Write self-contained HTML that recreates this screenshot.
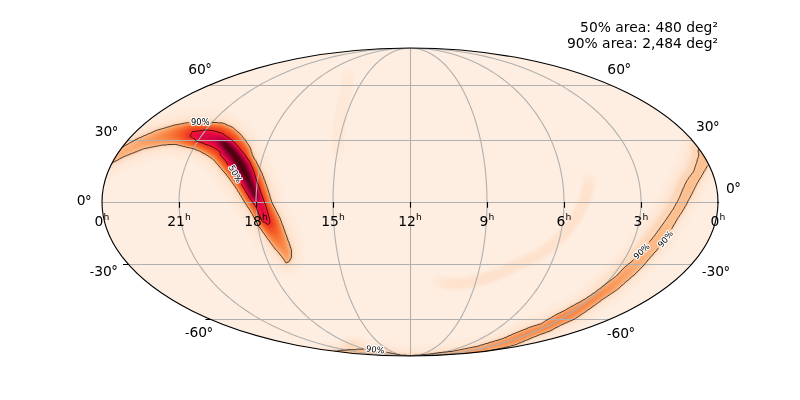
<!DOCTYPE html>
<html><head><meta charset="utf-8"><style>html,body{margin:0;padding:0;background:#fff;overflow:hidden}svg{display:block;will-change:transform}</style></head>
<body>
<svg width="800" height="400" viewBox="0 0 800 400">
<rect width="800" height="400" fill="#fff"/>
<defs><clipPath id="ec"><ellipse cx="410" cy="202" rx="308" ry="154"/></clipPath></defs>
<ellipse cx="410" cy="202" rx="308" ry="154" fill="#feeee1"/>
<g clip-path="url(#ec)"><path d="M344.8 70.5 346.8 70.3 350.8 70.8 352.2 71.3 353.2 72.5 354.0 74.8 354.3 77.8 354.2 80.8 353.7 86.8 349.6 103.2 346.7 118.8 344.7 140.2 344.2 149.8 343.1 156.8 342.2 159.6 341.8 160.5 340.8 161.5 339.2 162.0 335.8 161.9 334.8 161.7 333.8 161.1 332.8 159.6 331.8 155.8 331.4 150.8 331.3 139.8 333.3 117.2 336.4 100.8 340.4 84.8 341.0 78.8 341.5 75.8 342.1 73.8 342.8 72.4 343.2 71.6 344.3 70.8ZM198.8 108.2 213.2 108.7 224.8 109.4 227.8 110.2 238.2 114.9 240.2 116.1 242.2 117.6 248.5 122.8 250.5 124.8 256.5 132.2 261.5 139.8 263.2 143.2 265.2 149.8 269.1 156.8 275.4 169.8 279.3 180.2 284.5 196.8 293.4 214.8 301.5 236.8 304.6 246.2 305.1 249.2 305.1 257.8 304.9 259.8 304.4 261.8 301.8 267.2 300.6 269.2 298.2 271.7 295.8 273.5 292.2 275.4 290.2 276.2 287.8 276.7 285.2 276.8 282.8 276.4 280.2 275.4 277.8 273.9 276.0 272.2 269.7 263.8 266.8 260.1 264.5 257.8 262.9 255.8 247.8 234.8 246.6 232.8 243.3 226.2 238.1 217.2 233.1 209.8 223.6 194.2 217.6 185.8 204.2 170.0 199.8 167.0 193.8 163.6 189.2 161.9 173.2 158.1 164.8 158.6 147.2 162.2 130.8 168.8 117.8 175.5 102.8 183.6 88.2 188.4 85.8 188.8 83.8 188.8 81.8 188.4 79.2 187.6 77.2 186.4 75.7 185.2 74.2 183.7 72.9 181.8 72.0 179.8 71.5 177.8 71.2 175.8 71.2 173.2 76.3 147.8 77.4 144.2 78.8 142.0 80.8 139.7 83.2 137.9 85.2 137.0 87.2 136.5 89.8 136.2 91.8 136.3 95.8 137.3 106.2 140.5 117.2 134.1 130.2 126.9 151.8 117.4 172.2 111.5 185.8 109.0 198.7 108.2ZM713.8 114.2 715.8 114.2 718.2 114.6 720.8 115.4 722.8 116.6 724.3 117.8 725.7 119.2 727.3 121.8 729.0 123.8 729.9 125.2 731.0 128.2 735.9 148.2 736.0 150.2 735.8 152.3 735.1 154.2 734.4 155.8 733.3 157.2 731.8 158.8 723.8 165.8 716.2 172.9 707.2 188.2 696.4 209.2 692.1 216.8 686.8 224.8 682.0 233.2 673.8 245.8 667.4 254.8 658.8 264.6 652.8 271.8 640.8 283.8 631.2 291.8 623.8 298.5 611.2 306.8 601.2 314.1 587.8 323.5 579.8 328.7 565.2 335.2 554.2 341.1 541.8 345.7 518.8 355.3 509.2 357.7 501.2 359.5 501.0 359.8 501.0 370.8 500.6 372.8 500.1 374.2 498.7 376.8 496.8 378.7 494.8 379.9 492.2 380.8 489.8 381.0 329.8 381.0 327.2 380.6 324.8 379.7 322.7 378.2 321.0 376.2 319.7 373.7 319.0 370.8 319.0 352.2 319.2 350.2 320.1 347.2 321.7 344.8 324.1 342.8 326.8 341.5 336.8 339.7 340.2 337.8 344.2 336.4 347.8 335.8 351.8 335.5 354.8 335.6 358.2 336.1 361.2 336.9 364.8 338.3 365.8 338.4 376.2 339.6 389.2 341.4 402.2 344.0 409.2 344.5 422.8 343.7 438.8 341.6 450.2 340.5 452.2 340.1 474.8 335.6 499.1 328.2 509.8 323.5 526.2 316.9 536.4 313.8 543.8 309.1 551.2 304.8 559.8 300.6 566.2 296.8 571.2 294.2 579.8 287.3 594.8 273.7 603.8 265.8 612.9 255.2 618.9 249.8 626.4 240.8 634.8 230.3 651.0 207.8 655.6 200.8 660.8 191.8 664.3 183.2 667.4 176.2 669.2 172.8 672.5 167.8 676.1 162.8 679.5 152.2 679.2 149.8 679.2 147.8 679.8 144.2 684.8 128.8 685.9 126.2 687.2 124.3 688.7 122.8 690.0 121.8 691.8 120.7 693.2 120.0 711.2 114.7 713.7 114.2ZM586.2 172.2 587.2 171.8 588.8 171.8 592.8 172.4 594.2 172.9 595.2 173.7 595.8 174.4 596.2 175.6 596.6 177.2 596.6 181.8 596.1 186.8 591.0 204.8 590.4 206.2 582.6 221.8 570.8 237.5 557.5 250.8 542.2 262.0 540.8 262.9 520.8 271.4 502.8 280.4 484.8 286.7 466.8 291.0 464.8 291.2 446.2 291.1 441.2 289.5 437.2 288.0 433.2 285.9 432.1 284.8 431.5 283.8 431.3 282.8 431.4 281.8 431.9 279.8 432.8 277.2 433.4 276.2 434.2 275.4 435.2 275.0 437.2 274.6 439.8 274.6 443.2 275.1 448.2 276.0 463.8 276.0 479.7 272.2 497.0 266.2 514.2 257.6 533.8 249.2 547.8 239.0 559.2 227.5 569.8 213.4 576.6 199.7 583.0 177.2 584.7 173.8 585.2 173.0 586.1 172.2Z" fill="#feebdc"/><path d="M345.8 74.2 350.2 74.6 351.2 75.0 352.1 76.2 352.6 77.8 352.7 79.8 352.2 86.8 348.1 103.2 345.2 118.8 343.2 140.2 342.9 145.2 342.2 150.1 341.2 152.9 340.2 154.1 339.2 154.4 336.2 154.3 335.2 154.1 334.8 153.7 333.8 152.1 333.1 149.2 332.8 145.2 332.8 139.8 334.8 117.2 337.9 100.8 341.8 85.2 342.3 79.8 342.7 77.8 343.8 75.4 344.4 74.8 345.4 74.2ZM194.2 112.7 200.2 112.3 202.2 112.6 206.8 112.6 208.8 112.8 212.8 112.8 214.8 113.1 223.8 113.4 226.2 114.1 235.3 118.1 237.2 119.1 239.2 120.5 245.8 125.9 247.6 127.8 253.2 134.8 257.9 141.8 259.3 144.8 261.3 151.2 265.4 158.8 271.5 171.2 275.4 181.8 280.6 198.2 289.5 216.2 297.6 238.2 300.6 247.2 300.9 249.2 300.9 257.2 300.5 260.2 298.4 264.8 297.3 266.8 295.8 268.4 293.8 269.9 291.2 271.3 289.2 272.2 287.8 272.5 285.8 272.6 283.8 272.3 281.8 271.5 280.2 270.6 278.9 269.2 273.9 262.2 269.8 257.2 267.0 254.2 251.1 232.2 250.2 230.8 247.0 224.2 241.8 215.2 236.5 207.2 227.2 192.2 220.9 183.2 215.2 176.4 206.8 166.7 201.8 163.3 195.8 160.0 190.8 158.0 173.8 153.9 167.2 154.4 164.8 154.4 146.0 158.2 128.8 165.2 115.8 171.8 100.8 179.9 87.8 184.3 86.2 184.6 84.2 184.6 82.8 184.4 81.2 183.9 79.8 183.1 78.6 182.2 77.6 181.2 76.6 179.8 75.9 178.2 75.5 176.8 75.3 175.2 75.4 173.2 80.3 148.8 81.1 146.2 81.9 144.8 83.2 143.1 85.2 141.6 86.8 140.9 88.2 140.5 89.8 140.3 91.8 140.5 106.8 145.0 111.2 142.6 119.8 137.5 132.2 130.6 152.8 121.5 173.2 115.5 186.2 113.2 194.0 112.8ZM712.2 118.7 714.2 118.4 716.2 118.4 718.2 118.9 719.8 119.6 721.8 121.1 723.4 123.2 725.2 124.6 726.5 126.2 727.5 128.8 732.5 148.8 732.5 150.2 732.3 151.8 731.2 154.2 729.4 156.2 721.4 163.2 713.8 170.4 704.3 186.3 698.5 197.8 693.3 207.8 689.2 214.8 683.8 223.1 679.1 231.2 671.0 243.8 664.8 252.5 656.1 262.2 650.2 269.3 638.4 281.2 630.8 287.6 621.2 296.0 609.2 304.0 599.2 311.3 582.8 322.7 577.8 325.8 563.8 332.0 553.2 337.8 539.2 342.9 517.8 352.0 504.2 355.3 497.8 356.6 497.5 357.2 497.5 370.2 497.2 372.2 496.2 374.2 494.8 375.8 493.2 376.8 491.3 377.4 329.8 377.5 327.8 377.2 326.2 376.5 324.8 375.4 323.8 374.2 322.8 372.2 322.5 370.2 322.5 351.8 322.8 349.8 323.5 348.2 324.8 346.6 326.8 345.2 328.8 344.6 337.2 343.1 338.4 341.8 339.8 340.6 341.8 339.5 344.2 338.5 346.8 337.8 349.8 337.4 352.8 337.3 355.8 337.6 358.8 338.2 361.2 339.0 363.8 340.3 365.8 341.9 375.8 343.0 388.8 344.8 401.8 347.4 408.8 348.0 411.8 348.0 413.2 347.7 423.2 347.2 439.2 345.0 451.8 343.8 475.2 339.0 499.8 331.7 510.8 326.9 527.2 320.3 537.8 317.0 543.2 313.5 552.8 308.0 561.8 303.5 567.8 300.0 574.7 296.2 579.2 292.7 586.8 286.3 597.2 276.7 606.2 268.8 615.8 258.0 621.8 252.5 629.5 243.2 637.5 233.2 642.9 226.2 654.3 210.2 659.3 202.8 664.5 193.8 668.2 184.8 672.8 174.8 675.8 170.2 679.8 164.8 683.7 152.8 683.8 152.2 683.3 148.8 683.7 145.8 688.7 130.2 690.2 127.2 692.2 125.2 694.8 123.9 712.2 118.8ZM586.8 175.1 588.2 174.9 591.8 175.4 593.2 175.9 594.2 176.7 594.9 177.8 595.3 179.8 595.5 182.2 595.3 185.8 594.3 189.8 590.0 204.8 582.1 220.8 569.7 237.2 556.8 250.2 541.6 261.2 540.2 262.1 520.2 270.6 502.2 279.6 484.2 285.8 466.8 290.1 464.8 290.3 450.8 290.3 446.2 290.1 442.3 288.8 438.9 287.2 436.5 285.8 435.6 284.8 435.2 283.8 435.1 282.8 436.1 278.8 437.0 277.2 438.2 276.5 439.5 276.2 441.2 276.2 444.2 276.4 448.2 277.0 464.2 276.9 480.8 272.9 497.2 267.2 514.8 258.4 534.2 250.1 548.3 239.8 559.8 228.2 570.3 214.2 577.4 200.2 583.5 179.8 584.8 176.9 585.8 175.7 586.4 175.2Z" fill="#fee9d9"/><path d="M194.2 115.2 200.2 114.8 202.2 115.0 206.8 115.0 208.2 115.3 212.8 115.3 219.8 115.8 223.2 115.8 225.2 116.3 234.8 120.5 236.2 121.3 238.2 122.8 244.2 127.8 245.8 129.3 250.9 135.8 255.9 143.2 257.1 145.8 259.1 152.2 263.2 159.8 269.3 172.2 273.0 182.2 278.4 199.2 287.1 216.8 294.1 235.8 298.2 247.8 298.5 249.8 298.5 257.2 298.1 259.8 295.3 265.2 293.9 266.8 292.2 267.9 288.8 269.8 287.2 270.2 285.8 270.2 284.2 269.9 282.8 269.3 281.8 268.7 280.3 267.2 275.8 260.8 271.8 255.8 269.3 253.2 268.2 251.8 253.2 231.0 252.4 229.8 248.9 222.8 243.8 213.8 238.7 206.2 229.2 190.8 222.2 181.0 211.0 167.8 208.2 164.7 203.2 161.3 196.8 157.7 191.8 155.7 174.2 151.5 164.2 152.0 145.8 155.7 128.2 162.8 114.4 169.8 99.8 177.7 87.2 181.9 84.8 182.2 82.2 181.7 80.0 180.2 78.5 178.2 77.8 175.8 77.9 173.2 82.7 149.2 83.3 147.2 84.2 145.8 85.2 144.6 86.8 143.5 88.8 142.9 91.2 142.9 105.2 147.1 107.2 147.6 112.3 144.8 120.8 139.7 133.2 132.8 153.8 123.7 173.2 118.0 186.8 115.6 193.9 115.2ZM712.8 121.1 714.2 120.8 715.8 120.8 718.2 121.5 720.0 122.8 721.6 124.8 722.8 125.2 723.8 126.0 725.0 127.8 725.5 129.2 730.4 148.8 730.4 151.2 729.4 153.2 728.0 154.8 720.2 161.5 712.1 169.2 702.5 185.2 691.5 206.8 687.5 213.8 682.2 221.8 677.4 230.2 669.2 242.6 663.2 251.2 654.8 260.8 648.5 268.2 637.0 279.8 627.8 287.5 620.2 294.2 608.1 302.2 597.9 309.8 581.8 320.9 576.8 324.0 562.8 330.2 552.2 336.0 539.8 340.5 517.2 350.0 503.8 353.4 495.8 355.0 495.5 355.2 495.5 369.8 495.4 371.3 494.8 372.8 493.8 374.0 492.8 374.8 491.2 375.4 489.8 375.5 329.8 375.5 328.2 375.2 327.2 374.8 325.6 373.2 324.8 371.8 324.5 370.2 324.5 351.8 324.8 350.2 325.2 349.2 326.5 347.8 328.2 346.8 338.8 344.9 339.6 343.2 341.1 341.8 343.2 340.4 345.8 339.4 348.2 338.9 350.8 338.6 353.2 338.6 355.8 338.9 358.8 339.6 361.2 340.7 362.9 341.8 364.0 342.8 364.7 343.8 365.2 344.0 375.8 345.1 388.2 346.8 401.8 349.5 408.8 350.0 411.8 350.0 420.8 349.3 423.2 349.3 439.3 347.1 450.8 346.0 475.7 341.0 500.2 333.7 511.8 328.6 528.2 322.0 538.8 318.8 542.8 316.1 553.8 309.7 562.7 305.2 568.8 301.7 577.2 297.2 582.8 292.7 587.9 288.2 598.8 278.4 607.6 270.8 617.2 259.7 623.3 254.2 631.2 244.8 643.3 229.8 656.2 211.7 661.5 203.8 666.7 194.8 670.4 185.8 673.5 178.8 675.1 175.8 677.8 171.7 681.8 166.2 685.1 156.8 686.2 152.8 685.8 149.2 685.8 147.8 686.1 146.2 690.9 131.2 692.2 128.6 693.8 127.2 695.8 126.1 712.4 121.2ZM587.2 177.7 588.8 177.7 591.2 178.2 592.2 178.4 593.2 179.1 593.8 179.9 594.2 181.5 594.4 185.8 593.5 189.8 589.2 204.6 581.4 220.2 569.1 236.8 556.2 249.5 541.0 260.8 539.8 261.4 519.8 269.9 502.2 278.7 483.3 285.2 466.2 289.3 464.8 289.5 450.8 289.5 446.7 289.3 444.9 288.8 441.5 287.2 440.0 286.2 439.0 285.2 438.5 284.2 438.4 283.2 439.1 280.2 439.8 278.8 440.3 278.2 441.2 277.8 443.8 277.5 448.2 277.9 450.8 277.7 464.2 277.7 480.8 273.8 497.8 267.9 514.9 259.2 534.8 250.7 548.9 240.2 560.4 228.8 571.0 214.8 578.3 200.2 582.3 186.2 584.2 180.8 584.8 179.8 585.8 178.5 587.0 177.8Z" fill="#fee7d6"/><path d="M198.8 116.6 200.2 116.5 201.8 116.8 206.2 116.8 208.2 117.0 212.8 117.0 214.2 117.3 223.2 117.5 224.8 118.0 233.8 122.0 235.2 122.7 236.8 123.8 243.3 129.2 244.7 130.8 249.8 137.1 254.5 144.2 255.5 146.2 257.4 152.8 261.5 160.2 267.6 172.8 271.7 183.8 276.9 200.2 285.6 217.8 292.5 236.2 296.5 248.2 296.7 249.8 296.7 257.2 296.5 259.2 293.9 264.2 292.8 265.5 291.2 266.5 288.2 268.1 286.2 268.5 284.8 268.3 283.8 267.9 282.8 267.2 281.8 266.2 277.2 259.8 273.2 254.8 270.7 252.3 269.6 250.8 254.8 230.2 253.9 228.8 250.6 222.2 245.5 213.2 240.1 205.2 230.8 189.9 224.2 180.8 218.5 173.8 210.8 164.8 209.3 163.3 204.2 159.9 197.2 156.0 192.2 154.0 174.2 149.7 168.8 150.0 167.2 150.2 164.2 150.2 145.2 154.0 127.3 161.2 113.8 168.1 99.2 176.0 86.8 180.2 84.8 180.5 82.8 180.0 81.0 178.8 80.0 177.2 79.5 175.8 79.5 173.8 84.5 149.2 85.0 147.8 85.6 146.8 86.5 145.8 87.8 145.0 89.2 144.5 91.2 144.6 107.2 149.5 113.2 146.2 121.8 141.1 133.8 134.5 154.2 125.4 173.8 119.6 186.8 117.3 189.8 117.3 195.2 116.8 198.3 116.8ZM713.8 122.6 715.8 122.5 717.8 123.2 719.0 124.2 720.0 125.8 722.2 126.6 723.0 127.2 723.7 128.2 724.2 129.8 728.9 148.8 729.1 150.2 728.9 151.2 728.4 152.2 727.2 153.5 719.2 160.5 710.8 168.6 701.2 184.6 695.4 196.2 690.4 205.8 686.2 213.0 680.8 221.2 676.3 229.2 668.1 241.8 661.8 250.7 653.3 260.2 647.5 267.2 636.0 278.8 626.8 286.5 619.2 293.2 607.1 301.2 597.2 308.4 580.8 319.9 576.2 322.7 562.2 328.9 551.8 334.7 537.8 339.8 516.2 348.9 503.2 352.0 494.2 353.8 494.1 354.2 494.0 370.8 493.7 371.8 492.8 373.0 491.8 373.7 490.8 374.0 330.2 374.1 329.2 374.0 328.2 373.7 327.2 373.0 326.6 372.2 326.1 371.2 325.9 369.8 325.9 351.8 326.1 350.8 326.6 349.8 327.6 348.8 328.8 348.1 340.2 346.2 340.5 345.8 341.0 344.2 342.1 342.8 344.2 341.3 346.8 340.3 348.8 339.9 351.2 339.6 353.8 339.7 355.8 340.0 358.5 340.8 360.8 341.9 362.3 343.2 363.2 344.8 363.8 345.2 375.8 346.5 388.2 348.3 401.2 350.9 407.2 351.2 408.2 351.4 412.2 351.4 417.2 350.9 423.2 350.7 439.8 348.4 451.2 347.4 476.2 342.4 500.2 335.2 512.2 330.0 528.8 323.4 539.2 320.1 546.2 315.7 554.8 310.8 563.2 306.6 569.8 302.8 579.2 297.7 580.6 296.8 581.0 296.2 589.2 289.3 599.7 279.8 608.8 271.9 618.5 260.8 624.6 255.2 632.6 245.8 644.8 230.7 657.8 212.6 663.0 204.8 668.1 195.8 669.1 193.8 671.9 186.8 676.5 176.8 679.2 172.6 683.5 166.8 688.0 152.8 687.5 149.2 687.7 146.8 692.5 131.8 693.6 129.8 694.8 128.6 696.2 127.8 713.4 122.8ZM586.8 180.6 587.8 180.5 590.2 180.9 591.2 181.1 592.2 181.7 592.8 182.3 593.1 183.2 593.4 185.8 592.7 189.2 588.4 204.2 580.7 219.8 568.3 236.3 555.8 248.8 540.8 259.8 539.1 260.8 519.8 269.0 502.2 277.8 483.8 284.2 465.2 288.6 450.8 288.6 446.8 288.3 444.3 287.2 442.4 285.8 442.0 285.2 441.8 284.2 442.1 282.8 442.9 280.2 443.2 279.8 443.9 279.2 445.8 278.9 447.8 278.9 450.2 278.6 464.2 278.6 481.3 274.5 498.2 268.6 515.2 260.0 535.2 251.5 549.7 240.8 561.2 229.2 571.8 215.2 579.0 200.8 583.8 184.8 585.2 181.8 586.5 180.8Z" fill="#fee5d2"/><path d="M194.8 118.2 200.2 117.8 201.8 118.1 206.2 118.1 207.8 118.3 212.8 118.3 214.2 118.6 223.2 118.9 233.2 123.2 234.8 124.0 236.2 125.1 243.4 131.2 248.6 137.8 253.2 144.8 254.2 146.8 256.1 153.2 260.5 161.2 266.4 173.2 270.5 184.2 275.6 200.8 284.4 218.2 292.5 240.2 295.3 248.8 295.4 257.2 295.2 258.8 293.0 263.2 292.1 264.2 290.8 265.2 287.8 266.9 286.2 267.2 285.2 267.0 284.2 266.6 282.8 265.3 278.2 258.9 274.2 253.9 271.6 251.2 270.8 250.1 255.8 229.2 251.6 221.2 246.4 212.2 241.2 204.5 231.9 189.2 224.8 179.2 212.1 164.2 210.2 162.4 204.8 158.6 197.8 154.8 192.2 152.6 185.2 151.1 174.8 148.5 172.2 148.4 171.2 148.6 168.2 148.7 167.2 148.9 164.2 148.9 162.8 149.2 144.8 152.8 127.2 159.8 112.8 167.1 98.2 175.0 86.2 179.0 85.2 179.2 83.8 179.0 82.8 178.5 81.9 177.8 81.2 176.8 80.8 175.2 80.9 173.8 85.7 149.8 86.5 147.8 87.2 146.9 88.2 146.2 89.2 145.9 90.8 145.9 107.2 151.0 107.8 150.9 114.1 147.2 122.2 142.4 134.8 135.5 154.8 126.6 174.2 120.9 186.8 118.7 194.6 118.2ZM713.2 124.2 714.2 123.9 715.2 123.8 716.7 124.2 718.1 125.2 719.3 127.1 720.2 127.1 721.2 127.3 721.9 127.8 722.7 128.8 727.9 149.2 727.9 150.2 727.7 151.2 726.2 152.9 718.8 159.4 709.9 167.8 700.2 184.1 694.4 195.8 689.4 205.2 685.2 212.5 679.8 220.8 675.3 228.8 667.1 241.2 661.1 249.8 652.7 259.2 646.8 266.4 635.2 277.9 626.2 285.4 618.6 292.2 603.8 302.2 596.3 307.8 580.2 318.9 575.8 321.7 562.1 327.8 551.2 333.7 538.8 338.2 516.2 347.7 503.2 350.8 493.2 352.9 492.9 353.2 492.9 370.2 492.7 371.2 492.2 371.9 491.8 372.4 490.8 372.8 330.2 372.9 328.8 372.7 327.6 371.8 327.2 370.8 327.1 369.8 327.1 351.8 327.6 350.2 328.2 349.6 329.2 349.2 340.8 347.3 342.2 346.9 342.3 345.2 343.1 343.8 345.0 342.2 347.3 341.2 349.8 340.7 352.2 340.6 354.8 340.8 356.8 341.3 358.8 342.1 360.2 343.1 361.2 344.2 361.8 345.8 362.8 346.3 375.2 347.6 387.8 349.3 401.2 352.1 403.2 352.1 408.2 352.6 412.2 352.6 413.8 352.3 416.2 352.3 417.2 352.1 423.8 351.8 439.8 349.6 448.8 348.8 449.8 348.6 451.2 348.6 476.2 343.6 501.2 336.1 512.8 331.0 528.8 324.6 539.8 321.2 544.2 318.2 555.2 311.8 564.2 307.3 570.2 303.8 578.8 299.3 584.8 295.7 587.7 293.7 589.2 292.5 589.8 292.2 590.2 290.2 591.1 289.2 591.8 288.8 601.2 280.0 609.2 273.2 619.2 261.8 625.9 255.8 645.8 231.6 658.6 213.8 663.6 206.2 669.1 196.8 670.2 194.5 673.1 187.2 677.5 177.8 680.4 173.2 684.8 167.3 688.0 157.8 689.4 152.8 688.8 149.2 689.0 147.2 693.8 132.2 694.8 130.4 695.8 129.5 696.8 129.0 713.1 124.2ZM586.8 184.2 587.8 184.1 589.8 184.5 590.8 184.8 591.2 185.2 591.6 186.8 591.5 188.8 587.2 203.8 579.2 219.7 567.5 235.2 555.0 247.8 540.7 258.2 539.2 259.3 518.8 268.0 501.3 276.8 483.7 282.9 465.2 287.3 450.8 287.3 448.8 287.0 446.6 286.2 446.2 285.8 446.1 284.8 446.5 282.8 446.9 281.8 448.2 280.4 451.2 279.9 464.8 279.9 481.2 275.9 498.2 270.0 515.7 261.2 535.2 253.0 536.8 252.0 550.2 242.0 562.0 230.2 573.0 215.8 580.2 201.2 584.8 186.0 585.6 184.8 586.6 184.2Z" fill="#fee2ce"/><path d="M195.2 119.1 198.8 119.1 200.2 118.8 201.2 119.1 206.2 119.1 207.8 119.3 212.8 119.3 213.8 119.6 217.8 119.6 218.8 119.8 223.2 119.9 232.8 124.1 235.2 125.6 241.8 131.0 243.0 132.2 248.1 138.8 252.4 145.2 253.1 146.8 255.2 153.8 259.9 162.2 265.5 173.8 269.6 184.8 274.7 201.2 283.5 218.8 288.0 230.8 294.1 248.2 294.4 249.8 294.3 258.2 292.1 262.8 290.2 264.4 288.2 265.6 286.8 266.1 285.2 266.0 284.2 265.5 283.5 264.8 279.8 259.2 278.2 257.2 275.0 253.2 272.1 250.2 259.3 232.2 256.6 228.8 255.9 227.8 252.8 221.2 247.3 211.8 241.9 203.8 238.8 198.2 232.8 188.8 225.3 178.2 214.3 165.2 210.8 161.5 205.2 157.7 197.9 153.8 192.8 151.7 185.2 150.1 174.8 147.4 168.2 147.7 166.8 147.9 163.8 147.9 162.2 148.2 144.6 151.8 127.1 158.8 112.2 166.2 98.2 173.9 85.8 178.1 84.8 178.2 83.8 177.9 82.8 177.2 82.1 176.2 81.8 175.2 81.9 173.8 86.6 150.2 87.4 148.2 88.8 147.1 89.8 146.8 90.8 146.9 106.4 151.8 107.8 151.9 112.8 149.3 121.2 144.1 135.8 136.1 155.2 127.5 174.2 121.9 187.2 119.6 194.9 119.2ZM713.8 125.2 714.8 124.9 716.2 125.2 717.5 126.2 718.2 128.2 718.8 128.3 719.8 128.0 720.8 128.1 721.2 128.4 721.9 129.2 727.0 149.2 727.0 150.2 726.9 150.8 725.8 152.1 718.1 158.8 709.2 167.1 699.4 183.8 693.7 195.2 690.9 200.2 688.7 204.8 684.7 211.8 679.0 220.2 674.5 228.2 666.3 240.8 660.3 249.2 651.9 258.8 646.1 265.8 634.8 277.1 625.6 284.8 617.8 291.8 605.6 299.8 595.8 307.0 579.8 318.1 574.8 321.2 561.8 326.9 551.2 332.7 537.2 337.8 515.8 346.9 502.8 350.0 492.2 352.1 492.1 352.2 492.1 352.8 492.0 370.2 491.6 371.2 491.2 371.6 490.2 372.0 330.2 372.1 329.2 371.9 328.4 371.2 328.1 370.8 327.9 369.8 327.9 352.2 328.1 351.2 328.4 350.8 328.8 350.4 329.8 350.0 341.8 348.0 344.2 347.9 344.5 347.8 344.0 346.8 343.9 345.8 344.5 344.2 346.2 342.8 348.2 342.0 350.2 341.6 352.8 341.5 354.8 341.8 356.8 342.4 358.4 343.2 359.5 344.2 360.0 345.2 360.0 346.8 360.2 347.2 361.8 347.0 362.8 347.2 370.8 348.0 371.7 348.2 375.2 348.5 381.2 349.4 382.2 349.4 383.2 349.7 385.8 349.9 386.8 350.2 387.8 350.2 399.8 352.7 401.2 352.9 403.2 352.9 404.2 353.2 406.7 353.2 407.8 353.4 412.8 353.4 413.8 353.2 416.2 353.2 417.2 353.0 423.8 352.7 439.8 350.5 443.8 350.2 444.8 350.0 448.8 349.7 449.8 349.5 452.8 349.2 477.2 344.2 500.8 337.2 514.2 331.3 529.2 325.3 540.2 322.0 544.8 319.0 553.8 313.7 564.5 308.2 571.2 304.3 579.0 300.2 585.2 296.5 593.6 290.8 599.4 286.2 599.9 285.8 600.0 285.2 600.0 282.8 600.2 282.7 601.8 281.0 602.2 280.8 603.8 279.2 604.2 279.0 610.2 273.8 619.8 262.8 626.8 256.4 646.7 232.2 659.9 213.8 664.9 206.2 670.1 197.2 671.3 194.8 675.2 185.2 678.4 178.2 681.2 174.0 685.6 168.2 688.9 158.2 690.4 153.2 690.4 151.8 689.9 149.2 690.1 147.2 694.6 133.2 695.5 131.2 696.2 130.5 697.8 129.9 713.6 125.2Z" fill="#fde0c9"/><path d="M195.2 119.6 198.8 119.6 200.2 119.3 201.2 119.6 206.2 119.6 207.8 119.8 212.8 119.8 213.8 120.1 217.8 120.1 218.8 120.3 222.8 120.3 227.8 122.4 233.9 125.2 241.3 131.2 242.7 132.8 246.7 137.8 251.5 144.8 252.8 147.2 254.7 153.8 259.1 161.8 265.0 173.8 269.1 184.8 274.2 201.2 283.0 218.8 289.8 237.2 293.6 248.2 293.9 249.8 293.9 257.8 293.6 258.8 291.9 262.2 290.8 263.5 288.2 265.0 286.8 265.6 285.2 265.5 283.8 264.2 280.4 259.2 278.5 256.8 275.2 252.8 272.8 250.3 272.0 249.2 256.5 227.8 253.0 220.8 247.9 211.8 242.5 203.8 232.8 187.8 225.8 178.0 213.2 163.2 211.2 161.3 205.3 157.2 198.2 153.4 192.8 151.2 185.2 149.6 174.8 146.9 168.2 147.2 166.8 147.4 163.8 147.4 144.2 151.4 126.2 158.6 112.2 165.8 97.8 173.6 85.2 177.7 83.8 177.4 82.6 176.2 82.3 175.2 82.3 174.2 87.1 150.2 87.6 148.8 88.8 147.6 89.8 147.3 90.8 147.4 106.8 152.4 107.8 152.5 114.8 148.6 121.2 144.6 135.2 136.9 155.2 128.0 174.2 122.4 187.2 120.1 190.2 120.1 191.8 119.8 194.9 119.8ZM713.8 126.2 715.2 125.9 716.2 126.3 717.0 127.2 717.4 128.8 718.2 128.9 720.2 128.4 720.8 128.6 721.4 129.2 726.5 149.2 726.4 150.8 725.2 152.0 724.7 152.3 717.8 158.5 715.2 161.0 714.8 161.3 708.8 167.1 704.9 173.8 699.2 183.2 693.4 194.8 690.7 199.8 688.4 204.2 684.2 211.8 678.8 219.8 674.0 228.2 671.4 232.2 660.9 247.8 658.5 250.8 651.3 258.8 645.5 265.8 634.2 277.0 627.2 282.8 619.2 290.0 616.8 291.9 606.3 298.8 601.3 302.2 595.8 306.5 579.2 317.9 575.2 320.4 561.1 326.8 550.8 332.4 536.8 337.5 515.8 346.4 502.8 349.6 491.8 351.8 491.6 352.2 491.6 370.2 491.2 371.0 490.8 371.4 490.2 371.6 330.2 371.6 329.2 371.4 328.6 370.8 328.4 369.8 328.4 352.2 328.6 351.2 329.2 350.6 331.2 350.1 341.8 348.4 346.5 348.2 346.5 347.8 346.0 347.2 345.6 346.2 345.8 345.2 346.2 344.5 347.1 343.8 349.2 342.8 350.8 342.5 352.8 342.5 354.5 342.8 356.2 343.4 357.2 344.0 358.0 344.8 358.4 345.8 358.2 346.7 358.0 347.2 358.8 347.5 360.2 347.6 361.8 347.4 364.8 347.9 366.2 347.9 369.2 348.4 375.2 348.9 381.2 349.9 387.8 350.6 400.8 353.3 406.7 353.6 407.8 353.9 412.8 353.9 413.8 353.6 416.2 353.6 417.2 353.4 420.2 353.4 421.2 353.1 423.8 353.1 433.8 351.8 434.2 351.6 437.2 351.4 439.8 350.9 451.8 349.8 476.8 344.8 501.8 337.3 513.2 332.2 529.8 325.6 540.7 322.2 546.2 318.6 555.8 313.1 564.4 308.8 570.8 305.1 577.2 301.8 585.7 296.8 593.7 291.2 604.2 283.2 606.2 281.4 607.4 280.8 608.2 279.9 608.8 279.8 609.3 279.2 610.0 278.2 610.0 275.2 610.2 275.2 615.0 269.8 615.6 268.8 620.6 263.2 626.2 258.2 627.6 256.8 628.2 255.8 635.1 247.8 640.7 240.8 643.5 237.8 648.2 231.7 660.7 214.2 665.8 206.7 670.9 197.8 672.2 195.0 675.1 187.7 679.5 178.2 686.6 168.2 690.1 157.8 691.5 152.8 690.9 149.2 690.9 147.8 695.7 132.8 696.2 131.8 696.8 131.2 698.2 130.7 713.5 126.2Z" fill="#fdddc5"/><path d="M191.8 120.2 194.8 120.2 195.8 120.0 198.8 120.0 200.2 119.8 201.2 120.0 206.2 120.0 207.2 120.2 212.8 120.3 213.8 120.5 217.8 120.5 218.8 120.7 223.2 120.9 232.8 125.1 234.8 126.4 242.2 132.8 247.6 139.8 252.1 146.8 254.3 153.8 258.9 162.2 264.5 173.8 268.6 184.8 273.8 201.2 282.5 218.8 290.6 240.8 293.5 249.2 293.5 257.8 291.4 262.2 289.8 263.6 286.8 265.2 285.8 265.2 284.8 264.7 279.8 257.8 275.8 252.8 273.2 250.2 272.1 248.8 260.0 231.8 257.4 228.2 253.2 220.3 248.2 211.5 242.8 203.3 233.6 188.2 226.0 177.8 215.0 164.8 211.3 160.8 205.8 157.0 198.8 153.1 192.8 150.8 185.2 149.1 174.8 146.5 167.8 146.8 166.8 147.0 163.8 147.0 162.2 147.3 144.8 150.8 126.0 158.2 111.8 165.5 97.8 173.1 85.2 177.2 84.2 177.1 83.1 176.2 82.8 175.2 82.8 174.2 87.5 150.2 88.1 148.8 88.8 148.1 89.8 147.8 90.8 147.9 107.8 153.0 114.8 149.1 123.2 144.0 135.8 137.1 155.2 128.5 174.2 122.9 187.2 120.5 190.8 120.5 191.6 120.2ZM714.8 126.7 715.4 126.8 716.1 127.2 716.8 129.3 717.2 129.4 719.8 128.7 720.5 128.8 721.1 129.2 721.5 130.2 726.3 149.2 726.3 150.2 726.1 150.8 717.7 158.2 708.7 166.8 698.9 183.2 693.1 194.8 687.9 204.8 683.9 211.8 678.5 219.8 674.0 227.8 671.1 232.2 665.9 240.2 660.6 247.8 658.6 250.2 651.2 258.4 645.2 265.7 634.2 276.7 625.2 284.2 619.2 289.7 616.8 291.6 602.8 300.9 595.7 306.2 579.2 317.6 574.2 320.6 561.5 326.2 550.8 332.1 535.8 337.7 516.8 345.8 515.2 346.3 502.8 349.3 491.8 351.5 491.4 351.8 491.4 352.2 491.3 370.2 491.1 370.8 490.2 371.3 330.2 371.4 329.2 371.1 328.9 370.8 328.6 369.8 328.6 352.2 328.9 351.2 329.8 350.7 339.8 349.1 341.7 348.7 346.2 348.6 346.8 348.4 350.4 348.2 349.0 347.8 348.3 347.2 347.7 346.2 347.8 345.5 348.3 344.8 349.0 344.2 350.2 343.8 351.8 343.6 353.2 343.7 354.8 344.1 355.7 344.8 356.2 345.5 356.3 346.2 355.8 347.2 355.0 347.8 355.8 347.9 360.2 347.9 361.8 347.7 362.2 347.8 372.8 348.9 373.8 349.1 375.2 349.2 381.2 350.1 387.8 350.9 400.8 353.6 406.8 353.9 407.8 354.1 412.8 354.1 413.8 353.9 416.2 353.9 417.2 353.7 420.2 353.6 421.2 353.4 424.2 353.3 424.8 353.2 426.2 353.1 426.8 352.9 429.8 352.6 432.2 352.2 433.8 352.1 434.2 351.9 437.2 351.6 439.8 351.2 446.8 350.6 447.2 350.4 449.2 350.3 449.8 350.2 451.8 350.1 476.8 345.1 501.8 337.6 513.2 332.5 528.2 326.5 540.8 322.5 546.2 318.9 555.8 313.4 565.0 308.8 570.8 305.4 579.5 300.8 585.8 297.0 594.1 291.2 615.0 275.2 619.8 270.2 620.0 269.8 620.0 265.2 620.2 264.8 621.1 263.8 621.8 263.5 623.4 261.8 624.1 261.2 626.2 259.1 626.8 258.9 628.2 257.2 628.8 256.4 633.2 251.2 639.7 243.2 644.1 238.2 648.1 233.2 659.6 217.2 666.3 207.2 671.5 198.2 673.0 195.2 675.8 188.2 680.1 178.8 682.8 174.9 687.3 168.8 690.6 158.8 692.4 152.8 691.7 149.2 691.8 147.8 695.8 135.2 696.9 132.2 697.2 131.9 698.2 131.5 714.6 126.8Z" fill="#fddbc1"/><path d="M199.2 120.2 200.2 120.1 201.2 120.3 206.2 120.3 207.2 120.6 212.2 120.6 213.8 120.8 217.8 120.9 218.8 121.1 222.8 121.1 232.8 125.5 234.8 126.8 241.8 132.8 246.9 139.2 251.2 145.8 252.0 147.2 254.1 154.2 258.5 162.2 264.3 174.2 268.1 184.2 273.4 201.2 282.3 219.2 289.0 237.2 293.1 249.2 293.1 257.8 290.9 262.2 289.7 263.2 286.8 264.8 285.8 264.8 285.2 264.6 284.4 263.8 280.2 257.8 276.2 252.8 273.3 249.8 272.6 248.8 257.1 227.2 253.6 220.2 248.5 211.2 243.1 203.2 234.0 188.2 226.2 177.5 213.8 162.8 211.8 160.7 206.0 156.8 198.8 152.8 192.8 150.4 185.8 148.9 174.8 146.2 171.8 146.2 170.8 146.4 167.8 146.4 166.8 146.7 163.8 146.7 162.2 146.9 144.8 150.4 143.8 150.8 126.2 157.8 111.8 165.1 97.8 172.8 85.2 176.9 84.2 176.8 83.6 176.2 83.2 175.8 83.1 174.2 87.9 150.2 88.6 148.8 89.2 148.2 90.2 148.1 92.2 148.7 107.8 153.4 115.2 149.2 123.2 144.4 135.8 137.5 155.8 128.7 174.8 123.1 187.2 120.9 190.8 120.8 191.8 120.6 194.8 120.6 195.8 120.3 199.2 120.2ZM714.2 127.6 715.2 127.4 715.6 127.8 715.9 129.2 716.2 129.8 716.8 129.8 719.8 128.9 720.2 128.9 720.8 129.1 721.1 129.8 726.0 149.2 726.1 150.2 725.2 151.4 717.8 157.9 708.4 166.8 698.8 183.0 692.9 194.8 687.8 204.5 683.8 211.5 678.3 219.8 673.8 227.8 671.5 231.2 665.6 240.2 660.4 247.8 658.4 250.2 651.1 258.2 645.2 265.4 634.2 276.4 626.8 282.6 619.2 289.4 617.2 291.0 602.8 300.6 595.3 306.2 579.2 317.4 574.8 320.1 561.0 326.2 550.2 332.1 535.8 337.4 515.2 346.1 506.2 348.2 502.8 349.1 493.2 350.9 491.2 351.5 491.2 369.8 490.9 370.8 490.2 371.1 330.2 371.2 329.8 371.1 329.1 370.8 328.8 369.8 328.8 352.2 329.1 351.2 329.8 350.9 330.8 350.8 331.2 350.6 333.8 350.3 334.2 350.1 336.8 349.8 337.2 349.6 339.8 349.3 341.8 348.9 346.2 348.8 346.8 348.6 350.8 348.5 351.8 348.3 355.8 348.3 356.8 348.1 360.8 348.1 361.8 347.9 362.2 348.1 363.8 348.1 364.8 348.3 366.2 348.4 366.8 348.6 368.2 348.6 369.2 348.8 370.8 348.9 371.2 349.1 375.2 349.4 379.2 350.1 387.8 351.1 400.8 353.8 406.8 354.1 407.8 354.3 412.8 354.3 413.8 354.1 420.2 353.8 421.2 353.6 424.2 353.6 424.8 353.4 426.2 353.3 426.8 353.1 428.8 352.8 439.2 351.6 439.8 351.4 441.8 351.3 442.2 351.1 446.8 350.8 447.2 350.6 449.2 350.6 449.8 350.4 451.8 350.3 474.8 345.6 476.8 345.3 501.8 337.8 513.2 332.7 529.8 326.1 540.8 322.7 545.2 319.7 554.2 314.5 565.2 308.9 571.2 305.4 579.8 300.9 584.8 297.9 594.2 291.4 605.2 282.9 614.9 275.8 625.2 265.0 628.8 262.3 629.8 261.2 630.0 260.8 630.0 256.2 630.2 255.7 634.2 251.2 634.3 250.8 636.2 248.7 641.9 241.8 644.6 238.8 648.6 233.8 661.6 215.8 666.6 208.2 672.1 198.8 673.8 195.4 675.9 189.8 680.7 179.2 683.4 175.2 687.6 169.8 688.1 168.8 691.6 158.2 692.9 153.8 693.1 152.8 692.4 148.2 697.4 132.8 697.8 132.4 698.8 132.1 713.9 127.8Z" fill="#fdd8bd"/><path d="M195.2 120.7 198.8 120.7 200.2 120.4 201.2 120.7 206.2 120.7 207.2 120.9 212.2 120.9 213.8 121.2 222.8 121.4 232.2 125.6 234.2 126.8 241.7 133.2 246.5 139.2 251.2 146.2 251.8 147.8 253.8 154.2 258.2 162.2 264.0 174.2 267.8 184.2 273.2 201.7 282.0 219.2 286.5 231.2 292.8 249.2 292.8 257.8 290.9 261.8 290.2 262.5 289.2 263.2 286.8 264.5 285.8 264.5 285.2 264.2 280.3 257.2 276.3 252.2 273.8 249.7 272.8 248.5 257.5 227.2 253.8 219.8 248.2 210.2 243.5 203.2 233.7 187.2 226.5 177.2 214.2 162.8 211.8 160.2 206.2 156.5 198.8 152.4 192.8 150.1 185.8 148.6 174.8 145.8 171.8 145.8 170.8 146.1 167.8 146.1 166.8 146.3 163.2 146.4 144.8 150.1 126.2 157.4 111.8 164.8 97.8 172.4 85.2 176.6 84.2 176.4 83.6 175.8 83.4 174.2 87.9 151.8 88.6 149.2 89.2 148.6 90.2 148.4 107.8 153.7 116.7 148.8 121.8 145.6 135.8 137.8 155.8 129.0 174.8 123.4 187.2 121.2 190.8 121.2 191.8 120.9 194.8 120.9 195.2 120.8ZM714.2 128.2 714.8 128.2 715.2 128.8 715.2 130.2 716.8 130.0 719.8 129.1 720.2 129.1 720.9 129.8 726.0 149.8 725.9 150.2 725.1 151.2 724.2 151.8 720.2 155.6 719.8 155.8 715.1 160.2 714.2 160.8 708.2 166.6 698.7 182.8 692.9 194.2 687.7 204.2 683.7 211.2 678.2 219.4 673.6 227.8 671.3 231.2 666.1 239.2 660.2 247.6 658.1 250.2 650.8 258.2 645.1 265.2 634.1 276.2 626.8 282.3 618.8 289.6 617.2 290.8 605.1 298.8 600.8 301.8 595.2 306.1 579.1 317.2 574.8 319.9 560.6 326.2 550.2 331.9 538.1 336.2 515.2 345.9 505.2 348.2 502.8 348.9 500.8 349.2 491.2 351.2 491.0 351.8 491.0 369.8 490.8 370.6 490.2 370.9 330.2 371.0 329.8 370.9 329.2 370.6 329.0 369.8 329.0 352.2 329.2 351.4 329.8 351.1 332.2 350.8 332.8 350.6 335.2 350.3 335.8 350.1 338.2 349.8 341.8 349.1 346.2 349.0 347.2 348.8 350.8 348.8 351.8 348.5 355.8 348.5 356.8 348.3 360.8 348.3 361.8 348.1 362.2 348.3 363.8 348.3 364.8 348.5 366.2 348.6 366.8 348.8 370.8 349.1 371.2 349.3 375.2 349.6 375.8 349.8 378.8 350.1 379.2 350.3 382.2 350.5 384.8 351.0 387.8 351.3 400.8 354.0 403.2 354.0 404.2 354.3 406.8 354.3 407.8 354.5 412.8 354.5 413.8 354.3 416.8 354.3 417.2 354.1 420.2 354.0 421.2 353.8 424.2 353.8 424.8 353.6 426.2 353.5 428.8 353.0 439.2 351.8 439.8 351.6 441.8 351.5 442.2 351.3 444.2 351.3 444.8 351.1 451.8 350.5 476.8 345.5 501.8 338.0 513.2 332.9 529.8 326.3 540.8 322.9 545.2 319.9 554.2 314.7 564.9 309.2 571.2 305.6 579.8 301.1 586.1 297.2 594.2 291.7 615.2 275.8 625.4 265.2 631.6 260.2 640.2 250.8 640.2 244.7 642.2 242.8 642.2 242.2 645.7 238.8 645.8 238.2 647.7 236.2 647.8 235.8 649.7 233.8 649.8 233.2 651.2 231.8 651.2 231.2 652.2 230.2 652.2 229.8 653.8 228.2 653.8 227.7 654.8 226.8 654.8 226.2 656.2 224.8 656.2 224.2 657.2 223.2 657.2 222.8 658.8 221.2 658.8 220.7 659.8 219.7 659.8 219.2 661.2 217.8 661.2 217.2 662.2 216.2 662.2 215.7 663.2 214.8 663.2 214.2 664.2 213.2 664.2 212.8 665.2 211.7 665.2 211.2 666.2 210.2 666.2 209.8 667.2 208.8 667.2 208.2 668.2 207.2 668.2 206.8 668.8 206.2 668.8 205.8 669.2 205.2 669.2 204.7 670.2 203.7 670.2 203.2 670.8 202.7 670.8 202.2 671.2 201.8 671.2 201.2 672.2 200.2 672.2 199.8 672.8 199.2 672.7 198.8 673.2 198.2 673.2 197.8 673.8 197.2 673.7 196.8 674.2 196.2 674.2 195.8 674.8 195.2 674.8 194.7 675.2 194.2 675.2 193.2 675.8 192.8 675.7 192.2 676.2 191.8 676.2 190.8 676.8 190.2 676.7 189.8 677.2 189.2 677.2 188.2 677.7 187.7 677.7 187.2 678.2 186.7 678.2 186.2 678.7 185.8 678.7 185.2 679.2 184.8 679.2 183.8 679.7 183.2 679.7 182.8 680.2 182.2 680.2 181.8 680.7 181.2 680.7 180.8 681.2 180.2 681.2 179.7 681.7 179.2 681.7 178.8 682.7 177.7 682.7 177.2 683.7 176.2 683.7 175.8 685.2 174.2 685.2 173.8 686.8 172.2 686.7 171.7 688.2 170.2 688.2 169.7 688.8 169.2 688.8 168.7 689.2 168.2 689.2 167.2 689.8 166.8 689.8 165.8 690.2 165.2 690.2 164.2 690.8 163.8 690.8 162.7 691.2 162.2 691.2 161.2 691.8 160.8 691.8 159.8 692.2 159.2 692.2 157.8 692.8 157.2 692.8 156.2 693.2 155.8 693.2 154.7 693.8 154.2 693.8 150.8 693.2 150.2 693.2 147.8 693.8 147.2 693.8 146.2 694.2 145.7 694.2 144.2 694.8 143.8 694.8 142.8 695.2 142.2 695.2 141.2 695.8 140.8 695.8 139.8 696.2 139.2 696.2 138.2 696.8 137.7 696.8 136.7 697.2 136.2 697.2 135.2 697.8 134.8 697.8 133.8 698.8 132.8 700.2 132.8 700.8 132.2 701.8 132.2 702.2 131.8 703.8 131.8 704.2 131.2 705.2 131.2 705.8 130.8 706.8 130.8 707.2 130.2 708.8 130.2 709.2 129.8 710.2 129.7 710.7 129.2 712.2 129.2 712.7 128.7 713.7 128.7 714.2 128.2Z" fill="#fdd6b8"/><path d="M199.8 120.7 201.2 120.9 206.2 120.9 207.3 121.2 212.2 121.2 213.8 121.4 217.8 121.5 218.3 121.7 222.8 121.7 232.2 125.9 234.2 127.2 241.3 133.2 246.2 139.4 250.8 146.2 251.5 147.8 253.5 154.2 258.1 162.8 263.7 174.2 267.5 184.2 273.0 201.8 281.7 219.2 288.5 237.8 292.5 249.2 292.5 257.8 290.6 261.8 289.2 262.8 286.8 264.2 285.8 264.2 285.2 263.8 280.7 257.2 276.7 252.2 273.8 249.3 272.9 248.2 260.2 230.2 258.2 227.8 254.0 219.8 248.9 210.8 243.5 202.8 234.4 187.8 227.7 178.2 225.7 175.8 214.2 162.3 211.8 159.8 206.2 156.2 198.8 152.1 192.8 149.8 185.8 148.3 174.8 145.6 171.8 145.6 170.8 145.8 167.8 145.8 166.8 146.1 163.2 146.1 145.8 149.6 143.8 150.1 125.9 157.2 111.2 164.7 97.8 172.1 85.2 176.3 84.7 176.2 83.9 175.8 83.7 175.2 83.7 174.2 88.5 150.2 88.9 149.2 89.2 148.9 90.2 148.7 107.8 154.0 115.6 149.8 123.8 144.8 136.2 137.9 155.8 129.3 174.8 123.7 175.8 123.7 176.2 123.5 181.2 122.7 185.8 121.7 186.8 121.7 187.2 121.5 190.8 121.4 191.8 121.2 194.8 121.2 195.8 120.9 198.8 120.9 199.7 120.8ZM718.2 129.7 720.2 129.3 720.7 129.8 725.6 148.8 725.7 150.2 724.9 151.2 724.1 151.8 720.4 155.2 717.4 157.8 714.9 160.2 714.1 160.8 708.2 166.4 698.5 182.8 692.5 194.8 687.5 204.2 683.5 211.2 678.1 219.2 673.4 227.8 671.1 231.2 665.9 239.2 659.2 248.6 650.8 258.1 644.9 265.2 633.9 276.2 626.6 282.2 618.8 289.4 617.2 290.6 605.8 298.1 600.8 301.6 595.2 305.9 582.8 314.6 574.8 319.7 561.2 325.7 550.2 331.7 536.8 336.6 515.2 345.7 502.8 348.7 491.8 350.9 490.8 351.2 490.8 369.7 490.7 370.2 490.2 370.7 330.2 370.8 329.8 370.7 329.3 370.2 329.2 352.2 329.3 351.8 329.8 351.3 341.8 349.3 346.2 349.2 347.2 348.9 355.8 348.7 356.8 348.4 360.8 348.4 361.8 348.3 362.2 348.4 363.8 348.4 366.8 348.9 368.2 348.9 371.2 349.4 375.2 349.8 379.2 350.4 380.2 350.4 380.8 350.6 384.2 351.0 384.8 351.2 387.8 351.5 400.8 354.2 406.8 354.4 407.8 354.7 412.8 354.7 413.8 354.4 416.8 354.4 417.8 354.2 420.2 354.2 421.2 353.9 424.2 353.9 424.8 353.8 426.2 353.7 426.8 353.5 431.8 352.9 432.2 352.8 433.7 352.7 434.2 352.5 439.2 351.9 439.8 351.8 441.8 351.7 442.2 351.5 446.8 351.2 447.2 351.0 449.2 350.9 450.2 350.7 451.7 350.7 476.8 345.7 501.8 338.2 514.8 332.5 529.8 326.5 540.8 323.1 545.2 320.1 556.2 313.8 565.3 309.2 571.2 305.8 579.8 301.2 586.2 297.4 594.2 291.9 602.2 285.6 615.2 275.9 625.6 265.2 628.8 262.9 632.9 259.2 633.6 258.2 638.4 253.2 639.1 252.2 642.8 248.4 643.1 247.8 646.2 244.4 646.6 243.8 649.4 240.8 653.4 235.8 666.4 217.8 671.4 210.2 676.5 201.2 676.9 200.8 678.2 198.0 681.6 189.8 685.5 181.2 688.1 177.2 689.4 175.8 689.6 175.2 690.9 173.8 692.8 171.0 696.4 160.2 697.9 154.8 697.5 152.8 697.2 150.2 700.9 138.8 701.0 138.2 702.3 134.8 702.8 134.3 703.8 133.9 718.1 129.8Z" fill="#fdd3b4"/><path d="M195.8 121.2 199.2 121.2 200.2 121.0 200.8 121.2 206.2 121.2 207.2 121.4 212.2 121.4 213.2 121.7 222.8 122.0 233.2 126.8 241.2 133.5 246.2 139.8 251.0 147.2 253.2 154.2 258.0 163.2 263.4 174.2 267.5 185.2 272.7 201.8 281.4 219.2 289.5 241.2 292.3 249.8 292.3 257.8 290.5 261.2 289.8 262.2 286.8 263.9 286.2 264.1 285.5 263.8 280.8 257.0 276.8 252.0 274.0 249.2 273.2 248.2 261.2 231.2 257.8 226.8 254.2 219.6 249.2 210.8 243.8 202.8 239.7 195.8 234.7 187.8 227.2 177.2 214.5 162.2 212.0 159.8 206.2 155.9 198.8 151.8 193.8 149.8 188.8 148.6 185.8 148.0 175.2 145.3 171.8 145.3 170.8 145.6 167.8 145.6 166.8 145.8 163.2 145.8 145.8 149.3 143.8 149.8 125.3 157.2 111.2 164.4 97.2 172.0 85.2 176.0 84.8 176.0 84.3 175.8 84.0 175.2 84.0 174.2 88.5 151.8 89.0 149.8 89.3 149.2 89.8 149.0 90.2 149.0 95.2 150.5 106.2 153.9 107.8 154.3 108.2 154.2 115.8 150.0 123.8 145.1 136.8 138.0 155.8 129.6 174.8 124.0 175.8 123.9 187.2 121.7 190.8 121.7 191.8 121.4 194.8 121.4 195.6 121.2ZM719.2 129.6 720.2 129.4 720.6 129.8 720.9 130.8 725.6 149.8 725.6 150.2 720.2 155.1 717.2 157.6 714.8 160.1 713.9 160.8 708.1 166.2 698.3 182.8 692.3 194.8 691.8 195.6 687.3 204.2 683.3 211.2 677.9 219.2 674.3 225.8 670.6 231.8 665.3 239.8 659.2 248.4 650.8 257.9 644.8 265.1 633.8 276.1 626.4 282.2 618.8 289.1 616.2 291.1 602.2 300.4 595.2 305.6 581.8 315.1 574.8 319.6 561.2 325.6 550.2 331.6 536.8 336.4 515.2 345.6 512.2 346.2 502.8 348.6 491.8 350.7 490.8 351.0 490.6 369.8 490.6 370.2 490.2 370.6 330.2 370.6 329.8 370.6 329.4 370.2 329.4 352.2 329.4 351.8 329.8 351.4 342.2 349.4 346.2 349.4 347.2 349.1 350.8 349.1 351.8 348.9 355.8 348.9 356.8 348.6 360.8 348.6 361.8 348.4 366.8 349.1 368.2 349.1 368.8 349.3 370.2 349.4 371.2 349.6 372.8 349.6 373.2 349.8 374.8 349.9 379.2 350.6 380.2 350.6 380.8 350.8 382.2 350.9 382.8 351.1 385.8 351.4 400.8 354.4 406.8 354.6 407.8 354.9 412.8 354.9 413.8 354.6 416.8 354.6 417.8 354.4 420.8 354.3 421.2 354.1 424.2 354.1 440.2 351.9 441.8 351.9 442.8 351.6 444.2 351.6 447.8 351.1 451.8 350.9 475.8 346.1 478.8 345.3 501.2 338.6 514.8 332.7 529.8 326.7 540.9 323.2 546.8 319.4 556.2 313.9 565.6 309.2 571.2 305.9 577.8 302.6 586.2 297.6 594.2 292.1 605.6 283.2 615.2 276.1 625.8 265.4 631.8 260.6 633.1 259.2 633.8 258.4 638.6 253.2 639.2 252.4 641.2 250.4 643.4 247.8 648.2 242.4 653.6 235.8 666.6 217.8 671.6 210.2 677.1 200.8 678.8 197.4 680.9 191.8 685.7 181.2 688.4 177.2 692.8 171.4 696.6 160.2 698.1 154.8 697.4 150.2 702.4 134.8 702.8 134.4 703.8 134.1 704.2 134.1 705.2 133.7 718.9 129.8Z" fill="#fdd1af"/><path d="M199.8 121.2 200.8 121.4 206.2 121.4 207.2 121.7 212.2 121.7 213.2 121.9 217.2 121.9 218.2 122.2 222.7 122.2 232.2 126.5 234.1 127.8 241.1 133.8 245.9 139.8 250.5 146.8 251.0 147.8 252.9 154.2 257.5 162.8 263.1 174.2 267.3 185.2 272.4 201.8 281.1 219.2 288.0 237.8 291.8 248.8 292.1 249.8 292.0 257.8 290.3 261.3 289.8 261.9 288.8 262.5 286.8 263.6 286.2 263.8 285.8 263.6 280.1 255.8 276.9 251.8 274.2 249.1 272.1 246.2 262.6 232.8 258.1 226.7 254.4 219.2 248.9 209.8 244.1 202.8 240.6 196.8 234.4 186.8 227.2 176.9 220.8 169.1 215.1 162.8 214.8 162.1 212.2 159.6 206.7 155.9 199.2 151.8 193.2 149.4 185.8 147.8 175.2 145.1 171.8 145.1 170.8 145.3 167.8 145.3 166.8 145.6 163.2 145.6 145.8 149.1 144.2 149.4 142.2 150.1 125.8 156.8 111.0 164.2 97.2 171.8 85.2 175.8 84.8 175.8 84.2 175.2 84.2 174.2 88.9 150.8 89.2 149.8 89.8 149.2 90.2 149.2 92.8 150.0 107.8 154.6 114.2 151.1 122.2 146.2 136.2 138.5 156.8 129.5 174.7 124.2 175.8 124.2 187.2 122.0 190.8 121.9 191.8 121.7 194.8 121.7 195.8 121.4 199.2 121.4 199.7 121.2ZM719.8 129.6 720.4 129.8 720.7 130.8 723.2 141.2 723.5 141.8 723.7 143.2 724.0 143.8 724.2 145.2 724.5 145.8 724.7 147.2 725.0 147.8 725.2 149.2 725.5 149.8 725.4 150.2 717.2 157.4 714.8 159.9 713.8 160.6 707.9 166.2 698.1 182.8 692.2 194.6 691.8 195.2 687.2 204.1 683.2 211.1 677.8 219.2 674.2 225.6 670.4 231.8 659.9 247.3 658.1 249.2 657.8 249.9 654.1 253.8 653.8 254.4 647.6 261.2 647.4 261.8 645.1 264.2 644.8 264.9 633.8 275.9 626.2 282.1 618.8 288.9 616.2 290.9 611.7 293.8 602.2 300.1 595.2 305.4 581.8 314.9 574.8 319.4 560.8 325.6 550.2 331.4 536.7 336.2 515.2 345.4 501.2 348.7 490.7 350.8 490.5 351.2 490.5 369.8 490.2 370.4 330.2 370.5 329.6 370.2 329.5 352.2 329.8 351.6 342.2 349.5 346.2 349.5 347.2 349.3 351.2 349.3 351.8 349.0 356.2 349.0 356.8 348.8 360.8 348.8 361.8 348.6 362.2 348.8 363.8 348.8 364.2 349.0 365.8 349.0 366.8 349.3 368.2 349.3 368.8 349.5 370.2 349.5 371.2 349.8 374.8 350.0 379.2 350.8 380.2 350.8 380.8 351.0 382.2 351.0 382.8 351.3 385.8 351.5 386.2 351.8 388.8 352.0 389.2 352.3 391.2 352.5 391.8 352.8 393.8 353.0 394.2 353.3 396.2 353.5 396.8 353.8 398.8 354.0 399.2 354.3 400.8 354.5 403.2 354.5 403.8 354.8 406.8 354.8 407.2 355.0 412.8 355.0 413.8 354.8 416.8 354.8 417.8 354.5 420.8 354.5 421.2 354.3 424.2 354.3 425.2 354.0 428.2 353.8 428.8 353.5 430.2 353.5 432.8 353.0 435.8 352.8 436.2 352.5 437.8 352.5 440.2 352.0 441.8 352.0 445.2 351.5 451.8 351.0 453.2 350.8 453.8 350.5 455.8 350.3 456.2 350.0 458.2 349.8 458.8 349.5 460.8 349.3 461.2 349.0 463.2 348.8 463.8 348.5 465.8 348.3 466.2 348.0 468.2 347.8 468.8 347.5 470.8 347.3 471.2 347.0 473.2 346.8 473.8 346.5 475.8 346.3 480.8 344.8 481.2 344.8 483.2 344.0 486.2 343.3 488.2 342.5 491.2 341.8 493.2 341.0 496.2 340.3 500.8 338.8 501.3 338.8 513.8 333.3 529.8 326.9 541.3 323.2 546.8 319.6 556.2 314.1 565.8 309.4 571.2 306.1 580.2 301.4 586.3 297.8 594.3 292.2 606.8 282.6 615.2 276.4 625.8 265.6 628.8 263.2 631.2 261.1 631.8 260.9 633.4 259.2 633.8 258.6 638.9 253.2 639.2 252.6 641.2 250.6 643.6 247.8 646.4 244.8 647.1 243.8 649.9 240.8 650.1 240.2 653.9 235.8 666.8 217.8 671.8 210.3 677.2 200.8 678.8 197.8 681.5 190.8 685.8 181.4 688.6 177.2 692.8 171.8 693.2 170.8 696.8 160.2 696.8 159.8 698.3 154.8 697.5 150.2 702.6 134.8 703.8 134.3 704.2 134.3 707.8 133.1 719.3 129.8Z" fill="#fdceaa"/><path d="M195.8 121.7 199.2 121.7 200.2 121.5 200.8 121.7 206.2 121.7 207.2 121.9 212.2 121.9 213.3 122.2 217.2 122.2 218.2 122.4 222.2 122.4 222.8 122.5 231.8 126.5 233.8 127.8 240.8 133.8 245.6 139.8 250.3 146.8 250.8 147.8 252.8 154.5 256.9 162.2 257.3 162.8 263.1 174.8 267.0 185.2 272.1 201.8 281.1 219.8 287.8 237.8 291.5 248.8 291.8 249.8 291.8 257.8 290.0 261.2 288.8 262.3 286.2 263.6 285.7 263.2 281.2 256.8 277.2 251.8 274.2 248.8 262.9 232.8 258.7 227.2 254.6 219.2 249.1 209.8 244.7 203.2 234.6 186.8 228.2 177.8 226.2 175.2 214.8 161.8 212.2 159.3 206.8 155.6 200.7 152.2 197.8 150.9 193.2 149.1 185.8 147.5 175.2 144.8 171.2 144.9 170.8 145.1 167.2 145.1 166.8 145.3 163.2 145.3 144.2 149.1 125.8 156.5 111.5 163.8 97.2 171.5 85.2 175.5 84.8 175.5 84.5 175.2 84.7 173.3 89.2 150.8 89.5 149.8 89.8 149.5 91.8 149.9 107.8 154.9 114.2 151.4 122.2 146.5 135.8 139.1 136.3 138.7 156.2 129.9 174.8 124.5 187.2 122.2 191.2 122.1 191.8 121.9 194.8 121.9 195.5 121.8ZM718.2 130.1 720.2 129.8 720.6 130.8 720.6 131.2 725.4 149.8 725.2 150.2 723.8 151.4 720.2 154.8 719.2 155.4 714.7 159.8 713.8 160.4 707.7 166.2 704.9 171.2 704.4 171.8 703.7 173.2 697.9 182.8 692.2 194.2 689.4 199.2 687.2 203.8 683.2 210.8 677.8 219.0 673.1 227.2 670.4 231.2 670.2 231.8 667.4 235.8 665.6 238.8 663.4 241.8 663.2 242.2 660.9 245.2 659.7 247.2 657.9 249.2 657.7 249.8 653.9 253.8 653.7 254.2 650.4 257.8 648.8 259.9 647.4 261.2 647.2 261.8 644.9 264.2 644.7 264.8 633.7 275.8 626.2 281.9 618.7 288.8 616.2 290.7 615.8 290.9 613.2 292.7 611.5 293.8 605.5 297.8 602.8 299.7 602.2 299.9 594.8 305.7 593.0 306.8 591.8 307.7 591.2 307.9 589.8 309.2 588.0 310.2 586.8 311.2 586.2 311.4 581.8 314.7 579.8 315.9 578.8 316.7 575.8 318.4 574.8 319.2 566.2 323.2 565.2 323.4 561.8 325.2 560.8 325.4 550.2 331.2 546.8 332.4 545.2 333.2 539.8 334.9 532.8 337.9 532.2 337.9 529.8 339.2 528.8 339.4 526.2 340.7 525.2 340.9 519.8 343.4 519.2 343.4 515.2 345.2 510.3 346.4 509.8 346.7 508.2 346.9 507.8 347.2 505.8 347.4 503.2 348.2 501.8 348.4 501.2 348.7 499.2 348.9 498.8 349.2 496.8 349.4 496.2 349.7 494.2 349.9 493.8 350.2 491.8 350.4 491.2 350.7 490.5 350.8 490.4 369.8 490.2 370.2 489.8 370.4 330.2 370.4 329.8 370.2 329.6 352.2 329.8 351.8 342.2 349.6 346.2 349.6 347.2 349.4 351.2 349.4 351.8 349.1 356.2 349.1 356.8 348.9 361.8 348.8 363.8 348.9 364.2 349.1 365.8 349.1 366.8 349.4 368.2 349.4 368.8 349.6 372.8 349.9 373.2 350.1 374.7 350.1 375.8 350.4 376.8 350.4 377.2 350.6 380.2 350.9 380.8 351.1 382.2 351.1 382.8 351.4 385.7 351.6 386.2 351.9 388.7 352.1 389.2 352.4 391.2 352.6 391.8 352.9 393.8 353.1 394.2 353.4 396.2 353.6 396.8 353.9 398.8 354.1 400.2 354.6 403.2 354.6 403.8 354.9 406.8 354.9 407.2 355.1 413.3 355.1 413.8 354.9 416.8 354.9 417.7 354.6 420.8 354.6 421.2 354.4 424.2 354.4 427.2 353.9 428.2 353.9 428.8 353.6 430.2 353.6 430.8 353.4 435.8 352.9 436.2 352.6 437.8 352.6 438.2 352.4 441.7 352.1 442.8 351.9 444.2 351.9 445.2 351.6 446.8 351.6 447.8 351.4 452.2 351.1 456.2 350.1 457.2 350.1 463.7 348.6 464.8 348.6 473.7 346.6 477.2 346.1 480.8 344.9 483.8 344.1 485.8 343.3 488.8 342.6 490.8 341.8 493.8 341.1 495.8 340.3 498.8 339.6 500.8 338.8 502.2 338.6 509.2 335.3 510.2 335.1 513.8 333.3 527.2 328.1 528.8 327.3 534.8 325.3 536.2 325.1 538.8 324.1 540.8 323.6 545.8 320.3 549.2 318.3 550.8 317.6 552.8 316.3 554.2 315.6 556.2 314.3 565.8 309.6 566.2 309.1 569.2 307.6 571.2 306.3 580.2 301.6 583.2 299.6 585.2 298.6 594.5 292.2 605.0 284.2 606.8 282.8 607.2 282.6 608.8 281.3 609.2 281.1 610.8 279.8 611.2 279.6 612.8 278.3 613.2 278.1 614.8 276.8 615.2 276.6 625.8 265.8 629.0 263.2 631.2 261.3 631.8 261.1 633.6 259.2 633.8 258.8 639.1 253.2 639.3 252.8 643.1 248.8 643.8 247.8 650.1 240.8 650.3 240.2 654.1 235.8 654.3 235.2 655.6 233.8 655.8 233.2 665.6 219.8 665.8 219.2 666.8 218.0 672.6 209.2 677.2 201.0 679.1 197.2 681.6 191.2 681.6 190.7 685.8 181.8 688.4 177.8 692.8 172.0 693.2 171.0 696.6 161.2 696.9 159.8 698.1 156.2 698.4 154.8 697.6 150.2 698.6 147.8 698.9 146.2 701.1 139.8 701.6 137.8 702.8 134.8 718.0 130.2Z" fill="#fdcca5"/><path d="M199.8 121.7 206.2 121.8 206.8 122.1 212.2 122.1 213.2 122.3 217.2 122.3 218.2 122.6 222.2 122.6 224.2 123.3 228.8 125.5 231.8 126.8 232.8 127.2 234.8 129.0 235.2 129.2 240.8 134.0 245.7 140.2 249.7 146.2 250.7 148.2 252.4 154.2 255.0 159.2 255.7 160.2 257.2 163.2 262.7 174.2 264.5 179.2 265.2 180.8 266.0 183.2 266.7 184.8 267.5 187.8 270.2 195.8 270.5 197.2 271.4 199.8 271.9 201.7 280.7 219.2 282.5 224.2 283.2 225.8 284.0 228.2 284.7 229.8 286.0 233.8 286.7 235.2 288.5 240.8 289.2 242.2 291.7 249.8 291.7 257.2 289.8 261.2 289.2 261.7 286.8 263.2 286.2 263.4 286.0 263.2 285.2 262.2 284.0 260.2 281.7 257.2 281.5 256.8 277.7 252.2 277.5 251.7 273.7 247.8 273.5 247.2 266.2 237.3 266.0 236.8 263.7 233.8 263.5 233.2 261.2 230.2 261.0 229.8 258.3 226.2 254.8 219.0 251.3 213.2 250.0 210.8 244.3 202.2 239.0 193.2 238.2 192.2 234.8 186.5 228.7 178.2 228.5 177.8 226.7 175.8 226.5 175.2 224.2 172.8 224.0 172.2 221.7 169.8 221.0 168.8 215.7 162.8 215.0 161.8 212.2 159.0 208.8 156.8 207.8 156.0 199.8 151.5 193.2 148.9 191.8 148.7 189.2 148.0 187.2 147.7 186.8 147.4 185.2 147.2 175.2 144.7 171.2 144.7 170.8 144.9 167.2 144.9 166.8 145.2 163.2 145.2 161.8 145.4 161.2 145.7 159.2 145.9 158.8 146.2 156.8 146.4 156.2 146.7 154.2 146.9 153.8 147.2 151.8 147.4 151.2 147.7 149.2 147.9 148.8 148.2 146.8 148.4 146.2 148.7 144.2 148.9 125.2 156.5 107.8 165.5 107.2 165.9 97.2 171.3 85.8 175.1 84.7 175.2 84.6 174.7 84.9 173.2 85.1 172.8 85.3 170.8 85.6 170.2 85.8 168.2 86.1 167.8 86.3 165.8 86.6 165.2 86.8 163.2 87.1 162.8 87.3 160.8 87.6 160.2 87.8 158.2 88.1 157.8 88.3 155.8 88.6 155.2 88.8 153.2 89.1 152.8 89.3 150.8 89.8 149.7 91.7 150.1 94.2 151.0 95.8 151.3 100.2 152.8 100.8 152.8 106.8 154.8 107.2 154.8 107.8 155.1 108.2 155.0 111.2 153.2 112.8 152.5 114.8 151.2 116.2 150.5 122.2 146.7 123.8 146.0 124.2 145.6 128.2 143.5 131.2 141.7 133.8 140.5 136.7 138.8 156.2 130.1 161.2 128.6 161.8 128.6 162.2 128.3 163.8 128.0 164.8 127.6 165.2 127.6 167.2 126.8 167.8 126.8 170.8 125.8 172.2 125.5 174.2 124.8 177.8 124.1 178.8 124.1 179.2 123.8 181.8 123.5 183.2 123.1 184.2 123.1 184.8 122.8 187.2 122.5 187.8 122.3 191.2 122.3 191.8 122.1 195.2 122.1 195.8 121.8 199.7 121.8ZM719.2 130.0 719.8 129.9 720.5 130.8 720.7 132.2 721.0 132.8 721.2 134.2 721.5 134.8 721.7 136.2 722.0 136.8 722.2 138.2 722.5 138.8 722.7 140.2 723.0 140.8 723.2 142.2 723.5 142.8 723.7 144.2 724.0 144.8 724.2 146.2 724.5 146.8 724.7 148.2 725.0 148.8 725.2 149.8 725.1 150.2 724.2 151.0 723.8 151.2 720.1 154.8 719.2 155.2 714.6 159.8 713.8 160.2 707.2 166.8 707.1 167.2 706.2 168.7 705.7 169.2 704.8 171.2 704.2 171.8 703.0 174.2 700.7 177.8 700.6 178.2 699.2 180.2 698.5 181.8 697.7 182.8 692.1 194.2 690.0 198.2 689.2 199.2 687.1 203.8 686.0 205.8 685.2 206.8 684.0 209.2 683.2 210.2 682.5 211.8 677.7 218.8 677.0 220.2 676.2 221.2 675.0 223.8 674.2 224.8 673.0 227.2 671.2 229.8 670.8 230.7 670.2 231.2 670.1 231.8 669.2 232.8 669.1 233.2 668.2 234.2 668.1 234.8 667.2 235.8 667.1 236.2 665.5 238.8 664.2 240.2 664.1 240.8 663.2 241.8 663.1 242.2 662.2 243.2 662.0 243.8 660.7 245.2 660.6 245.8 659.7 246.8 659.6 247.2 657.7 249.2 657.6 249.8 653.7 253.8 653.6 254.2 650.2 257.8 649.8 258.6 647.2 261.2 647.1 261.8 644.7 264.2 644.6 264.8 633.6 275.8 632.8 276.2 630.2 278.6 629.8 278.7 627.1 281.2 626.2 281.7 623.1 284.8 622.2 285.2 618.6 288.8 617.8 289.2 616.2 290.6 615.8 290.7 613.2 292.6 612.8 292.7 612.2 293.2 611.2 293.7 605.8 297.6 605.2 297.7 602.8 299.6 602.2 299.7 598.8 302.6 598.2 302.7 596.8 304.1 596.2 304.2 594.8 305.6 592.8 306.7 591.8 307.6 591.2 307.7 589.8 309.1 587.8 310.2 586.8 311.1 586.2 311.2 584.8 312.6 582.8 313.7 581.8 314.6 581.2 314.7 580.2 315.6 579.8 315.7 578.8 316.6 578.2 316.7 577.2 317.6 576.2 318.1 575.8 318.2 574.8 319.1 574.2 319.2 573.8 319.6 573.2 319.7 570.8 321.1 569.8 321.2 569.2 321.6 568.8 321.7 566.2 323.1 565.2 323.2 564.8 323.6 564.2 323.7 561.8 325.1 560.8 325.2 560.2 325.6 559.8 325.7 558.8 326.6 556.2 327.7 555.8 328.1 555.2 328.2 554.8 328.6 554.2 328.7 553.2 329.6 551.8 330.2 551.2 330.6 550.8 330.7 550.2 331.1 549.2 331.6 548.2 331.7 547.2 332.2 546.8 332.2 545.2 333.1 544.2 333.2 543.8 333.6 542.8 333.7 542.2 334.1 541.2 334.2 540.2 334.7 539.8 334.7 538.2 335.6 537.2 335.7 535.8 336.6 534.8 336.7 533.2 337.6 532.2 337.7 531.8 338.1 531.2 338.2 529.8 339.1 528.8 339.2 528.2 339.6 527.8 339.7 526.2 340.6 525.2 340.7 524.8 341.1 524.2 341.2 522.8 342.1 521.8 342.2 520.2 343.1 519.2 343.2 518.8 343.6 518.2 343.7 516.8 344.6 515.8 344.7 515.2 345.1 514.2 345.2 513.8 345.6 512.2 345.7 511.8 346.1 510.2 346.2 509.8 346.6 508.2 346.7 507.8 347.1 505.8 347.2 505.2 347.6 503.8 347.7 503.2 348.1 501.8 348.2 501.2 348.6 499.2 348.7 498.8 349.1 496.8 349.2 496.2 349.6 494.2 349.7 493.8 350.1 491.8 350.2 491.2 350.6 490.2 350.7 490.2 369.8 489.8 370.2 330.2 370.2 329.8 369.8 329.8 352.2 330.2 351.8 331.2 351.8 331.8 351.5 334.2 351.3 334.8 351.0 337.2 350.8 337.8 350.5 340.2 350.3 340.8 350.0 342.2 349.8 346.8 349.8 347.2 349.5 351.2 349.5 351.8 349.3 356.2 349.3 356.8 349.0 361.8 348.9 363.8 349.0 364.2 349.3 368.2 349.5 368.8 349.8 372.8 350.0 373.2 350.3 376.8 350.5 377.2 350.8 380.2 351.0 380.8 351.3 383.8 351.5 384.2 351.8 387.2 352.0 387.8 352.3 389.8 352.5 390.2 352.8 392.2 353.0 392.8 353.3 394.8 353.5 395.2 353.8 397.2 354.0 397.8 354.3 399.8 354.5 400.2 354.8 406.8 355.0 407.2 355.3 413.2 355.3 413.8 355.0 420.8 354.8 421.2 354.5 426.8 354.3 427.2 354.0 430.2 353.8 430.8 353.5 434.2 353.3 434.8 353.0 437.8 352.8 438.2 352.5 442.2 352.3 442.8 352.0 447.2 351.8 447.8 351.5 452.2 351.3 452.8 351.0 454.8 350.8 455.2 350.5 457.2 350.3 457.8 349.9 459.8 349.8 460.2 349.4 462.2 349.3 462.8 348.9 464.8 348.8 465.2 348.4 467.2 348.3 467.8 347.9 469.8 347.8 470.2 347.4 472.2 347.3 472.8 346.9 474.8 346.8 475.2 346.4 477.2 346.3 478.2 345.8 480.2 345.3 480.8 344.9 482.2 344.8 484.2 343.9 485.2 343.8 485.8 343.4 487.2 343.3 489.2 342.4 490.2 342.3 490.8 341.9 492.2 341.8 494.2 340.9 495.2 340.8 495.8 340.4 497.2 340.3 499.2 339.4 500.2 339.3 500.8 338.9 502.2 338.8 502.8 338.4 503.2 338.3 504.8 337.4 505.8 337.3 506.2 336.9 506.8 336.8 507.2 336.4 507.8 336.3 509.2 335.4 510.2 335.3 510.8 334.9 511.2 334.8 513.8 333.4 514.8 333.3 516.2 332.4 517.2 332.3 518.8 331.4 519.8 331.3 521.2 330.4 522.2 330.3 523.8 329.4 524.8 329.3 526.2 328.4 527.2 328.3 528.8 327.4 529.8 327.3 530.8 326.8 531.2 326.8 531.8 326.4 532.8 326.3 533.2 325.9 534.2 325.8 534.8 325.4 536.2 325.3 538.2 324.4 539.2 324.3 539.8 323.9 540.8 323.8 541.8 323.3 542.8 322.4 543.2 322.3 544.2 321.4 544.8 321.3 545.8 320.4 546.8 319.9 547.2 319.8 549.2 318.4 550.8 317.8 551.3 317.2 552.8 316.4 554.2 315.8 554.8 315.2 556.2 314.4 556.8 314.3 559.2 312.9 559.8 312.8 560.2 312.4 560.8 312.3 561.2 311.9 561.8 311.8 562.2 311.4 562.8 311.3 563.2 310.9 565.8 309.8 566.8 308.9 567.8 308.4 568.2 308.3 568.8 307.9 569.2 307.8 569.8 307.2 571.2 306.4 573.8 305.3 574.8 304.4 578.2 302.8 578.8 302.4 579.2 302.3 579.8 301.9 580.2 301.8 581.2 300.9 582.2 300.4 582.8 300.3 583.3 299.8 584.8 298.9 585.2 298.8 589.2 295.9 589.8 295.8 590.8 294.9 591.2 294.8 592.8 293.4 594.8 292.3 596.2 290.9 596.8 290.8 598.2 289.4 598.8 289.3 600.2 287.9 600.8 287.8 602.8 285.9 603.2 285.8 604.8 284.4 605.2 284.3 606.8 282.9 607.2 282.8 608.8 281.4 609.2 281.3 610.8 279.9 611.2 279.8 612.8 278.4 613.2 278.3 614.8 276.9 615.3 276.8 620.3 271.8 620.8 270.9 625.9 265.8 626.8 265.3 628.8 263.5 629.2 263.3 631.2 261.4 631.8 261.3 633.8 259.3 633.9 258.8 639.2 253.3 639.4 252.8 643.3 248.8 643.8 247.9 650.3 240.8 650.4 240.2 652.3 238.2 652.4 237.8 654.3 235.8 654.4 235.2 655.8 233.8 655.9 233.2 658.3 230.2 658.4 229.8 660.8 226.8 660.9 226.2 663.3 223.2 663.4 222.8 664.3 221.8 664.5 221.2 665.8 219.8 665.9 219.2 666.8 218.2 672.8 209.2 674.0 206.8 674.8 205.8 676.0 203.2 676.8 202.2 679.8 196.2 679.8 195.8 680.8 193.8 680.8 193.2 681.8 191.2 682.0 190.2 683.8 186.8 684.0 185.8 685.9 181.8 688.5 177.8 692.8 172.2 693.8 170.2 693.8 169.8 694.3 168.8 694.3 168.2 694.8 167.2 694.8 166.8 695.3 165.8 695.3 165.2 695.8 164.2 695.8 163.8 696.3 162.8 696.3 162.2 696.8 161.2 697.0 159.8 697.8 157.8 697.8 157.2 698.3 156.2 698.5 154.8 697.8 150.2 698.8 147.8 699.0 146.2 701.8 138.2 701.8 137.8 702.3 136.8 702.3 136.2 702.8 135.3 703.8 134.5 705.2 134.3 707.2 133.5 708.8 133.3 709.8 132.8 710.2 132.8 712.2 132.0 713.8 131.8 715.8 131.0 717.2 130.8 718.2 130.3 718.8 130.2Z" fill="#fdc9a0"/><path d="M195.8 121.9 206.2 121.9 206.8 122.3 217.2 122.4 217.8 122.8 222.8 122.9 223.2 123.3 224.2 123.4 226.8 124.8 227.2 124.9 228.8 125.8 229.8 125.9 231.2 126.8 231.8 126.9 232.2 127.3 232.8 127.4 234.7 129.2 235.2 129.4 237.7 131.8 238.2 131.9 240.7 134.2 241.6 135.2 241.8 135.8 243.6 137.8 243.8 138.3 245.6 140.2 245.7 140.8 246.6 141.8 246.7 142.2 247.6 143.2 247.7 143.8 248.6 144.8 248.7 145.2 249.6 146.2 249.7 146.8 250.1 147.2 250.2 147.8 250.6 148.2 250.7 149.2 251.1 149.8 251.2 151.2 251.6 151.8 251.7 152.8 252.1 153.2 252.2 154.2 253.7 157.2 254.1 157.8 254.2 158.2 254.6 158.8 254.7 159.2 255.6 160.2 256.7 162.8 257.1 163.2 257.2 163.8 257.6 164.2 257.7 164.8 258.1 165.2 258.2 165.8 258.6 166.2 258.7 166.8 259.1 167.2 259.2 167.8 259.6 168.2 259.7 168.8 260.1 169.2 260.2 169.8 262.6 174.2 262.7 175.2 263.6 176.8 264.2 179.2 265.1 180.8 265.7 183.2 266.6 184.8 266.7 185.8 267.1 186.2 267.2 187.8 267.6 188.2 267.7 189.2 268.1 189.8 268.7 192.2 269.1 192.8 269.7 195.2 270.1 195.8 270.2 197.2 270.6 197.8 270.7 198.8 271.1 199.2 271.2 200.2 271.6 200.8 271.7 201.8 280.6 219.2 280.7 220.2 281.6 221.8 282.2 224.2 283.1 225.8 283.7 228.2 284.6 229.8 284.7 230.8 285.1 231.2 285.7 233.8 286.6 235.2 286.7 236.2 287.1 236.8 287.2 237.8 287.5 238.2 287.7 239.2 288.2 240.2 288.2 240.8 289.0 242.2 289.2 243.2 289.5 243.8 289.7 244.8 290.0 245.2 290.2 246.2 290.5 246.8 290.7 247.8 291.5 249.8 291.5 257.2 290.2 259.8 290.1 260.2 289.7 260.8 289.6 261.2 289.2 261.5 287.8 262.2 286.8 263.0 286.2 263.2 284.4 260.8 284.3 260.2 281.9 257.2 281.8 256.8 279.9 254.8 279.8 254.2 277.9 252.2 277.8 251.8 273.9 247.8 273.8 247.2 271.4 244.2 271.3 243.8 268.9 240.8 268.8 240.2 266.4 237.2 266.3 236.8 263.9 233.8 263.8 233.2 261.4 230.2 261.3 229.8 259.9 228.2 259.8 227.8 258.4 226.2 254.8 218.8 254.4 218.2 254.3 217.8 253.4 216.8 252.8 215.2 252.4 214.8 252.3 214.2 251.4 213.2 250.8 211.8 250.4 211.2 250.3 210.8 248.4 208.2 248.3 207.8 247.4 206.8 247.3 206.2 246.4 205.2 246.3 204.8 245.4 203.8 245.3 203.2 244.4 202.2 244.3 201.8 243.9 201.2 243.8 200.8 242.9 199.8 242.8 199.2 242.4 198.8 242.3 198.2 241.4 197.2 240.8 195.7 239.9 194.8 239.8 194.2 239.4 193.8 239.3 193.2 238.4 192.2 238.3 191.8 237.4 190.8 237.3 190.2 236.9 189.8 236.8 189.2 235.9 188.2 235.8 187.8 234.9 186.8 234.8 186.2 233.9 185.2 233.8 184.8 231.4 181.8 231.3 181.2 228.9 178.2 228.8 177.8 226.9 175.8 226.8 175.2 224.4 172.8 224.2 172.2 221.8 169.6 221.3 168.8 218.8 166.1 218.3 165.2 215.8 162.6 215.3 161.8 212.3 158.8 211.8 158.6 210.8 157.7 210.2 157.6 209.2 156.7 208.8 156.6 207.8 155.7 207.2 155.6 206.8 155.2 206.2 155.1 205.2 154.2 204.8 154.1 204.2 153.7 203.8 153.6 203.2 153.2 201.8 152.6 200.8 151.7 200.2 151.6 199.8 151.2 198.8 151.1 197.2 150.2 196.2 150.1 194.8 149.2 193.8 149.1 193.2 148.7 191.8 148.6 191.2 148.2 189.8 148.1 189.2 147.7 187.2 147.6 186.8 147.2 185.2 147.1 184.8 146.7 183.2 146.6 182.8 146.2 181.2 146.1 180.8 145.7 179.2 145.6 178.8 145.2 177.2 145.1 176.8 144.7 175.2 144.6 167.2 144.7 166.8 145.0 161.8 145.2 161.2 145.5 159.2 145.7 158.8 146.0 156.8 146.2 156.2 146.5 154.2 146.7 153.8 147.0 151.8 147.2 151.2 147.5 149.2 147.7 148.8 148.0 146.8 148.2 146.2 148.5 144.2 148.7 143.8 149.0 142.8 149.2 141.2 150.0 140.2 150.2 138.8 151.0 137.8 151.2 136.2 152.0 135.2 152.2 133.8 153.0 132.8 153.2 131.2 154.0 130.2 154.2 128.8 155.0 127.8 155.2 126.2 156.0 125.2 156.2 124.8 156.6 119.2 159.2 118.2 160.0 110.8 163.7 109.2 164.6 108.8 164.7 108.2 165.1 107.8 165.2 106.8 166.0 102.2 168.2 101.2 169.0 97.2 171.1 95.2 171.7 94.8 172.0 93.8 172.2 93.2 172.5 92.2 172.7 91.8 173.0 90.8 173.2 90.2 173.5 89.2 173.7 88.8 174.0 87.8 174.2 87.2 174.5 86.2 174.7 85.8 175.0 85.2 175.1 84.8 174.8 85.0 173.2 85.3 172.8 85.5 170.8 85.8 170.2 86.0 168.2 86.3 167.8 86.5 165.8 86.8 165.2 87.0 163.2 87.3 162.8 87.5 160.8 87.8 160.2 88.0 158.2 88.3 157.8 88.5 155.8 88.8 155.2 89.0 153.2 89.3 152.8 89.5 150.8 90.2 149.9 93.8 151.0 94.2 151.3 95.8 151.5 97.8 152.3 98.8 152.5 99.2 152.8 100.8 153.0 102.8 153.8 103.8 154.0 104.2 154.3 105.2 154.5 105.8 154.8 108.2 155.3 109.2 154.5 112.8 152.8 113.8 152.0 116.2 150.8 116.8 150.2 118.2 149.4 118.8 149.3 119.8 148.4 120.2 148.3 121.2 147.5 123.8 146.3 124.3 145.8 126.8 144.4 128.2 143.8 129.2 143.0 130.8 142.3 131.2 141.9 133.8 140.8 134.3 140.2 136.8 138.9 137.2 138.8 139.8 137.5 140.8 137.3 141.2 136.9 141.8 136.8 144.2 135.5 145.2 135.3 145.8 134.9 146.2 134.8 148.8 133.5 149.8 133.3 152.2 132.0 153.2 131.8 155.8 130.5 158.2 129.8 158.8 129.5 160.2 129.3 162.2 128.5 163.8 128.3 164.2 128.0 165.2 127.8 165.8 127.5 166.8 127.3 167.2 127.0 168.8 126.8 169.2 126.5 170.2 126.3 170.8 125.9 172.2 125.8 172.8 125.4 173.8 125.3 174.2 124.9 176.2 124.8 176.8 124.4 178.8 124.3 179.2 123.9 181.8 123.8 182.2 123.4 184.2 123.3 184.8 122.9 187.2 122.8 187.8 122.4 195.3 122.2ZM719.2 130.1 719.8 130.1 720.4 130.8 720.5 132.2 720.9 132.8 721.0 134.2 721.4 134.8 721.5 136.2 721.9 136.8 722.0 138.2 722.4 138.8 722.5 140.2 722.9 140.8 723.0 142.2 723.4 142.8 723.5 144.2 723.9 144.8 724.0 146.2 724.4 146.8 724.5 148.2 724.9 148.8 724.9 150.2 724.2 150.9 723.8 151.0 719.9 154.8 719.2 155.0 714.4 159.8 713.8 160.0 707.0 166.8 706.9 167.2 706.5 167.8 706.2 168.5 705.5 169.2 705.4 169.8 705.0 170.2 704.8 171.0 704.0 171.8 703.9 172.2 703.5 172.8 703.4 173.2 703.0 173.8 702.9 174.2 702.0 175.2 701.9 175.8 701.5 176.2 701.4 176.8 700.5 177.8 700.4 178.2 700.0 178.8 699.9 179.2 699.0 180.2 698.9 180.8 698.5 181.2 698.4 181.8 697.5 182.8 697.4 183.2 697.0 183.8 696.9 184.2 696.5 184.8 696.4 185.2 696.0 185.8 695.9 186.2 695.5 186.8 695.4 187.2 695.0 187.8 694.9 188.2 694.5 188.8 694.4 189.2 694.0 189.8 693.9 190.2 693.5 190.8 693.4 191.2 693.0 191.8 692.9 192.2 692.5 192.8 692.4 193.2 692.0 193.8 691.9 194.2 691.5 194.8 689.9 198.2 689.0 199.2 688.9 199.8 688.5 200.2 688.4 200.8 688.0 201.2 687.9 201.8 687.5 202.2 686.9 203.8 686.5 204.2 685.9 205.8 685.0 206.8 684.9 207.2 684.5 207.8 683.9 209.2 683.0 210.2 682.4 211.8 681.5 212.8 681.4 213.2 680.5 214.2 680.4 214.7 679.5 215.8 679.4 216.2 678.5 217.2 678.4 217.8 677.5 218.8 676.9 220.2 676.0 221.2 675.9 221.8 675.5 222.2 674.9 223.8 674.0 224.8 673.9 225.2 673.5 225.8 672.9 227.2 671.0 229.8 670.8 230.5 670.0 231.2 669.9 231.8 669.0 232.8 668.9 233.2 668.0 234.2 667.9 234.8 667.0 235.8 666.9 236.2 666.5 236.8 666.4 237.2 665.5 238.2 665.4 238.8 664.0 240.2 663.9 240.8 663.0 241.8 662.9 242.2 662.0 243.2 661.9 243.7 660.5 245.2 660.5 245.7 659.5 246.8 659.5 247.2 657.6 249.2 657.5 249.8 653.6 253.8 653.5 254.2 650.0 257.8 649.8 258.5 647.1 261.2 647.0 261.8 644.6 264.2 644.5 264.8 633.5 275.8 632.8 276.1 630.2 278.5 629.6 278.8 627.0 281.2 626.2 281.6 623.0 284.8 622.2 285.1 618.5 288.8 617.8 289.1 616.2 290.5 615.8 290.6 613.2 292.5 612.8 292.6 610.2 294.5 609.8 294.6 608.8 295.5 608.2 295.6 607.2 296.5 606.8 296.6 605.8 297.5 605.2 297.6 602.8 299.5 602.2 299.6 598.8 302.5 598.2 302.6 596.8 304.0 596.2 304.1 594.8 305.5 594.2 305.6 593.2 306.5 592.8 306.6 591.8 307.5 591.2 307.6 589.8 309.0 589.2 309.1 588.2 310.0 587.8 310.1 586.8 311.0 586.2 311.1 584.8 312.5 584.2 312.6 583.2 313.5 582.8 313.6 581.8 314.5 581.2 314.6 580.2 315.5 579.8 315.6 578.8 316.5 578.2 316.6 577.2 317.5 575.8 318.1 574.8 319.0 574.2 319.1 570.8 321.0 569.8 321.1 566.2 323.0 565.2 323.1 561.8 325.0 560.8 325.1 560.2 325.5 559.8 325.6 558.8 326.5 556.2 327.6 554.8 328.5 554.2 328.6 553.2 329.5 549.2 331.5 548.2 331.6 547.8 332.0 546.8 332.1 545.2 333.0 544.2 333.1 543.8 333.5 542.8 333.6 542.2 334.0 539.8 334.6 538.2 335.5 537.2 335.6 535.8 336.5 534.8 336.6 533.2 337.5 532.2 337.6 529.8 339.0 528.8 339.1 526.2 340.5 525.2 340.6 522.8 342.0 521.8 342.1 520.2 343.0 519.2 343.1 516.8 344.5 515.8 344.6 515.2 345.0 514.2 345.1 513.8 345.5 512.2 345.6 511.8 346.0 510.2 346.1 509.8 346.5 508.2 346.6 507.8 347.0 505.8 347.1 505.2 347.5 503.8 347.6 503.3 348.0 501.8 348.1 501.2 348.5 499.2 348.6 498.8 349.0 496.8 349.1 496.2 349.5 494.2 349.6 493.8 350.0 491.8 350.1 491.2 350.5 490.2 350.6 490.1 369.8 489.8 370.1 330.2 370.0 330.0 369.8 330.0 352.2 330.2 352.0 331.2 352.0 331.8 351.6 334.2 351.5 334.8 351.1 337.2 351.0 337.8 350.6 340.2 350.5 340.8 350.1 346.8 350.0 347.3 349.6 356.2 349.5 356.8 349.1 363.8 349.1 364.2 349.5 368.2 349.6 368.8 350.0 372.8 350.1 373.2 350.5 376.8 350.6 377.2 351.0 380.2 351.1 380.8 351.5 383.8 351.6 384.2 352.0 387.2 352.1 387.8 352.5 389.8 352.6 390.2 353.0 392.2 353.1 392.8 353.5 394.8 353.6 395.2 354.0 397.2 354.1 397.8 354.5 399.8 354.6 400.2 355.0 406.7 355.1 407.2 355.5 413.2 355.5 413.8 355.1 420.8 355.0 421.2 354.6 426.8 354.5 427.2 354.1 430.2 353.9 430.8 353.6 434.2 353.4 434.8 353.1 437.8 352.9 438.2 352.6 442.2 352.4 442.8 352.1 447.2 351.9 447.8 351.5 452.2 351.4 452.8 351.0 454.8 350.9 455.2 350.5 457.2 350.4 457.8 350.0 459.8 349.9 460.2 349.5 462.2 349.4 462.7 349.0 464.8 348.9 465.2 348.5 467.2 348.4 467.8 348.0 469.8 347.9 470.2 347.5 472.2 347.4 472.8 347.0 474.8 346.9 475.2 346.5 477.2 346.4 477.8 346.0 478.8 345.9 479.2 345.5 480.2 345.4 480.8 345.0 482.2 344.9 482.8 344.5 483.8 344.4 484.2 344.0 485.2 343.9 485.8 343.5 487.2 343.4 487.8 343.0 488.8 342.9 489.2 342.5 490.2 342.4 490.8 342.0 492.2 341.9 492.8 341.5 493.8 341.4 494.2 341.0 495.2 340.9 495.8 340.5 497.2 340.4 497.8 340.0 498.8 339.9 499.2 339.5 500.2 339.4 500.8 339.0 502.2 338.9 504.8 337.5 505.8 337.4 509.2 335.5 510.2 335.4 513.8 333.5 514.8 333.4 516.2 332.5 517.2 332.4 518.8 331.5 519.8 331.4 521.2 330.5 522.2 330.4 523.8 329.5 524.8 329.4 526.2 328.5 527.2 328.4 528.8 327.5 531.2 326.9 531.8 326.5 532.8 326.4 533.2 326.0 534.2 325.9 534.8 325.5 536.2 325.4 536.8 325.0 537.8 324.9 538.2 324.5 539.2 324.4 539.8 324.0 540.8 323.9 541.8 323.4 542.8 322.5 543.2 322.4 544.2 321.5 544.8 321.4 545.8 320.5 547.2 319.9 549.2 318.5 550.8 317.9 551.4 317.2 552.8 316.5 554.2 315.9 555.2 315.0 557.8 313.9 558.2 313.5 558.8 313.4 559.2 313.0 559.8 312.9 560.2 312.5 560.8 312.4 561.2 312.0 561.8 311.9 562.2 311.5 562.8 311.4 563.2 311.0 563.8 310.9 564.2 310.5 564.8 310.4 565.2 310.0 565.8 309.9 566.8 309.0 569.2 307.9 570.2 307.0 572.8 305.9 573.2 305.5 573.8 305.4 574.8 304.5 578.2 302.9 579.8 302.0 580.2 301.9 581.2 301.0 582.8 300.4 583.4 299.8 584.8 299.0 585.2 298.9 587.8 297.0 588.2 296.9 589.2 296.0 589.8 295.9 590.8 295.0 591.2 294.9 592.8 293.5 593.2 293.4 594.2 292.5 594.8 292.4 596.2 291.0 596.8 290.9 598.2 289.5 598.8 289.4 600.2 288.0 600.8 287.9 602.8 286.0 603.2 285.9 604.8 284.5 605.2 284.4 606.8 283.0 607.2 282.9 608.8 281.5 609.2 281.4 610.8 280.0 611.2 279.9 612.8 278.5 613.2 278.4 614.8 277.0 615.4 276.8 620.4 271.8 620.8 271.0 626.0 265.8 626.8 265.4 628.8 263.6 629.2 263.4 631.2 261.5 631.8 261.4 633.8 259.4 634.0 258.8 639.2 253.4 639.5 252.8 643.4 248.8 643.8 248.0 646.9 244.8 647.2 244.0 650.4 240.8 650.5 240.2 652.4 238.2 652.5 237.8 654.4 235.8 654.5 235.2 655.9 233.8 656.0 233.2 657.0 232.2 657.2 231.5 658.5 230.2 658.5 229.8 659.5 228.8 659.6 228.2 661.0 226.8 661.0 226.2 662.0 225.2 662.1 224.8 663.5 223.2 663.6 222.8 664.5 221.8 664.6 221.3 666.0 219.8 666.1 219.2 667.0 218.2 667.1 217.8 668.0 216.8 668.1 216.2 669.0 215.2 669.1 214.7 670.0 213.8 670.1 213.2 671.0 212.2 671.1 211.8 673.0 209.2 673.1 208.8 673.5 208.2 674.1 206.8 675.0 205.8 675.1 205.2 675.5 204.8 676.1 203.2 677.0 202.2 677.1 201.8 677.5 201.2 679.5 197.2 679.6 196.8 680.0 196.2 680.1 195.2 681.0 193.8 681.1 192.8 682.0 191.2 682.1 190.2 683.0 188.8 683.1 188.2 683.5 187.8 683.6 187.2 684.0 186.8 684.1 185.8 685.0 184.2 685.1 183.8 685.5 183.2 685.6 182.8 686.0 182.2 686.1 181.8 686.5 181.2 686.6 180.8 687.5 179.8 687.6 179.2 688.5 178.2 688.6 177.8 690.0 176.2 690.2 175.6 691.5 174.2 691.8 173.6 693.0 172.2 694.0 170.2 694.1 169.2 694.5 168.8 694.6 167.8 695.0 167.2 695.1 166.2 695.5 165.8 695.6 164.8 696.0 164.2 696.1 163.2 696.5 162.8 696.6 161.8 697.0 161.2 697.1 159.8 697.5 159.2 697.6 158.2 698.0 157.8 698.1 156.8 698.5 156.2 698.6 154.8 698.5 152.8 698.1 152.2 698.0 150.8 698.1 149.8 698.5 149.2 698.6 148.2 699.0 147.8 699.1 146.2 699.5 145.8 699.6 144.8 700.0 144.2 700.1 143.2 700.5 142.8 700.6 141.8 701.0 141.2 701.1 140.2 701.5 139.8 701.6 138.8 702.0 138.2 702.1 137.2 702.5 136.8 702.8 135.5 703.8 134.6 705.2 134.5 705.8 134.1 706.8 134.0 707.2 133.6 708.8 133.5 709.2 133.1 710.2 133.0 710.8 132.6 711.8 132.5 712.2 132.1 713.8 132.0 714.2 131.6 715.2 131.5 715.8 131.1 717.2 131.0 717.8 130.6 718.8 130.5 719.0 130.2Z" fill="#fdc69b"/><path d="M195.8 122.0 206.2 122.0 206.8 122.4 217.2 122.5 217.8 122.9 222.2 122.9 222.8 123.0 223.2 123.4 224.2 123.5 228.8 125.9 229.8 126.0 230.2 126.4 232.8 127.5 234.6 129.2 235.2 129.5 237.6 131.8 238.2 132.0 240.6 134.2 241.5 135.2 241.8 135.9 243.5 137.8 243.8 138.4 245.5 140.2 245.6 140.8 246.5 141.8 246.6 142.2 247.5 143.2 247.6 143.8 248.5 144.8 248.6 145.2 249.5 146.2 249.6 146.8 250.0 147.2 250.5 148.2 250.6 149.2 251.0 149.8 251.1 151.2 251.5 151.8 251.6 152.8 252.0 153.2 252.1 154.2 254.5 158.8 254.6 159.2 255.5 160.2 262.5 174.2 262.6 175.2 263.5 176.8 264.1 179.2 265.0 180.8 265.6 183.2 266.5 184.8 266.6 185.8 267.0 186.2 267.1 187.8 267.5 188.2 267.6 189.2 268.0 189.8 268.6 192.2 269.0 192.8 269.6 195.2 270.0 195.8 270.1 197.2 270.5 197.8 270.6 198.8 271.0 199.2 271.1 200.2 271.5 200.8 271.6 201.8 280.5 219.2 280.6 220.2 281.5 221.8 281.6 222.8 282.0 223.2 282.1 224.2 283.0 225.8 283.6 228.2 284.4 229.8 284.6 230.8 284.9 231.2 285.6 233.8 286.4 235.2 286.6 236.2 286.9 236.8 287.6 239.2 287.9 239.8 288.1 240.8 288.9 242.2 289.6 244.8 289.9 245.3 290.1 246.2 290.4 246.8 290.6 247.8 290.9 248.2 291.1 249.2 291.4 249.8 291.4 257.2 289.2 261.4 287.8 262.0 286.8 262.9 286.2 263.0 284.6 260.8 284.5 260.2 283.1 258.8 283.0 258.2 282.1 257.2 282.0 256.8 280.1 254.8 279.9 254.2 278.1 252.2 277.8 251.5 274.0 247.8 273.9 247.2 272.6 245.7 272.5 245.2 271.5 244.2 271.4 243.8 270.1 242.2 269.9 241.8 269.0 240.8 268.9 240.2 267.5 238.8 267.4 238.2 266.5 237.2 266.4 236.8 264.0 233.8 263.9 233.2 262.5 231.8 262.4 231.2 261.5 230.2 261.4 229.8 260.0 228.2 259.9 227.8 258.5 226.2 254.9 218.8 254.5 218.2 254.2 217.6 253.5 216.8 252.4 214.2 251.5 213.2 250.4 210.8 248.5 208.2 248.4 207.8 247.5 206.8 247.4 206.2 246.5 205.2 246.4 204.8 245.5 203.8 245.4 203.2 244.5 202.2 243.9 200.8 243.0 199.8 242.4 198.2 241.5 197.2 240.8 195.6 240.0 194.8 239.4 193.2 238.5 192.2 238.2 191.6 237.5 190.8 236.9 189.2 236.0 188.2 235.9 187.8 235.0 186.8 234.9 186.2 234.0 185.2 233.8 184.6 232.5 183.2 232.4 182.8 231.5 181.8 231.4 181.2 230.0 179.8 229.9 179.2 229.0 178.2 228.9 177.8 227.0 175.8 226.8 175.1 224.5 172.8 224.2 172.1 221.5 169.2 221.4 168.8 218.8 166.0 218.4 165.2 215.8 162.5 215.4 161.8 212.4 158.8 211.8 158.5 210.8 157.6 210.2 157.5 209.2 156.6 208.8 156.5 207.8 155.6 206.2 155.0 205.2 154.1 201.8 152.5 200.8 151.6 200.2 151.5 199.8 151.1 198.8 151.0 197.2 150.1 196.2 150.0 194.8 149.1 193.8 149.0 193.2 148.6 191.8 148.5 191.2 148.1 189.8 148.0 189.2 147.6 187.2 147.5 186.8 147.1 185.2 147.0 184.8 146.6 183.2 146.5 182.8 146.1 181.2 146.0 180.8 145.6 179.2 145.5 178.8 145.1 177.2 144.9 176.8 144.6 175.2 144.4 167.2 144.6 166.8 144.9 161.8 145.1 161.2 145.4 159.2 145.6 158.8 145.9 156.8 146.0 156.2 146.4 154.2 146.5 153.8 146.9 151.8 147.0 151.2 147.4 149.2 147.5 148.8 147.9 146.8 148.0 146.2 148.4 144.2 148.5 143.8 148.9 142.8 149.0 141.2 149.9 140.2 150.0 138.8 150.9 137.8 151.0 136.2 151.9 135.2 152.0 133.8 152.9 132.8 153.0 131.2 153.8 130.2 154.0 128.8 154.8 127.8 155.0 126.2 155.8 125.2 156.0 119.8 158.9 119.2 159.0 118.2 159.8 117.8 159.9 114.2 161.8 113.8 161.9 113.2 162.3 112.8 162.4 112.2 162.8 111.8 162.9 111.2 163.3 110.8 163.4 110.2 163.9 107.8 165.0 106.8 165.8 106.2 165.9 104.8 166.8 104.2 166.9 103.8 167.4 102.2 168.0 101.2 168.8 99.8 169.4 99.2 169.8 98.8 169.9 98.2 170.3 97.8 170.4 96.2 171.3 95.2 171.4 94.8 171.8 93.8 171.9 93.2 172.3 92.2 172.4 91.8 172.8 90.8 172.9 90.2 173.3 89.2 173.4 88.8 173.8 87.8 173.9 87.2 174.3 86.2 174.4 85.8 174.8 85.1 174.8 85.2 173.2 85.6 172.8 85.7 170.8 86.1 170.2 86.2 168.2 86.6 167.8 86.7 165.8 87.1 165.2 87.2 163.2 87.6 162.8 87.7 160.8 88.1 160.2 88.2 158.2 88.6 157.8 88.7 155.8 89.1 155.2 89.2 153.2 89.6 152.8 89.7 150.8 90.2 150.2 90.8 150.2 91.2 150.6 92.2 150.7 92.8 151.1 93.8 151.2 94.2 151.6 95.8 151.7 96.2 152.1 97.2 152.2 97.8 152.5 98.8 152.7 99.2 153.0 100.7 153.2 101.2 153.5 102.2 153.7 102.8 154.0 103.8 154.2 104.2 154.5 105.2 154.7 105.8 155.0 107.2 155.2 107.8 155.5 108.2 155.5 109.2 154.7 109.8 154.6 111.2 153.6 112.8 153.0 113.8 152.2 114.2 152.1 114.8 151.6 116.2 151.0 117.2 150.2 118.8 149.5 121.2 147.7 123.8 146.5 124.8 145.7 125.2 145.6 126.8 144.6 128.2 144.0 129.2 143.2 129.8 143.0 131.2 142.1 133.8 141.0 134.8 140.1 135.2 140.0 139.8 137.6 140.8 137.5 144.2 135.6 145.2 135.5 148.8 133.6 149.8 133.5 152.2 132.1 153.2 132.0 155.8 130.6 156.8 130.4 157.2 130.1 158.2 129.9 158.8 129.6 160.2 129.4 160.8 129.1 161.8 128.9 162.2 128.6 163.8 128.4 164.2 128.1 165.2 127.9 165.8 127.6 166.8 127.4 167.2 127.1 168.8 126.9 169.2 126.6 170.2 126.4 170.8 126.1 172.2 125.9 172.8 125.6 173.8 125.4 174.2 125.1 176.2 124.9 176.8 124.6 178.8 124.4 179.2 124.1 181.8 123.9 182.2 123.5 184.2 123.4 184.8 123.0 187.2 122.9 187.8 122.5 191.2 122.5 195.5 122.2ZM719.2 130.2 719.8 130.2 720.3 130.8 720.3 132.2 720.8 132.8 720.8 134.2 721.3 134.8 721.3 136.2 721.8 136.8 721.8 138.2 722.3 138.8 722.3 140.2 722.8 140.8 722.8 142.2 723.3 142.8 723.3 144.2 723.8 144.8 723.8 146.2 724.3 146.8 724.3 148.2 724.8 148.8 724.8 150.2 724.2 150.8 723.8 150.8 719.8 154.8 719.2 154.8 714.3 159.8 713.8 159.8 706.8 166.8 706.8 167.2 706.3 167.8 706.2 168.3 705.3 169.3 705.3 169.8 704.8 170.2 704.8 170.8 703.8 171.8 703.8 172.2 703.3 172.8 703.3 173.2 702.8 173.8 702.8 174.2 701.8 175.3 701.8 175.8 701.3 176.2 701.3 176.8 700.3 177.8 700.3 178.2 699.8 178.8 699.8 179.2 698.8 180.2 698.8 180.8 698.3 181.2 698.3 181.8 697.3 182.8 697.3 183.2 696.8 183.8 696.8 184.2 696.3 184.8 696.3 185.2 695.8 185.8 695.8 186.2 695.3 186.8 695.3 187.2 694.8 187.8 694.8 188.2 694.3 188.8 694.3 189.3 693.8 189.8 693.8 190.2 693.3 190.7 693.3 191.2 692.8 191.8 692.8 192.2 692.3 192.8 692.3 193.2 691.8 193.8 691.8 194.3 691.3 194.8 691.3 195.2 690.8 195.8 690.8 196.2 690.3 196.8 690.2 197.3 689.8 197.8 689.8 198.2 688.8 199.2 688.8 199.8 688.3 200.3 688.3 200.8 687.8 201.2 687.8 201.8 687.3 202.2 687.3 202.8 686.8 203.2 686.8 203.8 686.3 204.2 686.3 204.8 685.8 205.2 685.8 205.8 684.8 206.8 684.8 207.2 684.3 207.8 684.3 208.2 683.8 208.8 683.8 209.3 682.8 210.2 682.8 210.8 682.3 211.2 682.3 211.8 681.3 212.8 681.3 213.2 680.3 214.2 680.3 214.8 679.3 215.8 679.3 216.2 678.3 217.3 678.3 217.8 677.3 218.8 677.3 219.2 676.8 219.8 676.8 220.3 675.8 221.2 675.8 221.8 675.3 222.2 675.3 222.8 674.8 223.2 674.8 223.8 673.8 224.8 673.8 225.2 673.3 225.8 673.3 226.2 672.8 226.8 672.8 227.2 671.8 228.2 671.8 228.8 670.8 229.8 670.8 230.3 669.8 231.2 669.8 231.8 668.8 232.8 668.8 233.3 667.8 234.2 667.8 234.7 666.8 235.8 666.8 236.2 666.3 236.8 666.3 237.2 665.3 238.2 665.2 238.8 663.9 240.2 663.8 240.8 662.9 241.8 662.8 242.2 661.8 243.2 661.8 243.8 660.4 245.2 660.3 245.8 659.4 246.8 659.3 247.2 657.4 249.2 657.3 249.8 653.4 253.7 653.3 254.2 649.9 257.8 649.8 258.3 646.9 261.2 646.8 261.8 644.4 264.2 644.3 264.8 633.4 275.8 632.8 275.9 630.2 278.4 629.4 278.8 626.9 281.2 626.2 281.4 622.9 284.8 622.2 285.0 618.4 288.8 617.8 289.0 616.2 290.4 615.8 290.5 613.2 292.4 612.8 292.5 611.8 293.4 611.2 293.5 610.2 294.4 609.8 294.5 608.8 295.4 608.2 295.5 605.8 297.4 605.2 297.5 604.2 298.4 603.8 298.5 602.8 299.4 602.2 299.5 600.8 300.9 600.2 301.0 598.8 302.4 598.2 302.5 596.8 303.9 596.2 304.0 594.8 305.4 594.2 305.5 593.2 306.4 592.8 306.5 591.8 307.4 591.2 307.5 589.8 308.9 589.2 309.0 588.2 309.9 587.8 310.0 586.8 310.9 586.2 311.0 584.8 312.4 584.2 312.5 583.2 313.4 582.8 313.5 581.8 314.4 581.2 314.5 580.2 315.4 579.8 315.6 577.2 317.4 575.8 318.1 574.8 318.9 572.2 320.0 570.8 320.9 569.8 321.1 566.2 322.9 565.2 323.1 561.8 324.9 560.8 325.1 559.8 325.6 558.8 326.4 554.2 328.6 553.2 329.4 551.8 330.0 551.2 330.4 549.2 331.4 546.8 332.1 545.2 332.9 542.8 333.6 542.2 333.9 541.2 334.1 540.8 334.4 539.8 334.6 538.2 335.4 537.2 335.6 536.2 336.0 535.8 336.4 534.8 336.6 533.2 337.4 532.2 337.6 529.8 338.9 528.8 339.1 526.2 340.4 525.2 340.5 522.8 341.9 521.8 342.0 520.2 342.9 519.2 343.0 516.8 344.4 515.8 344.5 515.2 344.9 514.2 345.0 513.8 345.4 512.2 345.5 511.8 345.9 510.2 346.0 509.8 346.4 508.2 346.5 507.8 346.9 505.8 347.0 505.3 347.4 503.8 347.5 503.2 347.9 501.8 348.0 501.2 348.4 499.2 348.5 498.8 348.9 496.8 349.0 496.2 349.4 494.2 349.5 493.8 349.9 491.8 350.0 491.2 350.4 490.2 350.5 490.0 350.8 490.0 369.8 489.8 370.0 330.2 369.8 330.2 352.2 331.2 352.2 331.8 351.7 334.2 351.7 334.8 351.2 337.2 351.2 337.8 350.7 340.2 350.7 340.8 350.2 346.8 350.2 347.2 349.7 356.2 349.7 356.8 349.2 363.8 349.2 364.2 349.7 368.2 349.7 368.7 350.2 372.8 350.2 373.2 350.7 376.8 350.7 377.2 351.2 380.2 351.2 380.8 351.7 383.8 351.7 384.2 352.2 387.2 352.2 387.8 352.7 389.8 352.7 390.2 353.2 392.2 353.2 392.7 353.7 394.8 353.7 395.2 354.2 397.3 354.2 397.8 354.7 399.8 354.7 400.2 355.2 406.8 355.2 407.2 355.7 413.2 355.7 413.7 355.2 420.8 355.2 421.2 354.7 426.8 354.6 427.2 354.2 430.2 354.1 430.8 353.7 434.2 353.6 434.8 353.2 437.8 353.0 438.2 352.7 442.2 352.5 442.8 352.2 447.2 352.0 447.8 351.6 452.2 351.5 452.8 351.1 454.8 351.0 455.2 350.6 457.2 350.5 457.8 350.1 459.8 350.0 460.2 349.6 462.2 349.5 462.8 349.1 464.8 349.0 465.2 348.6 467.2 348.5 467.7 348.1 469.8 348.0 470.2 347.6 472.2 347.5 472.8 347.1 474.8 347.0 475.2 346.6 477.2 346.5 477.8 346.1 478.8 346.0 479.2 345.6 480.2 345.5 480.8 345.1 482.2 345.0 482.8 344.6 483.8 344.5 484.2 344.1 485.2 344.0 485.8 343.6 487.2 343.5 487.8 343.1 488.8 343.0 489.2 342.6 490.2 342.5 490.8 342.1 492.2 342.0 492.7 341.6 493.8 341.5 494.2 341.1 495.2 341.0 495.8 340.6 497.2 340.5 497.8 340.1 498.8 340.0 499.2 339.6 500.2 339.5 500.8 339.1 502.2 339.0 504.8 337.6 505.8 337.5 509.2 335.6 510.2 335.5 513.8 333.6 514.8 333.5 516.2 332.6 517.2 332.5 518.8 331.6 519.8 331.5 521.2 330.6 522.2 330.5 523.8 329.6 524.8 329.5 526.2 328.6 527.2 328.5 528.2 328.0 528.8 327.6 529.8 327.4 530.2 327.1 531.2 326.9 531.8 326.6 532.8 326.4 533.2 326.1 534.2 325.9 534.8 325.6 536.2 325.4 536.8 325.1 537.8 324.9 538.2 324.6 540.8 323.9 541.8 323.5 542.8 322.6 543.2 322.5 544.2 321.6 544.8 321.5 545.8 320.6 547.2 319.9 548.2 319.1 548.8 319.0 549.2 318.6 550.8 317.9 551.8 317.1 554.2 315.9 555.2 315.1 565.8 309.9 566.8 309.1 569.2 307.9 570.2 307.1 573.8 305.4 574.8 304.6 580.2 301.9 581.2 301.1 582.8 300.5 583.8 299.6 585.2 299.0 587.8 297.1 588.2 297.0 589.2 296.1 589.8 296.0 590.8 295.1 591.2 295.0 592.8 293.6 593.2 293.5 594.2 292.6 594.8 292.5 598.2 289.6 598.8 289.5 600.2 288.1 600.8 288.0 602.8 286.1 603.2 286.0 604.8 284.6 605.2 284.5 606.8 283.1 607.2 283.0 608.8 281.6 609.2 281.5 610.8 280.1 611.2 280.0 612.8 278.6 613.2 278.5 614.8 277.1 615.5 276.8 620.5 271.8 620.8 271.1 626.1 265.8 626.8 265.6 628.8 263.7 629.2 263.6 631.2 261.6 632.1 261.2 633.8 259.6 634.0 259.2 634.1 258.8 639.2 253.6 639.6 253.3 639.7 252.8 643.6 248.8 643.8 248.2 647.1 244.8 647.2 244.2 650.6 240.8 650.7 240.2 652.6 238.2 652.7 237.8 654.6 235.8 654.7 235.2 656.1 233.8 656.2 233.3 657.1 232.2 657.2 231.8 658.6 230.2 658.7 229.8 659.7 228.8 659.7 228.2 661.1 226.8 661.2 226.2 662.2 225.2 662.2 224.8 663.6 223.2 663.7 222.7 664.7 221.8 664.7 221.3 666.1 219.8 666.2 219.2 667.2 218.2 667.2 217.7 668.2 216.8 668.2 216.2 669.2 215.2 669.2 214.7 670.2 213.8 670.2 213.2 671.2 212.3 671.2 211.8 672.2 210.8 672.2 210.2 673.2 209.3 673.2 208.8 673.7 208.2 673.7 207.8 674.2 207.2 674.2 206.8 675.2 205.8 675.2 205.2 675.7 204.8 675.7 204.2 676.2 203.8 676.2 203.2 677.2 202.2 677.2 201.8 677.7 201.2 677.7 200.7 678.2 200.3 678.2 199.7 678.7 199.2 678.7 198.7 679.2 198.2 679.2 197.7 679.7 197.2 679.7 196.8 680.2 196.2 680.2 195.2 681.2 193.8 681.2 192.8 682.2 191.2 682.2 190.3 682.7 189.8 682.7 189.2 683.2 188.8 683.2 188.2 684.2 186.8 684.2 185.8 684.7 185.2 684.7 184.8 685.2 184.2 685.2 183.8 685.7 183.2 685.7 182.8 686.2 182.2 686.2 181.8 686.7 181.2 686.7 180.8 687.7 179.8 687.7 179.2 688.7 178.2 688.7 177.7 690.2 176.2 690.2 175.7 691.7 174.2 691.8 173.7 693.2 172.2 693.2 171.8 693.7 171.2 693.7 170.8 694.2 170.2 694.2 169.2 694.7 168.8 694.7 167.8 695.2 167.2 695.2 166.2 695.7 165.8 695.7 164.8 696.2 164.2 696.2 163.2 696.7 162.8 696.7 161.8 697.2 161.2 697.2 159.7 697.7 159.2 697.7 158.2 698.2 157.8 698.2 156.8 698.7 156.2 698.7 152.8 698.2 152.2 698.2 149.8 698.7 149.2 698.7 148.2 699.2 147.8 699.2 146.2 699.7 145.8 699.7 144.8 700.2 144.2 700.2 143.2 700.7 142.8 700.7 141.8 701.2 141.2 701.2 140.2 701.7 139.8 701.7 138.8 702.2 138.2 702.2 137.2 702.7 136.8 702.8 135.7 703.8 134.7 705.2 134.7 705.8 134.2 706.8 134.2 707.2 133.7 708.8 133.7 709.2 133.2 710.2 133.2 710.8 132.7 711.8 132.7 712.2 132.2 713.8 132.2 714.2 131.7 715.2 131.7 715.8 131.2 717.2 131.2 717.8 130.7 718.8 130.7 719.2 130.2Z" fill="#fdc395"/><path d="M195.8 122.1 206.2 122.1 206.8 122.5 217.2 122.6 217.8 123.0 222.2 123.0 223.2 123.5 224.2 123.6 228.8 126.0 229.8 126.1 230.2 126.5 232.8 127.6 234.5 129.2 235.2 129.6 237.5 131.8 238.2 132.1 240.5 134.2 241.4 135.2 241.8 136.0 243.4 137.8 243.8 138.5 245.4 140.2 245.5 140.8 246.4 141.8 246.5 142.2 247.4 143.2 247.5 143.8 248.4 144.8 248.5 145.2 249.4 146.2 249.5 146.8 249.9 147.2 250.4 148.2 250.5 149.2 250.9 149.8 251.0 151.2 251.4 151.8 251.5 152.8 251.9 153.2 252.0 154.2 252.5 155.2 254.5 159.2 255.4 160.2 256.5 162.8 256.9 163.2 259.9 169.2 260.5 170.8 260.9 171.2 261.0 171.8 261.4 172.2 261.5 172.8 261.9 173.2 262.0 173.8 262.4 174.2 262.5 175.2 263.4 176.8 264.0 179.2 264.9 180.8 265.5 183.2 266.4 184.8 266.5 185.8 266.9 186.2 267.0 187.8 267.4 188.2 267.5 189.2 267.9 189.8 268.5 192.2 268.9 192.8 269.5 195.2 269.9 195.8 270.0 197.2 270.9 199.2 271.0 200.2 271.4 200.8 271.5 201.8 274.9 208.3 275.0 208.8 275.4 209.2 275.5 209.8 275.9 210.2 276.0 210.8 276.4 211.2 276.5 211.8 276.9 212.2 277.0 212.8 277.4 213.2 277.5 213.8 277.9 214.2 278.0 214.8 278.4 215.2 278.5 215.8 278.9 216.2 279.0 216.8 279.4 217.2 279.5 217.8 279.9 218.2 280.0 218.8 280.4 219.2 280.5 220.2 281.3 221.7 282.0 224.2 282.8 225.8 283.5 228.2 284.3 229.8 284.3 230.2 284.8 231.2 285.0 232.2 285.3 232.8 285.5 233.8 286.3 235.2 286.3 235.8 286.8 236.8 287.0 237.8 287.3 238.2 287.5 239.2 287.8 239.8 287.9 240.8 288.8 242.2 289.4 244.8 289.8 245.2 289.9 246.2 290.3 246.8 290.4 247.8 290.8 248.2 290.9 249.2 291.3 249.8 291.2 257.2 289.2 261.2 287.8 261.9 286.8 262.7 286.2 262.8 284.8 260.7 284.6 260.2 283.3 258.8 283.2 258.2 282.2 257.2 282.1 256.8 280.2 254.8 280.1 254.2 278.2 252.2 277.8 251.4 274.2 247.7 274.0 247.2 272.7 245.8 272.6 245.2 270.2 242.2 270.1 241.8 269.2 240.8 269.0 240.2 267.7 238.8 267.6 238.2 266.6 237.3 266.5 236.8 265.1 235.2 265.0 234.8 262.6 231.8 262.5 231.2 261.6 230.2 261.5 229.8 258.6 226.2 255.0 218.8 254.2 217.4 253.6 216.8 252.5 214.2 251.6 213.2 250.5 210.8 249.6 209.8 249.5 209.2 248.6 208.2 248.5 207.8 247.6 206.8 247.5 206.2 246.6 205.2 246.5 204.8 245.6 203.8 245.5 203.2 244.6 202.2 244.0 200.8 243.1 199.8 243.0 199.2 242.3 197.9 241.6 197.2 241.0 195.8 240.1 194.8 239.5 193.2 237.6 190.7 237.0 189.2 235.1 186.8 235.0 186.2 232.6 183.2 232.5 182.8 231.6 181.8 231.5 181.2 230.1 179.8 230.0 179.2 229.1 178.2 229.0 177.8 227.1 175.8 226.8 175.0 224.6 172.8 224.2 172.0 221.6 169.2 221.5 168.8 218.6 165.8 218.5 165.2 215.8 162.4 215.5 161.8 212.5 158.8 211.8 158.4 210.8 157.5 210.2 157.4 209.2 156.5 208.8 156.4 207.8 155.5 206.2 154.9 205.2 154.0 203.7 153.4 203.2 153.0 201.8 152.4 200.8 151.5 199.8 151.0 198.8 150.9 197.2 150.0 196.2 149.9 195.8 149.5 194.8 149.0 193.8 148.9 193.2 148.5 191.8 148.4 191.2 148.0 189.8 147.9 189.2 147.5 187.2 147.4 186.8 147.0 185.2 146.8 184.8 146.5 183.2 146.3 182.8 146.0 181.2 145.8 180.8 145.5 179.2 145.3 178.8 145.0 177.2 144.8 176.8 144.5 175.8 144.3 171.2 144.3 170.2 144.5 167.2 144.5 166.7 144.8 162.8 144.8 161.8 144.9 161.2 145.3 159.2 145.4 158.8 145.8 156.8 145.9 156.2 146.3 154.2 146.4 153.8 146.7 151.8 146.9 151.2 147.2 149.2 147.4 148.8 147.7 147.8 147.7 146.8 147.9 146.2 148.2 144.2 148.3 125.2 155.8 110.4 163.2 109.8 163.7 96.8 170.7 86.2 174.1 85.8 174.1 85.6 173.8 85.9 172.2 86.1 171.8 86.4 169.8 86.6 169.2 86.9 167.2 87.1 166.8 87.4 164.8 87.6 164.2 87.9 162.2 88.1 161.8 88.4 159.8 88.6 159.2 88.9 157.2 89.1 156.8 89.4 154.8 90.2 150.8 91.2 150.8 106.2 155.5 108.2 155.8 117.8 150.4 122.6 147.2 131.5 142.2 133.8 141.2 134.8 140.4 136.9 139.2 139.8 137.9 140.8 137.7 144.2 135.8 145.2 135.6 147.8 134.3 148.2 134.2 148.8 133.8 149.8 133.6 151.2 132.8 151.8 132.7 152.2 132.3 153.2 132.1 155.8 130.7 156.8 130.6 157.2 130.2 158.2 130.1 158.8 129.7 160.2 129.6 160.8 129.2 161.8 129.1 162.2 128.7 163.8 128.6 164.2 128.2 165.2 128.1 165.8 127.7 166.8 127.6 167.2 127.2 168.8 127.0 169.3 126.7 170.2 126.5 170.8 126.2 172.2 126.0 174.2 125.2 176.2 125.0 176.8 124.7 178.8 124.5 179.2 124.2 181.8 124.0 182.2 123.7 184.2 123.5 184.7 123.2 187.2 123.0 187.8 122.6 195.2 122.5 195.6 122.3ZM716.8 134.6 717.2 134.5 717.6 134.8 721.1 148.8 711.7 157.2 704.5 164.2 700.1 171.8 695.6 180.8 689.9 193.2 684.2 204.7 681.2 210.2 676.1 218.2 671.7 226.3 664.0 239.2 658.3 247.8 649.8 257.6 649.4 258.2 647.1 260.8 644.0 264.8 633.2 275.7 632.8 275.8 630.2 278.2 629.8 278.3 626.8 281.2 626.2 281.3 622.8 284.8 622.2 284.8 618.2 288.8 617.8 288.8 616.2 290.3 615.8 290.4 614.8 291.3 614.2 291.4 611.8 293.3 611.2 293.4 610.2 294.3 609.8 294.4 608.8 295.3 608.2 295.4 607.2 296.3 606.8 296.4 605.7 297.3 605.2 297.4 604.2 298.3 603.8 298.4 602.8 299.3 602.2 299.4 600.8 300.8 600.2 300.9 598.8 302.3 598.2 302.4 596.8 303.8 596.2 303.9 594.8 305.3 594.2 305.4 593.2 306.3 592.8 306.4 589.8 308.8 589.2 308.9 588.2 309.8 587.8 309.9 584.8 312.3 584.2 312.4 583.2 313.3 582.8 313.4 581.8 314.3 581.2 314.5 580.2 315.3 579.8 315.5 577.2 317.3 576.8 317.4 576.2 317.8 575.8 318.0 574.8 318.8 572.2 319.9 570.8 320.8 569.8 321.0 568.2 321.8 567.8 321.9 567.2 322.3 566.8 322.4 566.2 322.8 565.2 323.0 563.8 323.8 563.2 323.9 562.8 324.3 562.2 324.4 561.8 324.8 560.8 325.0 559.8 325.5 558.8 326.3 556.2 327.4 555.8 327.8 554.2 328.5 553.2 329.3 551.8 329.9 551.2 330.3 549.2 331.3 546.8 332.0 545.2 332.8 542.8 333.5 542.2 333.8 541.2 334.0 540.8 334.3 539.8 334.5 538.2 335.3 537.2 335.5 536.8 335.8 536.2 335.9 535.8 336.3 534.8 336.5 533.2 337.3 532.2 337.5 530.8 338.3 530.2 338.4 529.8 338.8 528.8 339.0 527.2 339.8 526.8 339.9 526.2 340.3 525.2 340.5 523.8 341.3 523.2 341.4 522.8 341.8 521.8 342.0 520.2 342.8 519.2 343.0 517.8 343.8 517.2 343.9 516.8 344.3 515.8 344.5 514.8 345.0 514.2 345.0 513.8 345.3 512.2 345.5 511.8 345.8 510.2 346.0 509.8 346.3 508.2 346.5 507.8 346.8 505.8 347.0 505.2 347.3 503.8 347.4 503.2 347.8 501.8 347.9 501.2 348.3 499.2 348.4 498.8 348.8 496.8 348.9 496.2 349.3 494.2 349.4 493.8 349.8 491.8 349.9 491.2 350.3 490.3 350.3 489.9 350.8 489.9 369.8 489.8 369.9 431.0 369.8 424.2 369.1 422.8 368.7 421.3 367.8 420.7 366.8 420.4 365.8 419.9 362.8 420.0 361.2 420.5 358.8 420.9 357.8 421.8 356.7 422.8 356.0 429.2 354.3 432.2 354.0 432.8 353.7 434.2 353.7 434.8 353.4 437.8 353.2 438.2 352.9 442.2 352.7 442.8 352.3 447.2 352.1 447.8 351.7 452.2 351.6 452.8 351.2 454.8 351.1 455.2 350.7 457.2 350.6 457.8 350.2 459.8 350.1 460.2 349.7 462.2 349.6 462.8 349.2 464.8 349.1 465.2 348.7 467.2 348.6 467.8 348.2 469.8 348.1 470.2 347.7 472.2 347.6 472.8 347.2 474.8 347.1 475.2 346.7 477.2 346.6 477.8 346.2 478.8 346.1 479.2 345.7 480.2 345.6 480.8 345.2 482.2 345.1 482.8 344.7 483.8 344.6 484.2 344.2 485.2 344.1 485.7 343.7 487.2 343.6 487.8 343.2 488.8 343.1 489.3 342.7 490.2 342.6 490.8 342.2 492.2 342.1 492.8 341.7 493.8 341.6 494.2 341.2 495.3 341.1 495.8 340.7 497.2 340.6 497.7 340.2 498.8 340.1 499.2 339.7 500.2 339.6 500.8 339.2 502.2 339.1 503.8 338.2 504.2 338.1 504.8 337.7 505.8 337.5 508.2 336.2 508.8 336.1 509.2 335.7 510.2 335.5 511.8 334.7 512.2 334.6 512.8 334.2 513.2 334.1 513.8 333.7 514.8 333.5 516.2 332.7 517.2 332.5 518.8 331.7 519.8 331.5 521.2 330.7 522.2 330.5 523.8 329.7 524.8 329.5 526.2 328.7 527.2 328.5 527.8 328.2 528.2 328.1 528.8 327.7 529.8 327.5 530.2 327.2 531.2 327.0 531.8 326.7 532.8 326.5 533.2 326.2 534.2 326.0 534.8 325.7 536.2 325.5 536.8 325.2 537.8 325.0 538.2 324.7 539.2 324.5 539.8 324.2 540.8 324.0 541.2 323.7 541.8 323.6 542.8 322.7 543.2 322.6 545.8 320.7 547.2 320.0 548.2 319.2 548.8 319.1 549.2 318.7 550.8 318.0 551.8 317.2 552.2 317.1 552.8 316.7 554.2 316.0 555.2 315.2 555.8 315.1 556.2 314.7 565.8 310.0 566.8 309.2 567.2 309.1 567.8 308.7 569.2 308.0 570.2 307.2 570.8 307.1 571.2 306.7 573.8 305.5 574.8 304.7 575.2 304.6 575.8 304.2 576.2 304.1 576.8 303.7 577.2 303.6 577.8 303.2 578.2 303.1 578.8 302.7 580.2 302.0 581.2 301.2 582.8 300.5 583.8 299.7 585.2 299.0 586.2 298.2 586.8 298.1 587.8 297.2 588.2 297.1 589.2 296.2 589.8 296.1 590.8 295.2 591.2 295.0 592.8 293.7 593.2 293.6 594.2 292.7 594.8 292.6 596.2 291.2 596.8 291.1 598.2 289.7 598.8 289.6 600.2 288.2 600.8 288.1 602.8 286.2 603.2 286.1 604.8 284.7 605.2 284.6 606.8 283.2 607.2 283.1 608.8 281.7 609.2 281.6 610.8 280.2 611.2 280.1 612.8 278.7 613.2 278.6 614.8 277.2 615.2 277.1 620.7 271.8 620.8 271.2 626.2 265.8 626.8 265.7 628.8 263.8 629.2 263.7 631.2 261.8 631.8 261.7 632.2 261.2 634.2 259.2 634.3 258.8 639.3 253.8 639.9 252.8 643.8 248.8 644.0 248.2 650.5 241.2 654.6 236.2 660.8 227.8 670.2 215.8 673.8 210.5 679.0 201.8 680.8 198.2 683.7 191.2 687.9 182.8 690.8 178.8 695.2 173.7 696.1 172.2 700.2 162.2 701.7 157.2 702.1 155.8 702.1 154.2 701.6 150.8 705.5 138.2 706.1 137.8 716.3 134.8Z" fill="#fcbf90"/><path d="M195.8 122.2 206.2 122.2 206.8 122.6 217.2 122.7 217.8 123.1 222.2 123.1 223.8 123.8 224.2 123.8 224.8 124.2 225.2 124.3 225.8 124.7 226.2 124.8 228.8 126.1 229.8 126.3 230.2 126.7 232.7 127.8 234.3 129.2 235.2 129.8 237.3 131.8 238.2 132.3 241.2 135.2 241.4 135.8 243.2 137.8 243.8 138.7 245.2 140.2 245.3 140.8 246.2 141.8 246.3 142.2 247.3 143.2 247.3 143.8 249.3 146.2 249.4 146.8 250.3 148.2 250.3 148.8 250.8 149.8 250.9 151.2 251.3 151.8 251.4 152.8 251.8 153.2 251.8 153.7 252.4 155.2 252.8 155.8 252.9 156.2 253.3 156.8 253.4 157.2 254.5 159.2 255.3 160.2 255.4 160.8 255.8 161.2 256.4 162.8 256.8 163.2 260.3 170.2 260.4 170.8 260.8 171.2 260.9 171.8 261.3 172.2 261.4 172.8 261.8 173.2 261.9 173.8 262.3 174.2 262.4 175.2 263.3 176.8 263.3 177.2 263.8 178.2 263.9 179.2 264.8 180.8 264.8 181.2 265.3 182.2 265.4 183.2 266.3 184.8 266.3 185.3 266.8 186.2 266.9 187.8 267.3 188.2 267.4 189.2 268.3 191.2 268.3 191.8 269.3 194.2 269.3 194.8 269.8 195.8 269.9 197.2 270.8 199.2 270.9 200.2 271.3 200.8 271.4 201.8 272.4 203.8 272.8 204.2 272.9 204.8 273.3 205.2 273.4 205.8 273.8 206.2 273.9 206.8 274.3 207.2 274.4 207.8 274.8 208.2 274.9 208.8 275.3 209.2 275.4 209.8 275.8 210.2 275.9 210.8 276.3 211.2 276.4 211.8 276.8 212.2 276.9 212.8 277.3 213.2 277.3 213.8 277.8 214.2 277.8 214.8 278.2 215.2 278.3 215.8 278.7 216.2 278.8 216.8 279.2 217.2 279.3 217.8 279.7 218.2 279.8 218.8 280.2 219.2 280.4 220.2 281.2 221.8 281.2 222.2 281.7 223.2 281.9 224.2 282.7 225.8 283.4 228.2 284.2 229.8 285.4 233.8 286.1 235.2 287.8 240.8 288.5 242.2 291.0 250.2 290.9 256.8 290.8 257.6 289.2 260.5 288.2 261.4 286.8 262.2 286.2 262.2 285.9 261.8 282.0 256.2 277.9 251.2 274.2 247.5 271.6 243.8 270.4 242.2 270.2 241.8 269.2 240.6 269.1 240.2 267.8 238.8 267.7 238.2 266.8 237.2 266.6 236.8 265.3 235.2 265.2 234.8 264.2 233.7 264.1 233.2 262.7 231.8 262.6 231.2 261.7 230.2 261.6 229.8 258.7 226.2 258.6 225.8 258.2 225.2 256.1 220.8 255.7 220.2 255.6 219.7 255.2 219.2 255.1 218.8 254.2 217.3 253.7 216.7 253.1 215.2 252.2 213.8 251.7 213.2 251.1 211.8 250.2 210.3 249.7 209.8 249.6 209.3 247.7 206.8 247.6 206.2 246.7 205.2 246.6 204.8 245.7 203.8 245.6 203.2 244.7 202.2 244.6 201.8 243.8 200.3 243.2 199.8 243.1 199.2 242.3 197.8 241.7 197.2 241.1 195.8 240.2 194.8 239.6 193.2 237.7 190.8 237.6 190.3 235.8 187.3 235.2 186.8 235.1 186.2 232.7 183.2 232.6 182.8 230.2 179.8 230.1 179.2 229.2 178.2 229.1 177.8 227.2 175.8 226.8 174.9 224.7 172.8 224.2 171.9 221.7 169.2 221.6 168.8 218.7 165.7 218.6 165.2 215.7 162.3 215.6 161.8 212.6 158.8 207.8 155.4 206.2 154.7 205.2 153.9 203.2 152.8 201.8 152.3 200.8 151.4 199.8 150.9 198.8 150.8 198.2 150.4 196.8 149.8 196.2 149.8 195.8 149.4 194.2 148.8 193.7 148.8 193.2 148.4 191.7 148.3 191.2 147.9 189.8 147.8 189.2 147.4 187.2 147.2 186.8 146.9 185.2 146.7 184.8 146.4 183.2 146.2 182.8 145.9 181.2 145.7 180.8 145.4 179.2 145.2 178.8 144.9 177.2 144.7 176.8 144.4 175.8 144.2 171.2 144.2 170.2 144.3 167.2 144.3 166.2 144.6 162.8 144.6 159.8 145.3 157.8 145.5 157.2 145.8 155.2 146.0 154.8 146.2 152.8 146.4 152.2 146.7 143.8 148.1 125.2 155.2 110.2 162.6 96.8 169.8 88.2 172.6 86.8 173.0 86.6 172.8 90.3 153.8 90.8 151.8 91.2 151.6 106.2 156.1 107.2 156.4 108.8 156.3 116.8 151.6 122.8 147.8 136.8 139.8 150.8 133.3 151.2 133.2 155.2 131.3 157.2 130.5 163.2 128.7 163.8 128.7 167.2 127.5 168.8 127.2 171.8 126.2 172.2 126.1 175.2 125.1 176.2 125.1 176.8 124.8 178.8 124.6 179.2 124.3 181.8 124.1 182.2 123.8 184.2 123.6 184.8 123.3 187.2 123.1 187.8 122.8 195.2 122.6 195.7 122.2ZM666.8 224.2 667.8 224.0 668.2 224.0 668.6 224.2 668.6 224.8 667.4 228.8 666.3 231.2 662.9 238.2 658.2 246.2 656.2 248.9 649.2 257.2 643.7 264.2 633.2 275.1 629.2 278.4 626.8 280.8 626.0 281.2 618.2 288.5 617.8 288.7 615.9 290.2 602.2 299.3 600.8 300.6 600.2 300.8 598.8 302.2 598.2 302.3 596.8 303.7 596.2 303.8 594.8 305.2 594.2 305.3 593.2 306.2 592.8 306.3 589.8 308.7 589.2 308.8 588.2 309.7 587.8 309.8 584.8 312.2 584.2 312.3 583.2 313.2 582.7 313.3 581.7 314.2 581.2 314.4 577.2 317.2 575.8 317.9 574.7 318.8 572.2 319.8 570.8 320.7 569.8 320.9 568.2 321.7 567.8 321.8 567.2 322.2 566.8 322.3 566.2 322.7 565.2 322.9 563.8 323.7 563.2 323.8 562.8 324.2 562.2 324.3 561.8 324.7 560.8 324.9 559.8 325.4 558.8 326.2 556.2 327.3 555.7 327.8 554.2 328.4 553.2 329.2 552.8 329.3 549.2 331.2 546.8 331.9 545.2 332.7 544.8 332.7 542.1 333.8 541.2 333.9 540.8 334.2 539.8 334.4 538.2 335.2 537.2 335.4 535.8 336.2 534.8 336.4 533.1 337.2 532.2 337.4 529.8 338.7 528.8 338.9 526.2 340.2 525.2 340.4 522.8 341.7 521.8 341.9 520.0 342.8 519.2 342.9 516.8 344.2 515.8 344.4 515.2 344.8 514.2 344.9 513.8 345.2 512.2 345.4 511.8 345.7 510.2 345.9 509.8 346.2 508.2 346.4 507.8 346.7 505.8 346.9 505.2 347.2 503.8 347.4 503.2 347.7 501.8 347.9 501.2 348.2 499.2 348.4 498.8 348.6 496.8 348.8 496.2 349.1 495.2 349.2 494.2 349.3 493.8 349.6 490.2 350.2 489.8 350.8 489.8 369.8 445.2 369.7 435.2 369.4 430.2 369.0 427.2 368.4 425.2 367.5 424.1 366.2 423.6 364.8 423.3 362.8 423.4 360.8 423.8 359.2 424.3 358.2 425.7 356.8 427.7 355.7 429.2 355.2 430.8 354.9 431.2 354.7 436.8 353.5 439.8 353.1 440.2 352.9 442.2 352.8 442.7 352.6 444.8 352.5 445.2 352.3 449.8 352.0 450.2 351.7 452.2 351.7 455.2 351.0 457.2 350.7 457.8 350.5 459.8 350.2 460.2 350.0 462.2 349.7 462.8 349.4 464.8 349.2 465.2 348.9 467.2 348.7 467.8 348.4 469.8 348.2 470.2 347.9 472.2 347.7 472.8 347.4 474.8 347.2 475.2 346.9 477.2 346.7 477.8 346.4 480.8 345.4 482.2 345.2 485.8 343.9 487.3 343.7 487.8 343.4 488.8 343.2 490.8 342.4 492.3 342.2 492.8 341.8 493.8 341.7 495.8 340.9 497.2 340.7 497.8 340.3 498.8 340.1 500.8 339.3 502.2 339.1 504.8 337.8 505.8 337.6 509.2 335.8 510.2 335.6 513.8 333.8 514.8 333.6 516.2 332.8 517.2 332.6 518.8 331.8 519.8 331.6 521.2 330.8 522.2 330.6 523.8 329.8 524.8 329.6 526.2 328.8 527.2 328.6 528.8 327.8 529.2 327.8 530.2 327.3 531.2 327.1 531.8 326.8 532.2 326.8 533.2 326.3 534.2 326.1 534.8 325.8 536.2 325.6 536.8 325.3 537.8 325.1 538.2 324.8 539.2 324.6 539.8 324.3 540.2 324.3 541.8 323.7 544.2 321.8 544.8 321.7 545.8 320.8 546.2 320.7 548.2 319.3 548.8 319.2 549.3 318.8 550.8 318.1 551.8 317.3 552.2 317.2 552.8 316.8 554.2 316.1 555.2 315.3 555.8 315.2 556.3 314.8 565.8 310.1 566.8 309.3 567.2 309.2 567.8 308.8 569.2 308.1 570.2 307.3 570.8 307.2 571.3 306.8 573.8 305.6 574.8 304.8 575.2 304.7 575.8 304.3 576.2 304.2 580.2 302.1 581.2 301.3 581.8 301.2 583.8 299.8 584.2 299.7 586.2 298.3 586.8 298.2 587.8 297.3 588.2 297.2 589.2 296.3 589.8 296.2 590.9 295.2 591.2 295.1 592.8 293.8 593.2 293.7 594.2 292.8 594.8 292.7 596.2 291.3 596.8 291.2 598.2 289.8 598.8 289.7 600.4 288.2 600.8 288.1 602.8 286.4 603.3 286.2 604.8 284.9 605.2 284.7 606.9 283.2 615.8 276.8 626.2 266.2 626.8 266.0 632.2 261.6 634.2 259.8 634.8 258.9 639.8 253.9 640.2 253.1 642.2 251.2 650.9 241.8 661.8 228.8 664.8 225.7 666.7 224.2Z" fill="#fcbc8a"/><path d="M192.2 122.7 195.2 122.7 196.2 122.4 205.8 122.4 206.8 122.7 212.2 122.7 212.8 122.9 217.2 122.9 217.8 123.2 222.2 123.2 232.5 127.8 239.7 133.8 245.0 140.2 249.8 147.5 251.6 153.2 251.6 153.8 252.3 155.2 256.8 163.4 262.1 174.2 265.4 183.2 266.1 184.8 266.9 187.3 266.9 187.8 269.6 195.8 269.9 197.2 270.6 199.2 271.1 201.2 280.0 219.2 284.2 230.7 288.1 241.8 290.7 250.2 290.5 257.2 289.0 260.2 288.2 260.9 286.8 261.7 286.2 261.7 282.4 256.2 278.2 251.2 275.2 248.4 274.4 247.2 263.0 231.8 262.8 231.2 258.9 226.2 255.2 218.7 253.9 216.8 253.2 215.3 251.9 213.2 251.2 211.8 249.7 209.2 244.9 202.2 240.9 195.2 235.2 186.2 232.9 183.2 232.7 182.8 228.2 176.6 223.2 170.6 221.9 169.2 221.8 168.7 218.9 165.8 218.8 165.2 215.9 162.2 215.8 161.7 212.8 158.7 206.8 154.8 199.8 150.8 194.2 148.6 189.8 147.6 189.2 147.3 185.2 146.6 175.8 144.0 171.2 144.0 170.2 144.2 167.2 144.2 166.2 144.4 162.8 144.3 143.8 147.7 125.2 154.5 109.8 162.0 96.2 169.0 88.2 171.5 88.0 171.2 91.0 155.2 91.5 153.2 91.8 152.7 105.8 156.8 107.2 157.2 108.8 157.1 117.2 152.1 123.2 148.2 137.2 140.1 155.2 131.6 157.2 130.8 165.8 128.3 175.2 125.2 176.2 125.2 176.8 125.0 180.2 124.5 180.8 124.2 181.7 124.2 182.2 124.0 185.8 123.4 186.2 123.2 187.2 123.2 187.8 122.9 191.8 122.8ZM659.8 235.7 660.8 235.7 660.6 236.8 658.6 241.8 656.2 246.4 653.3 250.8 643.2 263.8 633.0 274.8 624.2 282.4 616.8 289.3 605.2 297.0 600.2 300.6 594.8 304.9 587.8 309.6 584.8 311.9 574.4 318.8 560.8 324.8 549.9 330.8 536.2 335.6 514.8 344.8 505.8 346.8 502.2 347.8 495.2 349.0 494.8 349.2 492.8 349.5 492.2 349.7 490.2 350.0 489.8 350.3 489.7 350.8 489.7 369.2 489.2 369.7 445.2 369.4 440.2 369.2 434.6 368.8 431.7 368.2 428.9 367.2 428.2 366.8 427.4 365.8 426.7 364.2 426.4 362.2 426.6 360.8 427.1 359.2 427.6 358.2 428.5 357.2 429.8 356.4 431.8 355.5 436.8 354.1 438.2 353.9 438.8 353.6 439.8 353.6 440.8 353.2 442.2 353.2 445.8 352.6 447.2 352.6 448.2 352.3 452.2 352.0 460.2 350.2 477.2 346.8 502.2 339.2 513.8 334.1 530.2 327.5 536.2 325.7 541.8 323.8 545.8 321.0 556.6 314.8 565.8 310.2 571.6 306.8 581.8 301.4 586.8 298.4 592.8 294.1 594.8 292.9 602.8 286.7 615.8 277.2 626.2 266.7 632.2 262.1 634.3 260.2 635.1 259.2 640.2 254.2 640.8 253.5 642.8 251.6 647.2 246.8 654.8 239.4 657.2 237.2 659.7 235.8Z" fill="#fcb885"/><path d="M195.8 122.7 196.2 122.5 205.8 122.5 206.8 122.7 212.2 122.7 212.8 123.0 222.2 123.3 226.7 125.2 232.2 127.8 239.5 133.8 244.8 140.2 248.8 146.2 250.0 148.2 251.5 153.8 252.1 155.2 256.8 163.7 262.1 174.8 266.3 185.8 271.4 202.2 280.0 219.8 284.8 232.8 290.4 250.2 290.3 256.8 288.8 259.9 287.8 260.8 286.8 261.3 286.2 261.0 283.5 257.2 278.5 251.2 275.4 248.2 259.1 226.2 255.4 218.8 249.9 209.2 245.1 202.2 241.8 196.5 235.4 186.2 228.2 176.4 222.1 169.2 221.8 168.6 219.2 165.8 218.8 165.0 216.2 162.2 215.8 161.5 212.8 158.5 207.2 154.8 199.2 150.5 193.8 148.4 187.2 146.8 186.2 146.7 175.8 143.8 171.2 143.8 170.2 144.0 166.8 144.0 166.2 144.2 162.8 144.1 153.2 145.8 143.8 147.3 124.8 153.9 109.2 161.0 95.8 167.8 90.2 169.4 89.9 169.2 92.1 156.8 92.5 154.8 92.8 154.5 105.8 158.0 107.2 158.3 109.2 158.1 117.8 152.9 125.5 147.8 138.0 140.2 156.8 131.3 175.2 125.5 176.2 125.4 187.8 123.1 195.3 122.8ZM651.2 246.2 652.8 246.0 652.9 246.2 652.8 246.8 651.7 249.2 648.4 254.8 642.2 263.6 632.8 274.3 616.4 289.2 604.2 297.5 594.8 304.6 578.2 316.1 574.0 318.8 560.2 324.9 549.8 330.6 536.2 335.4 514.8 344.6 511.8 345.1 502.2 347.5 491.2 349.6 489.8 350.0 489.5 350.8 489.5 369.2 489.2 369.5 457.2 369.2 442.2 368.9 437.3 368.3 434.4 367.8 432.0 366.8 430.5 365.2 429.9 363.8 429.6 362.2 429.8 360.8 430.2 359.2 431.8 357.2 433.2 356.2 435.2 355.3 440.8 353.7 442.2 353.6 443.2 353.3 444.8 353.2 445.8 352.9 452.2 352.3 477.2 347.1 479.2 346.5 501.8 339.6 515.2 333.7 530.2 327.7 539.8 324.8 541.8 324.0 547.2 320.4 556.8 314.9 565.8 310.4 571.8 306.9 581.8 301.6 586.8 298.6 594.8 293.1 606.2 284.3 615.8 277.5 626.7 266.7 633.0 262.2 646.2 249.7 648.7 247.8 651.2 246.2Z" fill="#fbb480"/><path d="M196.2 122.7 205.8 122.6 206.8 122.9 211.8 122.9 212.8 123.1 216.8 123.2 217.8 123.4 222.2 123.5 231.2 127.5 233.3 128.8 239.8 134.2 244.6 140.2 249.3 147.2 249.8 148.2 251.7 154.8 256.8 164.0 261.9 174.8 266.1 185.8 271.2 202.2 279.9 219.8 284.4 232.2 287.8 242.8 290.1 250.2 289.9 256.8 288.3 259.8 287.8 260.3 286.8 260.8 286.6 260.8 283.6 256.8 279.8 252.2 278.5 250.8 275.8 248.2 259.6 226.8 255.5 218.8 250.0 209.2 245.2 202.2 241.8 196.2 235.5 186.2 229.1 177.2 215.8 161.4 212.8 158.3 207.2 154.6 199.8 150.6 193.8 148.2 185.2 146.3 175.8 143.7 171.2 143.6 170.3 143.8 166.8 143.7 166.2 143.9 162.8 143.8 143.2 146.8 124.2 153.0 114.8 157.0 114.2 157.0 114.1 156.8 124.2 149.7 137.8 141.1 143.2 138.2 156.8 131.7 175.2 125.7 187.8 123.2 191.2 123.2 192.2 122.9 195.2 122.9 196.0 122.8ZM113.8 157.0 114.1 157.2 113.8 157.4 113.3 157.2ZM94.8 157.6 106.9 160.2 95.2 165.2 93.2 165.7 93.2 164.8 94.5 157.8ZM112.8 157.7 112.9 157.8 112.7 157.8ZM644.2 255.2 644.8 255.1 644.9 255.2 644.8 255.8 642.3 260.8 641.1 262.8 635.8 269.8 632.4 273.8 617.8 287.7 613.2 291.1 604.2 297.2 591.2 306.8 581.2 313.8 574.2 318.4 560.8 324.4 549.8 330.4 536.2 335.2 514.8 344.3 500.8 347.6 489.8 349.7 489.3 350.2 489.3 350.8 489.2 369.3 444.8 368.6 440.2 368.0 437.0 367.2 434.9 366.2 433.6 364.8 433.0 363.2 432.8 361.8 433.2 359.8 433.8 358.5 434.3 357.8 435.8 356.5 437.2 355.7 439.2 354.9 443.2 353.8 445.8 353.4 447.2 353.3 448.2 353.1 449.8 353.0 450.8 352.7 452.2 352.7 453.8 352.4 466.8 349.5 476.2 347.6 479.2 346.8 488.8 343.7 501.8 339.9 515.2 333.9 530.2 327.9 541.2 324.5 547.2 320.6 556.8 315.1 566.2 310.3 571.8 307.1 578.2 303.8 585.8 299.4 589.2 297.2 594.9 293.2 607.2 283.9 616.0 277.8 626.8 267.4 631.2 264.2 633.2 263.0 635.8 260.9 636.3 260.2 639.8 257.7 643.9 255.2Z" fill="#fbb07a"/><path d="M192.2 123.1 195.2 123.1 196.2 122.8 205.8 122.8 206.8 123.0 211.8 123.0 212.8 123.3 216.8 123.3 217.8 123.5 222.2 123.7 231.4 127.8 233.2 128.9 239.6 134.2 245.1 141.2 249.7 148.2 251.6 154.8 256.2 163.3 261.8 174.8 265.9 185.8 271.1 202.2 279.7 219.8 281.4 224.3 285.3 235.8 289.6 250.2 289.4 256.8 287.7 259.8 286.8 260.1 283.3 255.8 278.9 250.8 275.8 247.8 259.8 226.8 255.7 218.8 250.5 209.8 245.8 202.8 241.9 196.2 235.0 185.2 229.3 177.2 223.5 170.2 215.8 161.2 212.9 158.2 211.2 157.1 207.2 154.5 201.2 151.2 195.8 148.8 193.8 148.0 185.2 146.1 175.8 143.5 171.2 143.3 170.2 143.5 166.8 143.4 166.2 143.6 162.8 143.5 154.2 144.8 143.2 146.1 127.2 150.7 125.8 151.0 125.3 150.8 131.6 146.2 138.8 141.4 149.2 135.8 156.8 132.1 167.8 128.3 175.8 125.8 187.8 123.4 191.8 123.2ZM635.8 263.2 636.8 262.8 637.8 262.8 638.0 263.2 636.3 266.8 633.2 271.2 631.8 273.2 628.8 276.2 617.6 287.2 615.2 289.2 604.2 296.9 594.2 304.4 581.8 313.2 574.0 318.2 560.8 324.2 549.8 330.2 536.2 335.0 514.8 344.0 500.8 347.4 489.8 349.4 489.2 349.8 489.0 350.8 489.0 368.8 488.8 369.0 466.8 368.7 445.2 368.0 442.2 367.5 439.6 366.8 437.8 365.8 436.6 364.2 435.9 361.8 436.1 360.2 436.7 358.8 437.8 357.2 439.2 356.2 441.2 355.2 445.8 353.9 452.8 353.1 479.2 347.1 486.2 344.8 502.8 339.7 513.8 334.8 530.2 328.1 541.8 324.5 547.4 320.8 556.9 315.2 566.2 310.6 572.0 307.2 580.8 302.6 587.8 298.4 595.2 293.3 603.2 287.2 616.2 278.0 621.8 273.0 622.8 271.8 627.2 267.9 631.8 265.1 635.6 263.2Z" fill="#fbab74"/><path d="M192.2 123.2 195.2 123.2 196.2 123.0 205.8 122.9 206.8 123.2 211.8 123.2 212.8 123.4 216.8 123.4 217.8 123.7 222.2 123.8 232.2 128.4 239.4 134.2 244.6 140.8 249.5 148.2 251.4 154.8 256.2 163.6 261.8 175.0 265.6 185.2 270.9 202.2 279.3 219.2 281.2 224.2 285.1 235.8 287.0 242.2 289.2 250.6 288.8 256.8 287.2 259.4 286.8 259.2 284.3 256.2 279.2 250.6 276.2 247.9 275.2 246.8 260.0 226.8 259.2 225.6 255.8 218.8 250.7 209.8 245.3 201.8 241.2 194.8 235.2 185.2 228.7 176.2 216.1 161.2 212.8 157.9 205.8 153.4 199.8 150.2 195.8 148.6 193.8 147.9 188.8 146.8 175.8 143.3 171.2 143.1 169.8 143.3 166.8 143.1 165.8 143.3 162.2 143.2 154.2 144.3 143.2 145.3 134.8 147.2 133.2 147.4 132.8 147.2 139.2 142.2 149.7 136.2 157.5 132.2 175.8 126.0 188.2 123.5 191.2 123.5 192.1 123.2ZM631.2 267.6 632.8 267.7 632.9 268.2 631.0 271.8 629.6 273.8 625.2 278.7 615.8 288.2 603.9 296.8 594.2 304.1 581.8 312.9 573.8 318.1 560.8 324.0 549.8 329.9 537.2 334.4 514.8 343.8 500.8 347.1 489.8 349.0 489.2 349.3 488.7 350.2 488.7 368.2 488.2 368.7 465.2 368.2 445.2 367.3 443.4 366.8 441.3 365.8 440.2 364.7 439.6 363.8 439.2 362.2 439.1 361.2 439.8 358.8 441.2 356.8 443.8 355.4 446.2 354.7 452.8 353.8 460.8 351.7 477.8 347.9 502.8 340.0 514.2 334.8 529.2 328.8 541.8 324.7 546.2 321.7 555.6 316.2 566.2 310.8 572.2 307.4 580.8 302.9 587.2 299.1 595.2 293.6 607.8 284.4 616.8 278.3 622.5 273.2 623.2 272.4 626.8 269.7 628.2 268.7 630.9 267.8Z" fill="#faa66e"/><path d="M196.2 123.1 205.8 123.1 206.8 123.3 211.8 123.3 212.8 123.6 216.7 123.6 217.8 123.9 222.2 124.0 231.3 128.1 233.1 129.2 239.2 134.4 244.4 140.8 249.3 148.2 251.3 154.8 256.1 163.8 261.7 175.2 265.4 185.2 270.8 202.2 279.2 219.6 280.3 222.2 283.7 232.2 285.7 238.8 288.8 250.6 288.3 256.2 287.2 258.3 286.4 257.8 279.4 250.2 276.6 247.8 275.7 246.8 268.9 238.2 260.2 226.8 259.2 225.3 256.0 218.8 250.9 209.8 245.5 201.8 241.4 194.8 235.4 185.2 228.8 176.1 216.3 161.2 212.8 157.8 205.8 153.2 199.8 150.0 197.2 149.0 193.8 147.7 187.8 146.3 175.8 143.0 171.2 142.8 169.8 143.0 166.8 142.8 165.8 143.0 162.2 142.8 152.8 143.8 142.8 144.1 139.8 144.4 139.1 144.2 143.8 140.8 153.7 134.8 157.2 132.9 163.8 130.4 175.8 126.3 178.2 125.7 188.2 123.7 191.2 123.6 192.2 123.4 195.9 123.2ZM625.8 272.6 627.2 272.3 627.8 272.5 627.8 272.8 626.0 275.8 623.2 279.3 619.2 283.9 615.5 287.8 594.2 303.8 580.8 313.3 573.8 317.9 560.8 323.7 549.8 329.6 537.2 334.1 514.8 343.5 501.8 346.6 489.2 348.9 488.8 349.3 488.3 350.2 488.2 368.3 469.3 367.8 452.5 366.8 445.2 365.9 444.1 365.2 442.9 363.8 442.2 361.2 442.5 359.8 442.9 358.8 443.8 357.4 445.2 356.3 448.8 355.4 452.8 354.7 462.2 352.1 477.8 348.4 502.8 340.4 514.2 335.2 530.2 328.7 541.8 325.0 547.8 321.1 557.2 315.6 566.2 311.1 572.2 307.6 578.8 304.3 587.2 299.4 595.2 294.0 600.2 290.2 608.0 284.8 617.2 278.8 624.2 273.4 625.5 272.8Z" fill="#faa268"/><path d="M199.8 123.2 205.8 123.2 206.8 123.5 211.8 123.5 212.7 123.7 216.8 123.8 217.8 124.0 221.8 124.1 223.8 124.8 231.2 128.2 232.8 129.2 239.4 134.8 244.2 140.8 248.2 146.8 249.1 148.2 251.1 154.8 256.0 163.8 261.5 175.2 265.3 185.2 270.6 202.2 279.2 220.0 280.1 222.2 282.8 230.2 285.3 238.8 288.1 250.2 288.2 250.8 287.8 255.0 287.6 256.2 287.2 256.9 286.8 257.0 279.8 250.0 276.8 247.4 270.4 239.8 260.2 226.6 259.7 225.8 256.1 218.8 251.0 209.8 245.6 201.8 241.5 194.8 235.5 185.2 228.8 175.9 216.5 161.2 213.0 157.8 207.8 154.2 199.8 149.9 193.8 147.6 184.8 145.4 176.2 142.9 171.2 142.5 169.8 142.7 166.8 142.5 165.8 142.6 162.2 142.3 155.2 142.9 148.8 142.9 144.8 142.6 144.3 142.2 150.2 137.8 157.2 133.5 163.8 130.8 172.2 127.7 175.8 126.5 188.2 123.8 195.8 123.5 196.2 123.3 199.4 123.2ZM620.8 278.2 621.8 277.9 621.9 278.2 618.4 283.2 616.3 285.8 614.3 287.8 610.8 290.7 593.8 303.6 581.2 312.5 573.3 317.7 560.8 323.4 549.8 329.3 535.8 334.4 514.4 343.2 501.8 346.2 489.8 348.2 488.8 348.7 488.2 349.2 487.9 350.2 487.8 367.8 468.3 366.9 456.7 365.8 451.8 364.8 449.0 363.8 447.4 362.8 446.1 361.2 446.5 360.2 447.4 359.2 449.2 357.9 451.8 356.8 462.2 353.1 472.2 350.3 477.8 349.0 493.2 343.7 502.2 340.9 514.2 335.6 530.8 328.8 541.8 325.3 548.1 321.2 557.5 315.8 566.5 311.2 572.7 307.8 581.2 303.3 586.2 300.4 595.8 294.1 600.2 290.7 608.2 285.2 614.8 281.3 620.6 278.2Z" fill="#fa9d62"/><path d="M192.2 123.7 195.8 123.7 196.8 123.4 205.2 123.4 206.8 123.6 211.8 123.6 212.8 123.9 221.8 124.2 231.8 128.8 239.1 134.8 243.9 140.8 248.8 147.9 251.2 155.2 255.8 163.8 261.2 175.0 265.1 185.2 270.4 202.2 279.2 220.2 283.1 232.2 286.1 243.2 287.5 250.8 286.8 255.5 283.2 252.6 280.2 249.8 277.2 247.2 276.2 246.2 267.9 236.2 259.8 225.8 256.0 218.2 251.2 209.8 245.8 201.8 241.7 194.8 236.1 185.8 228.9 175.8 216.7 161.2 213.2 157.7 207.8 154.0 199.8 149.7 193.8 147.4 184.8 145.2 176.2 142.7 170.8 142.2 169.8 142.3 166.8 142.1 165.8 142.2 162.2 141.8 157.8 142.0 153.8 141.9 149.8 141.4 148.9 141.2 148.8 141.0 148.7 140.8 150.8 138.9 156.5 134.8 158.2 133.8 161.8 132.2 167.8 129.8 175.8 126.8 186.8 124.3 188.2 124.0 191.8 123.9 192.2 123.8ZM615.8 282.7 616.5 282.8 616.4 283.2 614.2 286.3 610.6 289.8 605.7 293.8 593.6 303.2 581.1 312.2 572.5 317.8 560.2 323.3 549.2 329.2 535.8 334.0 514.2 342.9 501.8 345.7 489.8 347.6 488.8 348.0 487.8 348.9 487.2 350.2 487.2 366.8 486.8 367.2 473.2 366.2 469.0 365.8 464.2 364.9 461.8 364.2 459.4 363.2 458.1 362.2 457.0 360.8 456.9 360.2 457.3 359.2 459.0 357.2 461.2 355.8 465.2 353.8 471.2 351.7 478.2 349.7 489.0 345.8 503.2 341.0 514.2 336.0 530.8 329.2 542.2 325.5 546.8 322.5 557.8 316.0 566.8 311.5 572.8 308.1 581.2 303.7 587.8 299.9 595.8 294.6 600.8 290.9 607.8 286.4 612.2 284.0 615.6 282.8Z" fill="#fa995c"/><path d="M196.2 123.7 205.2 123.6 206.8 123.8 211.8 123.8 212.7 124.1 216.8 124.1 217.8 124.4 221.8 124.4 222.2 124.6 231.4 128.8 232.8 129.7 238.9 134.8 244.4 141.8 248.7 148.2 251.0 155.2 255.8 164.0 261.2 175.2 264.9 185.2 270.5 202.8 278.9 220.2 283.0 232.8 285.5 242.8 286.7 250.8 286.2 253.0 286.1 253.2 285.8 253.4 283.8 251.9 277.8 247.1 276.4 245.8 269.4 237.8 261.2 227.3 259.8 225.2 256.2 218.2 251.2 209.5 246.1 201.8 236.3 185.8 229.1 175.8 216.8 161.1 213.2 157.5 207.8 153.8 201.3 150.2 199.8 149.5 193.8 147.2 185.8 145.2 175.8 142.3 170.8 141.8 169.8 142.0 166.8 141.6 165.8 141.7 162.2 141.2 157.2 141.0 153.2 140.3 152.3 139.8 154.8 137.3 158.2 134.7 165.8 131.1 175.8 127.1 188.2 124.2 196.0 123.8ZM610.8 286.7 611.4 286.8 609.8 288.9 602.2 295.8 593.2 302.8 577.2 314.3 572.6 317.2 558.2 323.9 549.3 328.8 536.8 333.1 514.2 342.3 500.2 345.4 490.2 346.8 489.2 346.9 488.6 346.8 489.8 346.5 491.3 345.8 496.7 343.8 503.2 341.6 514.8 336.3 530.8 329.7 542.2 325.9 547.0 322.8 558.0 316.2 566.8 312.0 573.2 308.3 581.8 304.0 587.8 300.5 596.2 294.9 599.8 292.3 604.8 289.3 608.2 287.5 610.6 286.8ZM487.8 347.1 488.3 347.2 487.8 347.5 487.1 348.2 486.5 349.2 486.3 350.2 486.2 366.3 477.8 365.2 473.3 364.2 471.9 363.8 469.9 362.8 468.4 361.2 467.5 359.2 467.9 358.2 469.0 356.2 470.7 354.8 472.8 353.4 475.2 352.2 487.4 347.2Z" fill="#f99457"/><path d="M202.8 123.7 205.2 123.7 206.8 124.0 211.8 124.0 212.8 124.2 216.8 124.3 217.8 124.6 221.8 124.6 231.2 128.9 238.8 134.9 243.7 141.2 248.2 147.8 248.7 148.8 250.8 155.2 255.8 164.3 261.0 175.2 265.0 186.2 270.3 202.8 278.7 220.2 282.1 230.8 284.2 239.2 284.9 242.8 285.4 246.8 285.6 250.8 285.5 251.2 285.2 251.5 283.2 250.3 278.2 246.8 276.8 245.4 269.8 237.7 260.6 226.3 259.7 224.8 256.4 218.2 251.3 209.2 245.9 201.2 241.8 194.2 235.8 184.8 229.3 175.8 216.8 160.8 213.3 157.2 207.8 153.5 201.7 150.2 194.8 147.3 184.8 144.7 176.2 142.1 170.8 141.4 169.8 141.5 166.8 141.1 165.2 141.0 162.2 140.4 158.2 139.8 156.3 139.2 155.6 138.8 158.2 135.9 162.2 133.4 167.8 130.7 175.8 127.5 188.2 124.4 195.8 124.0 196.8 123.8 202.5 123.8ZM604.2 291.2 605.2 291.0 605.4 291.2 601.5 295.2 599.2 297.2 592.8 302.3 580.7 311.2 572.5 316.8 558.2 323.4 549.2 328.3 536.8 332.5 515.1 341.2 513.8 341.7 501.2 344.4 497.8 344.9 496.7 344.8 497.8 344.5 499.2 343.8 503.8 342.2 514.8 337.1 531.2 330.1 542.2 326.5 547.2 323.2 558.0 316.8 566.8 312.5 573.2 308.9 581.8 304.7 590.8 299.4 600.2 293.1 601.8 292.2 604.1 291.2ZM483.8 351.0 483.9 351.2 483.9 363.8 483.7 363.9 481.2 362.8 479.9 361.8 478.9 360.2 478.4 358.2 478.8 356.2 480.0 354.2 481.9 352.2 483.3 351.2Z" fill="#f99051"/><path d="M195.2 124.2 196.8 124.0 205.2 123.9 206.2 124.1 211.7 124.2 212.8 124.4 221.8 124.8 231.4 129.2 238.8 135.2 243.6 141.2 248.3 148.2 250.6 155.2 255.7 164.7 260.8 175.2 264.9 186.2 270.1 202.8 278.5 220.2 281.8 230.8 283.7 239.2 284.4 244.8 284.4 247.2 284.2 249.3 282.8 248.7 278.6 246.2 275.8 243.7 272.8 240.6 268.4 235.8 260.8 226.1 259.8 224.5 256.6 218.3 251.5 209.2 246.1 201.2 242.0 194.2 236.0 184.8 229.5 175.8 217.0 160.8 213.6 157.2 208.2 153.6 201.8 150.0 194.8 147.1 183.8 144.2 176.2 141.8 165.1 140.2 160.3 138.8 159.1 138.2 158.6 137.8 160.6 135.8 164.2 133.2 170.1 130.2 175.8 127.8 181.2 126.3 188.2 124.6 194.8 124.2ZM598.2 296.1 598.4 296.2 598.2 296.3 598.1 296.2ZM597.2 296.7 597.5 296.8 597.2 296.8ZM596.8 297.0 597.1 297.2 589.8 303.3 578.8 311.7 571.9 316.2 557.8 322.9 548.7 327.8 536.2 331.9 514.8 340.3 513.3 340.8 509.2 341.5 508.8 341.5 508.5 341.2 515.2 337.9 531.2 331.0 542.8 327.0 547.8 323.6 558.3 317.2 567.2 313.0 573.8 309.5 582.2 305.4 588.8 301.9 596.3 297.2ZM507.8 341.7 508.1 341.8 507.6 341.8Z" fill="#f88a4b"/><path d="M202.2 124.2 211.8 124.5 212.8 124.7 216.8 124.8 217.8 125.1 221.8 125.2 230.8 129.3 232.2 130.3 238.3 135.2 243.2 141.4 247.9 148.2 250.3 155.2 255.2 164.2 260.5 175.2 264.5 186.2 269.8 202.8 278.3 220.8 280.8 228.8 282.4 236.8 282.8 239.8 282.9 243.8 282.7 245.8 282.3 246.2 279.8 245.4 278.2 244.5 273.2 240.2 267.3 233.8 260.9 225.8 251.8 209.2 246.5 201.2 242.3 194.2 236.2 184.6 229.5 175.2 217.2 160.6 213.8 157.0 208.2 153.2 200.2 149.0 194.2 146.7 183.8 143.8 176.2 141.2 168.6 139.8 165.2 138.6 163.1 137.2 162.9 136.8 164.8 134.8 168.2 132.2 174.0 129.2 178.8 127.5 188.2 125.0 191.8 124.8 192.8 124.6 195.8 124.6 196.8 124.3 202.0 124.2ZM574.3 311.7 574.8 311.8 574.2 312.0 574.2 312.2 571.6 314.2 568.9 315.8 560.2 320.3 557.2 321.6 548.2 326.1 547.8 326.1 547.7 325.8 549.8 324.3 559.4 318.2 574.2 311.8ZM547.2 326.1 547.7 326.2 547.1 326.2Z" fill="#f88343"/><path d="M196.8 124.7 205.2 124.5 206.2 124.8 211.2 124.8 221.8 125.6 230.8 129.7 232.2 130.8 238.2 135.7 243.1 141.8 247.8 148.8 250.0 155.2 254.9 164.2 260.1 175.2 264.0 185.8 269.4 202.8 277.9 220.8 279.7 226.8 281.1 233.2 281.5 237.2 281.5 240.2 281.2 242.8 280.8 243.6 279.2 243.2 277.2 242.2 275.2 240.8 272.2 238.3 267.8 233.7 261.2 225.8 260.2 224.3 256.9 217.8 252.2 209.2 246.8 201.1 242.7 194.2 236.4 184.2 229.9 175.2 220.4 163.8 217.4 160.2 214.0 156.8 208.2 152.8 200.2 148.6 194.2 146.3 183.5 143.2 176.2 140.5 173.2 139.8 169.2 138.5 167.3 137.2 166.4 136.2 168.6 133.8 170.5 132.2 172.9 130.8 176.2 129.0 184.2 126.4 188.2 125.4 196.4 124.8Z" fill="#f77c3d"/><path d="M196.2 125.2 196.8 125.0 205.2 124.9 206.2 125.1 211.2 125.2 221.8 126.0 230.8 130.2 231.8 130.9 237.8 135.8 242.8 141.9 247.4 148.8 249.9 155.8 254.8 164.7 260.0 175.8 263.7 185.8 269.1 202.8 277.5 220.8 279.2 227.0 280.0 231.2 280.3 234.2 280.2 237.8 280.0 239.2 279.5 240.8 279.2 240.9 278.8 240.8 276.2 239.9 274.3 238.8 271.2 236.4 266.6 231.8 261.2 225.2 252.3 208.8 246.9 200.8 242.7 193.8 236.8 184.2 230.2 175.2 220.8 163.6 214.2 156.4 208.8 152.6 200.8 148.4 195.2 146.3 185.0 143.2 180.2 141.5 172.7 138.2 171.1 137.2 169.6 135.8 171.1 133.8 173.2 131.9 176.2 130.0 178.8 128.9 184.2 126.9 188.8 125.7 195.8 125.2Z" fill="#f77637"/><path d="M193.2 125.7 195.8 125.7 197.2 125.4 205.2 125.3 206.2 125.5 211.2 125.6 221.2 126.3 225.2 128.0 230.2 130.4 231.4 131.2 237.5 136.2 242.4 142.2 246.9 148.8 249.5 155.8 254.4 164.8 259.6 175.8 263.3 185.8 268.9 203.2 277.0 220.8 278.3 225.2 279.1 230.2 279.1 234.8 278.2 238.3 277.2 238.4 275.2 237.8 273.2 236.8 271.2 235.4 268.8 233.2 266.8 231.2 261.3 224.8 252.7 208.8 247.2 200.7 243.2 193.8 237.5 184.8 230.3 174.8 220.9 163.2 214.2 155.8 208.8 152.1 200.8 148.0 195.2 145.9 184.2 142.5 180.1 140.8 174.2 137.2 173.1 136.2 172.5 135.2 173.5 133.8 174.9 132.2 176.8 130.9 179.2 129.6 184.2 127.5 187.2 126.5 188.8 126.2 192.8 125.8Z" fill="#f66f31"/><path d="M202.2 125.7 204.8 125.7 206.2 125.9 211.2 126.0 221.2 126.8 225.2 128.5 230.2 131.0 237.2 136.7 241.8 142.2 246.4 148.8 246.7 149.2 249.1 155.8 254.0 164.8 259.1 175.8 263.2 186.8 268.5 203.2 276.6 221.2 277.6 225.2 278.1 229.8 278.0 232.2 277.6 234.2 277.1 235.8 276.8 236.1 275.2 236.0 273.8 235.6 272.2 234.9 270.2 233.5 267.2 230.9 261.8 224.6 260.8 223.1 257.8 217.2 252.8 208.2 247.4 200.2 243.6 193.8 237.3 183.8 230.8 174.7 221.5 163.2 214.8 155.6 213.8 154.8 209.0 151.8 200.8 147.5 190.2 143.7 185.2 142.2 181.8 140.8 179.8 139.6 177.9 138.2 176.3 136.8 175.2 135.2 175.2 134.8 176.2 133.2 178.5 131.2 181.8 129.4 187.2 127.1 188.8 126.7 193.2 126.2 202.2 125.8Z" fill="#f5682d"/><path d="M201.8 126.2 204.8 126.1 206.2 126.4 211.2 126.5 221.2 127.4 224.8 128.9 229.8 131.4 234.1 134.8 237.0 137.2 241.6 142.8 246.2 149.2 248.6 155.8 253.8 165.2 256.2 170.3 258.8 176.0 262.7 186.8 268.0 203.2 276.0 221.2 276.8 224.2 277.1 228.2 276.8 231.3 276.2 233.1 275.8 234.0 274.2 234.1 273.2 233.9 271.8 233.3 269.8 232.2 266.4 229.2 262.0 224.2 260.8 222.2 258.3 217.2 253.3 208.2 247.9 200.2 243.8 193.2 237.8 183.7 231.0 174.2 221.7 162.8 214.8 154.8 209.2 151.3 201.2 147.2 190.8 143.3 185.8 141.8 183.5 140.8 181.8 139.7 179.8 138.2 178.5 136.8 177.7 135.2 177.5 134.8 178.0 133.8 180.0 131.8 183.1 129.8 187.2 127.8 188.8 127.2 193.2 126.7 201.3 126.2Z" fill="#f46029"/><path d="M202.2 126.7 204.8 126.7 206.2 126.9 211.2 127.0 220.8 127.9 224.8 129.5 229.8 132.1 236.2 137.3 241.2 143.2 245.1 148.8 245.8 149.7 248.4 156.2 253.3 165.2 255.7 170.2 258.3 176.3 262.2 186.9 267.7 203.8 272.2 213.8 275.3 221.2 275.9 223.8 276.1 226.8 275.8 229.4 274.8 232.0 273.8 232.2 272.2 232.1 270.8 231.6 268.8 230.4 266.8 228.8 262.2 223.8 261.2 222.2 258.7 217.2 253.2 207.2 248.2 199.9 238.7 184.2 231.2 173.9 223.6 164.2 215.2 154.4 209.5 150.8 201.2 146.6 192.8 143.6 191.2 142.8 186.8 141.3 184.8 140.4 182.8 139.2 181.7 138.2 180.8 137.2 179.9 135.8 179.6 134.8 180.2 133.8 181.2 132.5 183.8 130.6 187.8 128.4 189.6 127.8 193.2 127.3 202.2 126.8Z" fill="#f35926"/><path d="M204.2 127.2 206.2 127.5 211.2 127.6 220.7 128.6 222.8 129.3 229.2 132.7 234.8 136.9 236.7 138.8 240.8 143.7 245.1 149.8 247.8 156.2 251.5 162.8 255.2 170.4 257.7 176.2 261.8 187.2 267.2 203.8 271.8 214.2 274.5 221.2 275.1 224.2 275.1 226.2 274.4 228.8 273.8 230.2 272.8 230.4 271.2 230.4 268.8 229.4 266.8 227.8 262.8 223.6 261.4 221.8 258.8 216.4 253.5 206.8 248.7 199.8 239.7 184.8 231.8 173.8 224.0 163.8 217.8 156.6 215.8 153.9 209.8 150.1 201.8 146.2 194.2 143.5 191.8 142.3 186.2 140.2 184.6 139.2 183.4 138.2 182.1 136.2 181.7 134.8 182.7 133.2 185.2 130.9 188.8 128.8 190.2 128.3 193.2 127.9 197.2 127.5 204.2 127.2Z" fill="#f35124"/><path d="M197.2 128.2 204.8 127.8 206.2 128.1 210.8 128.2 220.2 129.3 222.2 129.9 228.8 133.3 232.8 136.3 236.1 139.2 240.2 144.3 244.5 150.2 247.7 157.2 250.9 162.2 254.6 170.2 257.2 176.6 261.1 187.2 266.7 204.2 271.0 214.2 273.8 221.8 274.1 223.8 274.1 225.2 273.4 227.2 272.8 228.5 270.8 228.8 269.8 228.7 268.2 228.0 266.2 226.4 261.8 221.8 254.2 206.8 249.0 199.2 245.2 192.8 239.7 183.8 232.1 173.2 224.4 163.2 218.3 156.2 216.7 153.8 215.2 152.6 210.2 149.5 201.8 145.5 195.2 143.2 192.2 141.6 187.4 139.8 185.8 138.8 184.7 137.8 183.9 136.2 183.6 134.8 185.1 132.8 187.8 130.5 189.2 129.5 190.8 129.0 197.1 128.2Z" fill="#f24824"/><path d="M201.8 128.7 204.8 128.6 206.2 128.8 212.8 129.1 220.2 130.1 222.8 131.1 228.5 134.2 234.9 139.2 239.6 144.8 243.3 149.8 246.2 155.2 250.4 161.8 254.5 170.8 255.8 174.8 260.4 187.2 265.2 201.8 270.8 215.6 272.9 221.8 273.1 223.2 272.9 224.8 272.2 226.3 271.8 226.9 269.8 227.3 268.2 226.9 267.2 226.3 264.6 223.8 262.0 221.8 257.5 212.8 254.2 205.7 249.0 198.8 245.4 192.2 240.8 184.6 233.8 174.8 224.9 162.8 218.9 155.8 217.2 152.9 210.2 148.6 202.2 144.9 195.2 142.4 192.8 140.9 187.7 138.8 186.5 137.8 185.8 136.8 185.4 135.2 185.8 134.3 187.5 132.2 190.0 130.2 191.3 129.8 193.8 129.4 201.7 128.8Z" fill="#f13f24"/><path d="M199.8 129.7 204.8 129.3 208.8 129.4 209.2 129.7 212.8 129.8 220.2 131.1 221.8 131.6 228.2 135.2 234.6 140.2 238.8 145.2 242.6 150.2 244.1 152.8 245.6 154.8 250.2 161.9 254.2 170.8 257.2 180.8 257.9 182.2 258.7 184.8 260.9 190.2 263.7 198.8 265.5 203.2 267.4 208.8 267.7 210.2 268.1 210.8 270.3 216.8 271.8 221.8 272.0 222.8 271.9 223.8 271.1 225.2 269.2 225.9 268.2 225.8 267.2 225.2 266.2 224.2 262.2 221.7 257.5 212.2 254.4 205.2 253.0 203.8 249.2 198.7 245.7 192.2 240.2 183.2 229.7 168.8 227.3 164.8 225.6 162.2 219.5 155.2 218.1 152.2 210.8 147.8 202.2 144.0 198.2 142.5 196.2 142.1 193.8 140.3 188.2 137.8 187.4 136.8 187.1 135.8 187.3 134.8 188.8 132.9 190.8 131.1 192.2 130.5 199.3 129.8Z" fill="#f13727"/><path d="M204.7 129.7 208.8 129.8 209.2 130.1 212.2 130.1 217.8 131.5 218.2 131.8 219.8 132.0 221.2 132.4 226.8 135.6 231.2 138.8 234.2 141.4 238.5 146.2 238.7 146.8 240.9 149.2 241.1 149.8 243.2 152.2 243.5 152.8 245.6 155.2 250.2 162.2 254.3 171.8 254.9 174.2 255.7 176.2 255.9 177.8 256.9 180.8 259.7 187.8 261.4 193.2 262.2 194.8 263.4 198.8 265.6 204.2 266.6 207.2 270.7 221.8 270.9 222.8 270.2 223.9 268.2 224.9 267.8 224.9 263.2 222.1 262.2 221.3 257.9 212.8 257.7 211.8 254.6 205.2 253.3 203.8 253.1 203.2 251.8 201.8 251.6 201.2 250.3 199.8 250.1 199.2 249.3 198.2 247.1 194.2 246.4 193.2 245.1 190.8 244.4 189.8 240.6 183.2 239.4 181.8 238.3 180.2 238.1 179.8 235.8 176.8 235.6 176.2 233.3 173.2 233.1 172.8 229.4 167.8 227.0 163.8 226.1 162.2 225.2 161.2 225.0 160.8 220.2 155.2 219.6 152.8 219.2 151.8 211.2 146.9 209.2 146.1 208.8 145.8 207.8 145.6 207.3 145.2 198.2 142.0 196.2 141.7 195.7 141.2 194.8 139.7 189.2 137.0 188.8 136.2 188.9 135.2 189.5 134.2 192.2 131.4 193.8 131.3 194.2 131.0 197.2 130.8 197.8 130.5 199.2 130.5 204.6 129.8Z" fill="#f02f2a"/><path d="M203.2 130.0 208.8 130.0 209.2 130.4 212.2 130.4 214.8 131.0 215.2 131.4 216.8 131.5 218.8 132.3 220.2 132.5 220.8 132.8 221.8 133.0 224.2 134.8 224.8 134.9 225.8 135.8 226.2 135.9 227.2 136.8 227.8 136.9 228.8 137.8 229.2 137.9 230.8 139.3 231.2 139.4 233.2 141.3 233.8 141.4 234.6 142.2 234.8 142.8 238.1 146.2 238.2 146.8 240.6 149.2 240.8 149.8 243.1 152.2 243.2 152.8 245.5 155.2 245.6 155.8 246.5 156.8 246.6 157.2 249.5 161.2 251.5 165.2 251.6 166.2 253.0 168.8 253.1 169.8 254.0 171.2 254.1 172.2 254.5 172.8 254.7 174.2 255.5 176.2 255.7 177.8 256.0 178.2 256.2 179.2 256.5 179.8 256.7 180.8 257.0 181.2 257.2 182.2 258.0 183.8 258.7 186.2 259.5 187.8 260.2 190.2 260.5 190.8 260.7 191.8 261.0 192.2 261.2 193.2 262.0 194.8 262.2 195.8 262.5 196.2 262.6 197.2 263.0 197.8 263.6 200.2 264.5 201.8 264.6 202.8 265.4 204.2 265.6 205.2 266.4 207.2 266.6 208.8 267.5 210.8 267.6 212.2 268.5 214.2 269.2 217.8 269.5 218.2 269.7 220.2 270.0 220.8 270.1 222.8 268.2 224.5 267.8 224.5 265.8 223.5 264.8 222.6 263.2 221.9 262.2 221.0 258.1 212.8 257.9 211.8 256.6 209.2 256.4 208.2 256.0 207.8 254.9 205.2 253.5 203.8 253.4 203.2 252.0 201.8 251.9 201.2 250.5 199.8 250.4 199.2 249.5 198.2 249.3 197.8 248.5 196.8 247.3 194.2 246.5 193.2 245.4 190.8 244.5 189.8 243.9 188.2 243.0 187.2 242.2 185.6 241.5 184.8 240.9 183.2 239.5 181.8 239.4 181.2 238.5 180.2 238.4 179.8 237.0 178.2 236.9 177.8 236.0 176.8 235.9 176.2 234.5 174.8 234.4 174.2 233.5 173.2 233.4 172.8 231.0 169.8 230.9 169.2 229.5 167.8 228.9 166.2 228.0 165.2 227.4 163.8 226.5 162.8 226.4 162.2 225.5 161.2 225.4 160.8 222.8 158.0 222.4 157.2 220.5 155.2 220.3 154.2 220.0 153.8 219.8 151.2 218.2 150.6 217.2 149.7 215.8 149.1 215.2 148.7 214.8 148.5 213.8 147.7 213.2 147.6 210.8 146.2 209.8 146.0 208.2 145.2 204.2 144.0 202.8 143.1 201.8 143.0 201.2 142.6 200.2 142.5 198.2 141.6 196.2 141.5 194.8 139.2 193.2 138.5 192.2 137.7 190.8 137.1 189.9 136.2 189.9 135.8 190.3 135.2 190.4 134.8 191.3 133.8 191.9 132.2 192.8 131.5 195.8 131.4 196.2 131.0 199.2 130.9 199.8 130.5 202.9 130.2Z" fill="#f0272e"/><path d="M201.8 130.6 202.8 130.6 203.2 130.3 208.2 130.3 208.8 130.3 209.2 130.6 212.2 130.6 214.8 131.3 215.2 131.6 216.8 131.7 217.2 132.1 218.3 132.2 218.8 132.6 220.2 132.7 220.8 133.1 221.8 133.2 222.8 134.1 223.2 134.2 224.2 135.1 224.8 135.2 225.8 136.1 226.3 136.2 227.2 137.1 227.8 137.2 228.8 138.0 229.2 138.1 230.8 139.5 231.2 139.6 233.2 141.5 233.8 141.6 234.4 142.2 234.8 143.0 237.9 146.2 238.2 147.0 240.4 149.2 240.8 150.0 242.9 152.2 243.2 153.1 245.3 155.2 245.4 155.8 246.3 156.8 246.4 157.2 247.3 158.2 247.4 158.8 248.3 159.8 248.4 160.2 249.3 161.2 249.4 161.8 249.8 162.2 250.9 164.8 251.3 165.2 251.5 166.2 252.8 168.8 253.0 169.8 253.8 171.2 254.0 172.2 254.3 172.8 254.5 174.2 255.3 176.2 255.5 177.8 256.3 179.8 257.0 182.2 257.8 183.8 258.5 186.2 259.3 187.8 260.0 190.2 260.8 192.2 261.0 193.2 261.8 194.8 262.5 197.2 262.8 197.8 263.0 198.8 263.3 199.2 263.4 200.2 264.3 201.8 264.4 202.8 265.3 204.2 265.4 205.2 265.7 205.8 265.9 206.8 266.2 207.2 266.4 208.8 266.7 209.2 266.9 210.2 267.2 210.8 267.4 212.2 267.7 212.8 267.9 213.8 268.2 214.2 268.4 215.8 268.7 216.2 268.9 217.8 269.2 218.2 269.4 220.2 269.7 220.8 269.9 222.2 269.8 222.7 268.2 224.2 267.8 224.2 266.2 223.3 265.8 223.2 264.8 222.4 264.3 222.2 263.8 221.8 263.2 221.7 262.3 220.8 261.7 219.2 261.3 218.8 261.2 218.2 260.8 217.8 260.7 217.2 260.3 216.8 260.2 216.2 259.8 215.8 259.7 215.2 258.8 213.8 258.7 213.2 258.3 212.8 258.1 211.7 257.3 210.2 257.2 209.8 256.7 209.2 256.6 208.2 255.7 206.8 255.7 206.2 255.2 205.8 255.1 205.2 253.7 203.8 253.5 203.2 252.2 201.8 252.0 201.2 250.6 199.8 250.5 199.2 249.6 198.2 249.2 197.4 248.7 196.8 247.5 194.2 246.7 193.2 245.5 190.8 244.7 189.8 244.6 189.2 243.7 187.9 243.2 187.2 242.5 185.8 241.7 184.8 241.0 183.2 239.7 181.8 239.6 181.2 238.7 180.2 238.5 179.8 237.2 178.2 237.1 177.7 236.2 176.8 236.1 176.2 234.7 174.8 234.6 174.2 233.7 173.2 233.6 172.8 232.2 171.2 232.1 170.8 231.2 169.8 231.1 169.2 229.7 167.8 229.6 167.2 228.2 165.2 228.1 164.8 226.7 162.8 226.6 162.2 225.7 161.2 225.2 160.4 222.7 157.8 222.6 157.2 220.7 155.2 220.5 154.2 220.2 153.8 220.0 151.2 218.8 150.4 218.2 150.3 217.2 149.5 215.8 148.8 215.2 148.4 214.8 148.3 213.8 147.4 210.8 145.9 209.8 145.8 209.2 145.3 208.2 144.9 207.2 144.7 206.8 144.4 205.8 144.2 204.8 143.7 204.2 143.7 202.8 142.9 201.8 142.7 201.2 142.4 200.3 142.2 199.2 141.7 198.8 141.7 198.2 141.4 196.2 141.2 196.1 140.8 195.3 139.8 195.2 139.2 193.8 138.3 193.2 138.2 191.2 136.8 190.8 136.7 190.3 136.2 190.3 135.8 190.7 135.2 190.8 134.8 191.6 133.8 192.3 132.2 192.8 131.8 195.8 131.6 196.2 131.3 199.2 131.1 199.8 130.8 201.3 130.8Z" fill="#f22131"/><path d="M203.8 130.7 208.2 130.7 209.2 130.9 212.2 131.0 221.7 133.8 229.2 138.4 233.8 141.9 234.7 143.2 237.6 146.2 238.2 147.2 245.0 155.2 249.8 162.5 253.6 171.2 256.2 180.2 257.6 183.8 258.4 186.2 259.1 187.8 260.9 193.2 261.5 194.8 262.9 199.2 264.6 203.8 266.0 208.2 268.0 215.2 269.5 222.2 268.2 223.6 267.8 223.8 267.2 223.5 263.5 221.2 262.8 220.5 258.6 212.2 255.2 204.8 253.8 203.3 249.8 198.2 241.8 184.1 230.2 167.8 226.7 161.8 220.8 154.8 220.2 151.2 218.9 150.2 211.2 145.7 200.2 141.6 198.8 141.1 196.6 140.8 195.2 138.8 191.0 136.2 190.9 135.8 192.8 132.2 195.8 131.9 196.2 131.7 199.8 131.4 203.6 130.8Z" fill="#f41c35"/><path d="M203.8 131.1 208.2 131.1 208.8 131.4 211.8 131.4 220.8 133.7 223.8 135.4 229.8 139.1 233.7 142.2 237.7 146.8 244.7 155.2 249.3 162.2 253.3 171.2 255.8 179.7 259.9 190.8 266.1 210.2 267.4 214.8 268.9 221.2 268.9 222.2 268.2 222.9 267.8 223.2 263.8 220.9 263.1 220.2 255.6 204.8 254.1 203.2 250.0 198.2 241.8 183.8 231.0 168.2 227.1 161.8 221.2 154.8 220.9 153.8 220.7 152.2 220.2 150.9 211.2 145.2 200.2 141.1 196.8 140.2 195.8 138.8 195.3 138.2 191.4 135.8 193.2 132.6 203.5 131.2Z" fill="#f31738"/><path d="M203.8 131.7 207.7 131.6 208.8 131.9 211.8 131.9 216.8 133.3 220.8 134.1 226.8 137.5 229.8 139.4 233.8 142.6 234.1 143.2 238.7 148.2 245.1 156.2 249.2 162.7 253.1 171.2 256.0 181.2 259.7 190.8 261.2 195.2 262.2 199.2 265.1 208.8 267.1 215.8 268.1 220.2 268.4 221.8 268.2 222.2 267.8 222.7 263.8 220.2 263.5 219.8 256.6 205.8 255.6 204.2 254.5 203.2 250.3 198.2 241.5 182.8 230.7 167.2 227.2 161.2 221.6 154.8 220.5 150.8 211.8 144.9 199.8 140.4 197.2 139.9 195.8 138.0 192.2 135.8 192.2 135.2 193.4 133.2 203.6 131.8Z" fill="#ef133b"/><path d="M204.2 132.2 211.8 132.5 216.3 133.7 220.8 134.6 225.8 137.2 229.8 139.7 233.6 142.8 238.4 148.2 244.4 155.8 249.0 162.8 253.2 172.2 255.8 181.2 259.3 190.2 260.9 195.2 262.6 202.2 266.8 216.8 267.8 221.8 264.1 219.8 257.1 205.8 256.1 204.2 254.8 203.1 250.5 198.2 241.8 182.7 231.5 167.8 227.6 161.2 221.7 154.3 220.8 150.7 211.8 144.4 200.8 140.2 197.8 139.3 196.2 137.6 193.2 135.8 192.9 135.2 193.8 133.7 204.1 132.2Z" fill="#ec103d"/><path d="M202.2 133.2 204.2 132.9 207.8 132.9 208.7 133.1 211.8 133.2 216.2 134.3 220.8 135.0 225.8 137.5 228.8 139.3 233.2 142.8 238.1 148.2 244.2 155.8 248.8 162.8 252.9 172.2 255.6 181.2 259.0 190.2 260.7 195.2 262.5 203.8 265.8 215.8 266.8 220.4 266.2 220.3 264.6 219.2 259.4 208.8 257.4 205.2 256.2 203.8 254.9 202.8 253.2 201.1 250.5 197.8 241.8 182.2 231.3 166.8 227.7 160.9 222.1 154.2 221.4 151.8 220.8 150.3 212.2 144.0 207.2 141.8 200.8 139.5 198.1 138.8 196.8 137.2 193.7 135.2 194.2 134.4 195.2 134.1 202.1 133.2Z" fill="#e80c40"/><path d="M204.3 133.7 211.2 133.9 216.2 134.9 220.2 135.4 223.8 136.8 226.2 138.1 229.2 139.9 233.2 143.1 237.8 148.2 243.9 155.8 248.7 163.2 252.6 172.2 255.2 180.8 258.8 190.2 260.4 195.2 262.4 205.8 265.4 217.2 265.6 218.2 265.4 218.8 265.2 218.8 260.2 208.7 259.1 206.8 256.8 203.8 255.2 202.6 253.3 200.8 250.7 197.8 242.1 182.2 231.7 166.8 228.1 160.8 222.5 154.2 221.1 150.2 217.2 147.4 212.2 143.3 207.2 141.0 201.3 138.8 198.8 138.1 198.2 137.8 196.8 136.2 195.2 135.2 195.8 134.9 197.2 134.7 204.0 133.8Z" fill="#e30942"/><path d="M204.2 134.7 211.2 134.7 215.8 135.6 220.2 135.8 222.8 136.7 226.2 138.4 229.3 140.2 233.1 143.2 236.7 147.2 242.8 154.8 248.2 162.9 252.2 171.8 255.0 180.8 258.6 190.2 260.1 195.2 260.7 197.8 261.4 204.2 262.5 210.2 262.4 210.8 262.2 210.9 261.0 208.2 258.8 205.2 257.2 203.6 255.8 202.6 253.7 200.8 251.0 197.8 242.4 182.2 231.8 166.2 228.2 160.4 222.8 153.9 221.7 150.8 221.2 150.1 217.2 147.0 212.2 142.4 207.8 140.2 199.2 137.2 197.7 135.8 198.8 135.4 203.8 134.8ZM262.8 211.2 262.8 211.8 262.7 211.2Z" fill="#de0743"/><path d="M206.7 135.7 208.8 136.0 211.2 135.9 213.8 136.3 220.2 136.4 224.2 137.7 226.8 138.9 229.2 140.4 232.8 143.2 237.7 148.8 242.5 154.8 248.2 163.2 252.0 171.8 254.8 180.8 258.3 190.2 259.9 195.2 260.3 197.8 260.6 200.8 260.8 206.1 257.6 203.2 254.8 201.4 251.2 197.8 243.0 182.8 232.2 166.2 228.6 160.2 227.2 158.5 223.0 153.8 222.0 150.8 221.3 149.8 217.5 146.8 213.2 142.2 211.2 140.7 208.2 139.2 201.7 136.8 201.6 136.2 204.8 135.8 206.5 135.8Z" fill="#d80544"/><path d="M215.8 137.2 219.8 136.8 221.2 137.1 223.3 137.7 225.8 138.7 228.8 140.4 232.4 143.2 236.1 147.2 243.3 156.2 247.9 163.2 251.7 171.8 254.9 181.8 258.4 191.2 259.6 195.2 260.0 197.2 260.1 202.2 260.0 203.8 259.8 204.1 255.1 201.2 253.2 199.6 251.2 197.4 242.8 181.9 232.6 166.2 229.0 160.2 227.2 157.9 223.4 153.8 221.8 149.9 217.8 146.5 216.2 144.8 212.8 140.4 211.2 139.1 208.8 137.8 209.2 137.5 210.8 137.3 213.2 137.4 215.3 137.2Z" fill="#d20346"/><path d="M217.8 137.6 220.2 137.4 222.2 137.8 224.8 138.5 228.8 140.6 232.2 143.4 237.2 148.9 239.8 152.0 243.2 156.5 246.7 161.8 248.4 164.8 251.4 171.8 254.6 181.8 258.7 192.8 259.5 195.8 259.8 198.2 259.7 201.2 259.4 202.8 259.2 202.9 256.5 201.8 255.2 200.9 253.2 199.3 251.4 197.2 243.0 181.8 232.7 165.8 229.2 160.0 227.5 157.8 223.8 153.6 222.0 149.8 218.1 146.2 216.4 144.2 215.5 142.8 213.6 139.2 213.5 138.8 217.3 137.8Z" fill="#cd0247"/><path d="M218.2 138.2 219.8 137.9 221.2 138.0 224.8 138.8 227.2 140.0 228.8 140.9 232.2 143.7 237.2 149.2 240.8 153.8 243.1 156.8 247.0 162.8 248.1 164.8 251.2 172.0 254.4 181.8 258.8 193.8 259.3 195.8 259.5 198.2 259.2 201.2 259.1 201.8 258.8 202.1 256.8 201.4 255.2 200.5 253.6 199.2 251.6 197.2 243.6 182.2 229.5 159.8 227.8 157.4 223.9 153.2 222.2 149.7 218.5 146.2 217.0 144.2 216.0 142.2 215.2 139.8 215.5 139.2 218.0 138.2Z" fill="#c70048"/><path d="M218.7 138.6 220.2 138.4 221.8 138.5 223.8 138.8 225.2 139.3 228.2 140.9 231.8 143.8 235.7 147.8 238.2 150.8 242.8 156.8 246.7 162.8 247.8 164.8 251.1 172.2 254.2 181.8 258.2 192.9 259.0 195.8 259.1 197.2 259.1 199.2 258.6 201.2 258.2 201.4 257.2 201.2 254.8 199.8 252.9 198.2 251.8 197.0 243.9 182.2 229.9 159.8 228.0 157.2 224.3 153.2 222.9 150.2 222.2 149.3 219.8 147.1 218.2 145.2 217.0 143.2 216.5 141.8 216.3 140.2 216.5 139.8 218.5 138.8Z" fill="#bf0045"/><path d="M219.2 139.1 220.8 138.9 222.2 138.9 225.2 139.6 228.2 141.2 231.8 144.0 235.3 147.8 237.9 150.8 242.5 156.8 246.4 162.8 247.5 164.8 250.8 172.2 253.9 181.8 258.1 193.2 258.8 196.8 258.7 199.2 258.2 200.8 257.8 200.8 256.2 200.3 254.7 199.5 253.2 198.2 251.9 196.8 244.2 182.2 229.9 159.2 228.2 157.0 224.7 153.2 222.6 149.2 219.9 146.8 218.7 145.2 217.6 143.2 217.1 140.8 217.2 140.1 218.8 139.2Z" fill="#b80043"/><path d="M219.2 139.7 220.8 139.3 222.2 139.3 225.2 139.9 228.2 141.5 231.7 144.2 237.8 151.0 242.5 157.2 245.8 162.2 247.3 164.8 250.6 172.2 253.5 181.2 257.9 193.2 258.4 195.8 258.5 197.2 258.3 199.2 257.8 200.4 255.2 199.4 253.2 197.9 252.1 196.8 251.2 195.2 244.2 181.9 230.3 159.2 228.5 156.8 224.8 152.8 222.9 149.2 220.2 146.7 218.8 144.8 218.0 142.8 217.8 140.8 218.2 140.2 219.2 139.8Z" fill="#b00041"/><path d="M221.2 139.7 223.8 139.8 226.2 140.6 228.2 141.8 231.3 144.2 235.2 148.2 237.7 151.2 242.3 157.2 246.1 163.2 247.2 165.2 250.3 172.2 253.6 182.2 257.6 193.2 258.2 196.8 258.1 198.2 257.8 199.7 257.2 199.8 256.8 199.7 255.2 199.0 253.4 197.8 252.2 196.5 244.5 181.8 230.7 159.2 228.8 156.5 225.1 152.8 223.3 149.2 220.3 146.2 219.3 144.8 218.5 142.8 218.4 141.2 218.6 140.8 219.2 140.3 221.2 139.8Z" fill="#a9003f"/><path d="M221.2 140.2 223.8 140.2 226.2 140.9 227.8 141.8 231.2 144.5 234.8 148.2 237.4 151.2 241.9 157.2 245.8 163.2 246.9 165.2 250.0 172.2 253.3 182.2 257.4 193.2 257.9 196.8 257.6 198.8 257.2 199.4 255.8 198.9 254.7 198.4 253.3 197.2 252.4 196.2 244.8 181.8 236.4 167.8 230.8 158.8 228.9 156.2 225.5 152.8 223.6 149.2 220.7 146.2 220.0 145.2 219.1 143.2 219.0 141.2 219.8 140.7 220.9 140.2Z" fill="#a1003c"/><path d="M221.2 140.6 223.8 140.5 226.2 141.2 227.8 142.0 231.1 144.8 234.8 148.6 237.2 151.5 241.8 157.5 245.2 162.8 246.6 165.2 249.9 172.8 253.0 182.2 256.9 192.8 257.3 194.2 257.6 196.2 257.5 197.8 257.2 198.8 256.2 198.7 254.8 198.0 252.7 196.2 251.8 194.8 245.1 181.8 236.8 167.8 231.1 158.8 229.2 156.1 225.9 152.8 223.9 149.2 220.4 145.2 219.6 143.2 219.4 141.8 219.8 141.2 220.9 140.8Z" fill="#990038"/><path d="M221.3 141.1 223.2 140.8 225.8 141.3 227.8 142.4 230.8 144.8 235.9 150.2 241.6 157.8 245.2 163.3 246.3 165.2 249.6 172.8 252.8 182.2 256.8 193.1 257.3 196.2 257.1 197.8 256.8 198.4 255.3 197.9 254.3 197.3 252.8 195.8 245.1 181.2 237.2 167.7 231.5 158.8 229.4 155.8 226.2 152.6 223.9 148.8 220.8 145.2 220.1 143.8 219.9 142.2 220.1 141.8 220.9 141.2Z" fill="#910033"/><path d="M222.8 141.2 224.8 141.3 226.8 142.1 230.8 145.2 234.2 148.8 236.7 151.8 241.3 157.8 245.2 163.8 246.2 165.8 249.3 172.8 252.5 182.2 256.4 192.8 256.9 195.2 257.0 196.8 256.8 197.8 256.2 197.9 255.2 197.5 254.2 196.9 253.0 195.8 251.3 192.8 245.5 181.2 237.2 167.3 231.8 158.5 229.8 155.8 226.4 152.2 224.3 148.8 221.2 145.2 220.6 143.8 220.4 142.2 221.2 141.6 222.4 141.2Z" fill="#88002f"/><path d="M222.2 141.7 224.2 141.6 226.4 142.2 228.2 143.5 230.8 145.6 235.2 150.4 237.8 153.6 241.2 158.2 244.8 163.8 245.9 165.8 249.0 172.8 252.3 182.8 255.9 192.2 256.6 195.2 256.6 196.8 256.2 197.5 254.2 196.5 253.4 195.8 252.8 194.7 245.8 181.2 237.6 167.2 231.8 157.9 229.8 155.2 226.8 152.2 224.7 148.8 221.6 145.2 221.1 144.2 220.8 142.8 221.1 142.2 222.1 141.8Z" fill="#80002a"/><path d="M222.2 142.2 224.2 142.0 226.2 142.5 227.3 143.1 230.5 145.8 233.8 149.2 236.4 152.2 240.9 158.2 244.2 163.4 245.6 165.8 248.9 173.2 252.0 182.8 256.0 193.8 256.3 195.2 256.2 196.8 255.8 196.9 254.8 196.4 253.5 195.2 251.8 192.2 245.9 180.8 238.0 167.2 232.4 158.2 230.3 155.2 227.2 152.2 225.1 148.8 222.1 145.2 221.6 144.2 221.3 142.8 222.1 142.2Z" fill="#770025"/><path d="M222.2 142.7 223.2 142.4 224.2 142.3 225.9 142.8 227.2 143.5 230.2 146.0 233.4 149.2 235.9 152.2 240.8 158.6 244.1 163.8 245.2 165.8 248.5 173.2 251.7 182.8 255.7 193.8 255.9 195.2 255.7 196.4 254.2 195.6 253.2 194.2 246.3 180.8 238.1 166.8 232.5 157.8 230.7 155.2 227.3 151.8 225.1 148.2 222.5 145.2 221.8 143.8 221.8 143.2 222.1 142.8Z" fill="#700021"/><path d="M224.3 142.7 226.2 143.2 227.6 144.2 230.0 146.2 233.2 149.6 235.8 152.6 240.4 158.8 244.6 165.2 248.2 173.2 251.3 182.8 254.8 192.0 255.5 194.8 255.5 195.2 255.2 195.7 254.2 195.0 253.4 193.8 246.6 180.8 238.5 166.8 232.9 157.8 230.8 154.8 227.8 151.8 225.5 148.2 223.0 145.2 222.5 144.2 222.3 143.2 223.2 142.8 224.0 142.8Z" fill="#69001d"/><path d="M223.8 143.2 224.9 143.2 226.3 143.8 228.9 145.8 230.9 147.8 234.2 151.4 239.2 157.8 243.8 164.6 244.7 166.2 247.8 173.2 251.0 183.2 254.8 193.3 255.0 194.2 254.9 194.8 254.7 194.8 253.8 193.4 247.1 180.8 238.9 166.8 233.0 157.2 231.2 154.7 228.2 151.7 226.0 148.2 223.4 145.2 222.8 143.8 223.7 143.2Z" fill="#63001a"/><path d="M224.2 143.7 225.2 143.8 226.3 144.2 229.2 146.7 230.8 148.2 233.9 151.8 238.8 157.8 243.2 164.5 244.2 166.2 247.5 173.8 250.5 183.2 252.9 189.8 253.0 190.2 252.8 190.5 247.2 180.2 239.1 166.2 231.7 154.8 228.4 151.2 226.1 147.8 223.9 145.2 223.4 144.2 223.8 143.8 224.0 143.8ZM253.2 190.5 253.2 191.4 253.0 190.8Z" fill="#5c0016"/><path d="M224.2 144.6 224.8 144.3 226.0 144.8 228.8 147.0 230.2 148.5 238.4 158.2 242.2 163.9 243.8 166.4 247.0 173.8 249.8 183.2 249.9 183.8 249.8 184.0 249.5 183.2 249.2 183.1 247.5 179.8 239.5 166.2 233.6 156.8 231.9 154.2 228.9 151.2 226.7 147.8 224.2 144.8ZM250.2 184.2 250.2 184.9 250.2 184.2Z" fill="#550012"/><path d="M225.8 145.7 225.9 145.8 225.7 145.8ZM226.2 146.0 226.6 146.2 226.2 146.2ZM226.8 146.3 228.2 147.5 229.8 149.2 231.2 151.2 231.2 151.8 230.8 152.1 229.2 150.9 226.6 146.8ZM233.8 155.0 235.2 155.9 238.8 159.8 243.0 166.2 246.3 173.8 247.3 177.2 247.4 178.2 247.2 178.3 240.1 166.2 234.7 157.8 233.9 156.2 233.6 155.2Z" fill="#4f000f"/><path d="M238.8 162.3 242.3 166.8 243.9 170.8 244.1 171.2 243.8 171.5 240.6 166.2 240.5 165.8 238.8 163.2 238.7 162.8ZM244.2 171.6 244.5 172.2 244.2 172.4 244.2 171.8Z" fill="#4b000d"/></g>
<path d="M410.00 356.00 L436.02 355.02 L451.23 353.53 L463.89 351.75 L475.09 349.76 L485.29 347.59 L494.72 345.27 L503.54 342.81 L511.84 340.23 L519.68 337.53 L527.13 334.73 L534.22 331.84 L540.97 328.85 L547.43 325.78 L553.59 322.63 L559.49 319.41 L565.12 316.11 L570.52 312.75 L575.68 309.32 L580.61 305.83 L585.32 302.28 L589.81 298.68 L594.10 295.02 L598.18 291.32 L602.06 287.57 L605.75 283.77 L609.24 279.93 L612.54 276.06 L615.65 272.14 L618.57 268.19 L621.31 264.21 L623.87 260.20 L626.24 256.16 L628.44 252.09 L630.45 248.00 L632.29 243.89 L633.95 239.76 L635.43 235.61 L636.74 231.44 L637.87 227.26 L638.83 223.07 L639.61 218.87 L640.22 214.66 L640.65 210.44 L640.91 206.22 L641.00 202.00 L640.91 197.78 L640.65 193.56 L640.22 189.34 L639.61 185.13 L638.83 180.93 L637.87 176.74 L636.74 172.56 L635.43 168.39 L633.95 164.24 L632.29 160.11 L630.45 156.00 L628.44 151.91 L626.24 147.84 L623.87 143.80 L621.31 139.79 L618.57 135.81 L615.65 131.86 L612.54 127.94 L609.24 124.07 L605.75 120.23 L602.06 116.43 L598.18 112.68 L594.10 108.98 L589.81 105.32 L585.32 101.72 L580.61 98.17 L575.68 94.68 L570.52 91.25 L565.12 87.89 L559.49 84.59 L553.59 81.37 L547.43 78.22 L540.97 75.15 L534.22 72.16 L527.13 69.27 L519.68 66.47 L511.84 63.77 L503.54 61.19 L494.72 58.73 L485.29 56.41 L475.09 54.24 L463.89 52.25 L451.23 50.47 L436.02 48.98 L410.00 48.00 M410.00 356.00 L427.35 355.02 L437.48 353.53 L445.92 351.75 L453.39 349.76 L460.19 347.59 L466.48 345.27 L472.36 342.81 L477.89 340.23 L483.12 337.53 L488.09 334.73 L492.81 331.84 L497.32 328.85 L501.62 325.78 L505.73 322.63 L509.66 319.41 L513.42 316.11 L517.01 312.75 L520.45 309.32 L523.74 305.83 L526.88 302.28 L529.87 298.68 L532.73 295.02 L535.45 291.32 L538.04 287.57 L540.50 283.77 L542.83 279.93 L545.02 276.06 L547.10 272.14 L549.05 268.19 L550.87 264.21 L552.58 260.20 L554.16 256.16 L555.63 252.09 L556.97 248.00 L558.19 243.89 L559.30 239.76 L560.29 235.61 L561.16 231.44 L561.91 227.26 L562.55 223.07 L563.07 218.87 L563.48 214.66 L563.77 210.44 L563.94 206.22 L564.00 202.00 L563.94 197.78 L563.77 193.56 L563.48 189.34 L563.07 185.13 L562.55 180.93 L561.91 176.74 L561.16 172.56 L560.29 168.39 L559.30 164.24 L558.19 160.11 L556.97 156.00 L555.63 151.91 L554.16 147.84 L552.58 143.80 L550.87 139.79 L549.05 135.81 L547.10 131.86 L545.02 127.94 L542.83 124.07 L540.50 120.23 L538.04 116.43 L535.45 112.68 L532.73 108.98 L529.87 105.32 L526.88 101.72 L523.74 98.17 L520.45 94.68 L517.01 91.25 L513.42 87.89 L509.66 84.59 L505.73 81.37 L501.62 78.22 L497.32 75.15 L492.81 72.16 L488.09 69.27 L483.12 66.47 L477.89 63.77 L472.36 61.19 L466.48 58.73 L460.19 56.41 L453.39 54.24 L445.92 52.25 L437.48 50.47 L427.35 48.98 L410.00 48.00 M410.00 356.00 L418.67 355.02 L423.74 353.53 L427.96 351.75 L431.70 349.76 L435.10 347.59 L438.24 345.27 L441.18 342.81 L443.95 340.23 L446.56 337.53 L449.04 334.73 L451.41 331.84 L453.66 328.85 L455.81 325.78 L457.86 322.63 L459.83 319.41 L461.71 316.11 L463.51 312.75 L465.23 309.32 L466.87 305.83 L468.44 302.28 L469.94 298.68 L471.37 295.02 L472.73 291.32 L474.02 287.57 L475.25 283.77 L476.41 279.93 L477.51 276.06 L478.55 272.14 L479.52 268.19 L480.44 264.21 L481.29 260.20 L482.08 256.16 L482.81 252.09 L483.48 248.00 L484.10 243.89 L484.65 239.76 L485.14 235.61 L485.58 231.44 L485.96 227.26 L486.28 223.07 L486.54 218.87 L486.74 214.66 L486.88 210.44 L486.97 206.22 L487.00 202.00 L486.97 197.78 L486.88 193.56 L486.74 189.34 L486.54 185.13 L486.28 180.93 L485.96 176.74 L485.58 172.56 L485.14 168.39 L484.65 164.24 L484.10 160.11 L483.48 156.00 L482.81 151.91 L482.08 147.84 L481.29 143.80 L480.44 139.79 L479.52 135.81 L478.55 131.86 L477.51 127.94 L476.41 124.07 L475.25 120.23 L474.02 116.43 L472.73 112.68 L471.37 108.98 L469.94 105.32 L468.44 101.72 L466.87 98.17 L465.23 94.68 L463.51 91.25 L461.71 87.89 L459.83 84.59 L457.86 81.37 L455.81 78.22 L453.66 75.15 L451.41 72.16 L449.04 69.27 L446.56 66.47 L443.95 63.77 L441.18 61.19 L438.24 58.73 L435.10 56.41 L431.70 54.24 L427.96 52.25 L423.74 50.47 L418.67 48.98 L410.00 48.00 M410.5 40 V365 M410.00 356.00 L401.33 355.02 L396.26 353.53 L392.04 351.75 L388.30 349.76 L384.90 347.59 L381.76 345.27 L378.82 342.81 L376.05 340.23 L373.44 337.53 L370.96 334.73 L368.59 331.84 L366.34 328.85 L364.19 325.78 L362.14 322.63 L360.17 319.41 L358.29 316.11 L356.49 312.75 L354.77 309.32 L353.13 305.83 L351.56 302.28 L350.06 298.68 L348.63 295.02 L347.27 291.32 L345.98 287.57 L344.75 283.77 L343.59 279.93 L342.49 276.06 L341.45 272.14 L340.48 268.19 L339.56 264.21 L338.71 260.20 L337.92 256.16 L337.19 252.09 L336.52 248.00 L335.90 243.89 L335.35 239.76 L334.86 235.61 L334.42 231.44 L334.04 227.26 L333.72 223.07 L333.46 218.87 L333.26 214.66 L333.12 210.44 L333.03 206.22 L333.00 202.00 L333.03 197.78 L333.12 193.56 L333.26 189.34 L333.46 185.13 L333.72 180.93 L334.04 176.74 L334.42 172.56 L334.86 168.39 L335.35 164.24 L335.90 160.11 L336.52 156.00 L337.19 151.91 L337.92 147.84 L338.71 143.80 L339.56 139.79 L340.48 135.81 L341.45 131.86 L342.49 127.94 L343.59 124.07 L344.75 120.23 L345.98 116.43 L347.27 112.68 L348.63 108.98 L350.06 105.32 L351.56 101.72 L353.13 98.17 L354.77 94.68 L356.49 91.25 L358.29 87.89 L360.17 84.59 L362.14 81.37 L364.19 78.22 L366.34 75.15 L368.59 72.16 L370.96 69.27 L373.44 66.47 L376.05 63.77 L378.82 61.19 L381.76 58.73 L384.90 56.41 L388.30 54.24 L392.04 52.25 L396.26 50.47 L401.33 48.98 L410.00 48.00 M410.00 356.00 L392.65 355.02 L382.52 353.53 L374.08 351.75 L366.61 349.76 L359.81 347.59 L353.52 345.27 L347.64 342.81 L342.11 340.23 L336.88 337.53 L331.91 334.73 L327.19 331.84 L322.68 328.85 L318.38 325.78 L314.27 322.63 L310.34 319.41 L306.58 316.11 L302.99 312.75 L299.55 309.32 L296.26 305.83 L293.12 302.28 L290.13 298.68 L287.27 295.02 L284.55 291.32 L281.96 287.57 L279.50 283.77 L277.17 279.93 L274.98 276.06 L272.90 272.14 L270.95 268.19 L269.13 264.21 L267.42 260.20 L265.84 256.16 L264.37 252.09 L263.03 248.00 L261.81 243.89 L260.70 239.76 L259.71 235.61 L258.84 231.44 L258.09 227.26 L257.45 223.07 L256.93 218.87 L256.52 214.66 L256.23 210.44 L256.06 206.22 L256.00 202.00 L256.06 197.78 L256.23 193.56 L256.52 189.34 L256.93 185.13 L257.45 180.93 L258.09 176.74 L258.84 172.56 L259.71 168.39 L260.70 164.24 L261.81 160.11 L263.03 156.00 L264.37 151.91 L265.84 147.84 L267.42 143.80 L269.13 139.79 L270.95 135.81 L272.90 131.86 L274.98 127.94 L277.17 124.07 L279.50 120.23 L281.96 116.43 L284.55 112.68 L287.27 108.98 L290.13 105.32 L293.12 101.72 L296.26 98.17 L299.55 94.68 L302.99 91.25 L306.58 87.89 L310.34 84.59 L314.27 81.37 L318.38 78.22 L322.68 75.15 L327.19 72.16 L331.91 69.27 L336.88 66.47 L342.11 63.77 L347.64 61.19 L353.52 58.73 L359.81 56.41 L366.61 54.24 L374.08 52.25 L382.52 50.47 L392.65 48.98 L410.00 48.00 M410.00 356.00 L383.98 355.02 L368.77 353.53 L356.11 351.75 L344.91 349.76 L334.71 347.59 L325.28 345.27 L316.46 342.81 L308.16 340.23 L300.32 337.53 L292.87 334.73 L285.78 331.84 L279.03 328.85 L272.57 325.78 L266.41 322.63 L260.51 319.41 L254.88 316.11 L249.48 312.75 L244.32 309.32 L239.39 305.83 L234.68 302.28 L230.19 298.68 L225.90 295.02 L221.82 291.32 L217.94 287.57 L214.25 283.77 L210.76 279.93 L207.46 276.06 L204.35 272.14 L201.43 268.19 L198.69 264.21 L196.13 260.20 L193.76 256.16 L191.56 252.09 L189.55 248.00 L187.71 243.89 L186.05 239.76 L184.57 235.61 L183.26 231.44 L182.13 227.26 L181.17 223.07 L180.39 218.87 L179.78 214.66 L179.35 210.44 L179.09 206.22 L179.00 202.00 L179.09 197.78 L179.35 193.56 L179.78 189.34 L180.39 185.13 L181.17 180.93 L182.13 176.74 L183.26 172.56 L184.57 168.39 L186.05 164.24 L187.71 160.11 L189.55 156.00 L191.56 151.91 L193.76 147.84 L196.13 143.80 L198.69 139.79 L201.43 135.81 L204.35 131.86 L207.46 127.94 L210.76 124.07 L214.25 120.23 L217.94 116.43 L221.82 112.68 L225.90 108.98 L230.19 105.32 L234.68 101.72 L239.39 98.17 L244.32 94.68 L249.48 91.25 L254.88 87.89 L260.51 84.59 L266.41 81.37 L272.57 78.22 L279.03 75.15 L285.78 72.16 L292.87 69.27 L300.32 66.47 L308.16 63.77 L316.46 61.19 L325.28 58.73 L334.71 56.41 L344.91 54.24 L356.11 52.25 L368.77 50.47 L383.98 48.98 L410.00 48.00 M90 319.5 H730 M90 264.5 H730 M90 202.5 H730 M90 140.5 H730 M90 85.5 H730" fill="none" stroke="#b0b0b0" stroke-width="1.11" clip-path="url(#ec)"/>
<mask id="cm" maskUnits="userSpaceOnUse" x="0" y="0" width="800" height="400"><rect width="800" height="400" fill="#fff"/><rect x="188.8" y="116.3" width="23.0" height="11.0" transform="rotate(0 200.3 121.8)" fill="#000"/><rect x="224.1" y="168.5" width="23.0" height="11.0" transform="rotate(61 235.6 174.0)" fill="#000"/><rect x="630.0" y="245.7" width="23.0" height="11.0" transform="rotate(-43 641.5 251.2)" fill="#000"/><rect x="653.8" y="233.5" width="23.0" height="11.0" transform="rotate(-51 665.3 239.0)" fill="#000"/><rect x="363.8" y="343.9" width="23.0" height="11.0" transform="rotate(7 375.3 349.4)" fill="#000"/></mask>
<g mask="url(#cm)"><g clip-path="url(#ec)"><path d="M195.8 122.0 206.2 122.0 206.8 122.4 217.2 122.5 217.8 122.9 222.2 122.9 223.2 123.4 224.2 123.5 228.8 125.9 229.8 126.0 232.8 127.5 234.6 129.2 235.2 129.5 237.6 131.8 238.2 132.0 240.6 134.2 241.5 135.2 241.8 135.9 243.5 137.8 243.8 138.4 245.5 140.2 245.6 140.8 246.5 141.8 246.6 142.2 247.5 143.2 247.6 143.8 248.5 144.8 248.6 145.2 250.0 147.2 251.0 149.8 251.1 151.2 252.0 153.2 252.1 154.2 254.6 159.2 255.5 160.2 262.5 174.2 262.6 175.2 263.5 176.8 264.1 179.2 265.0 180.8 265.6 183.2 266.5 184.8 266.6 185.8 267.0 186.2 267.1 187.8 267.5 188.2 268.6 192.2 269.0 192.8 269.6 195.2 270.0 195.8 270.1 197.2 271.5 200.8 271.6 201.8 280.5 219.2 280.6 220.2 281.5 221.8 281.6 222.8 282.0 223.2 282.1 224.2 283.0 225.8 283.6 228.2 284.4 229.8 285.6 233.8 286.4 235.2 288.1 240.8 288.9 242.2 291.1 249.2 291.4 249.8 291.4 257.2 289.2 261.4 286.2 263.0 284.6 260.8 284.5 260.2 282.1 257.2 282.0 256.8 280.1 254.8 279.9 254.2 278.1 252.2 277.8 251.5 274.0 247.8 273.9 247.2 272.6 245.7 271.4 243.8 270.1 242.2 268.9 240.2 267.5 238.8 267.4 238.2 266.5 237.2 266.4 236.8 264.0 233.8 263.9 233.2 262.5 231.8 262.4 231.2 261.5 230.2 261.4 229.8 258.5 226.2 254.9 218.8 253.5 216.8 252.4 214.2 251.5 213.2 250.4 210.8 246.5 205.2 246.4 204.8 245.5 203.8 245.4 203.2 244.5 202.2 243.9 200.8 243.0 199.8 242.4 198.2 241.5 197.2 240.8 195.6 240.0 194.8 239.4 193.2 237.5 190.8 236.9 189.2 236.0 188.2 234.9 186.2 232.5 183.2 232.4 182.8 231.5 181.8 231.4 181.2 230.0 179.8 229.9 179.2 229.0 178.2 228.9 177.8 227.0 175.8 226.8 175.1 221.5 169.2 221.4 168.8 218.8 166.0 218.4 165.2 215.8 162.5 215.4 161.8 212.4 158.8 211.8 158.5 210.8 157.6 210.2 157.5 209.2 156.6 208.8 156.5 207.8 155.6 206.2 155.0 205.2 154.1 201.8 152.5 199.8 151.1 198.8 151.0 197.2 150.1 196.2 150.0 194.8 149.1 193.8 149.0 193.2 148.6 191.8 148.5 191.2 148.1 189.8 148.0 189.2 147.6 187.2 147.5 186.8 147.1 185.2 147.0 184.8 146.6 183.2 146.5 182.8 146.1 181.2 146.0 180.8 145.6 179.2 145.5 178.8 145.1 175.2 144.4 167.2 144.6 166.8 144.9 161.8 145.1 161.2 145.4 159.2 145.6 158.8 145.9 156.8 146.0 156.2 146.4 154.2 146.5 153.8 146.9 151.8 147.0 151.2 147.4 149.2 147.5 148.8 147.9 146.8 148.0 146.2 148.4 144.2 148.5 143.8 148.9 142.8 149.0 141.2 149.9 140.2 150.0 138.8 150.9 137.8 151.0 136.2 151.9 135.2 152.0 133.8 152.9 132.8 153.0 131.2 153.8 130.2 154.0 128.8 154.8 127.8 155.0 126.2 155.8 125.2 156.0 119.2 159.0 118.2 159.8 107.8 165.0 106.8 165.8 102.2 168.0 101.2 168.8 96.2 171.3 93.8 171.9 93.2 172.3 92.2 172.4 91.8 172.8 90.8 172.9 90.2 173.3 89.2 173.4 88.8 173.8 87.8 173.9 87.2 174.3 86.2 174.4 85.8 174.8 85.1 174.8 85.2 173.2 85.6 172.8 85.7 170.8 86.1 170.2 86.2 168.2 86.6 167.8 86.7 165.8 87.1 165.2 87.2 163.2 87.6 162.8 87.7 160.8 88.1 160.2 88.2 158.2 88.6 157.8 88.7 155.8 89.1 155.2 89.2 153.2 89.6 152.8 89.7 150.8 90.2 150.2 92.2 150.7 92.8 151.1 93.8 151.2 94.2 151.6 95.8 151.7 96.2 152.1 97.2 152.2 99.2 153.0 100.7 153.2 101.2 153.5 102.2 153.7 102.8 154.0 103.8 154.2 105.8 155.0 107.2 155.2 107.8 155.5 108.2 155.5 109.2 154.7 112.8 153.0 113.8 152.2 116.2 151.0 117.2 150.2 118.8 149.5 121.2 147.7 123.8 146.5 124.8 145.7 128.2 144.0 129.2 143.2 133.8 141.0 134.8 140.1 139.8 137.6 140.8 137.5 144.2 135.6 145.2 135.5 148.8 133.6 149.8 133.5 155.8 130.6 156.8 130.4 158.8 129.6 160.2 129.4 162.2 128.6 163.8 128.4 164.2 128.1 165.2 127.9 167.2 127.1 168.8 126.9 170.8 126.1 172.2 125.9 174.2 125.1 178.8 124.4 179.2 124.1 181.8 123.9 182.2 123.5 184.2 123.4 184.8 123.0 187.2 122.9 187.8 122.5 195.2 122.4 195.8 122.0M719.2 130.2 719.8 130.2 720.3 130.8 720.3 132.2 720.8 132.8 720.8 134.2 721.3 134.8 721.3 136.2 721.8 136.8 721.8 138.2 722.3 138.8 722.3 140.2 722.8 140.8 722.8 142.2 723.3 142.8 723.3 144.2 723.8 144.8 723.8 146.2 724.3 146.8 724.3 148.2 724.8 148.8 724.8 150.2 724.2 150.8 723.8 150.8 719.8 154.8 719.2 154.8 714.3 159.8 713.8 159.8 706.8 166.8 706.2 168.3 705.3 169.3 704.8 170.8 703.8 171.8 703.3 173.2 702.8 173.8 702.8 174.2 701.8 175.3 701.3 176.8 700.3 177.8 699.8 179.2 698.8 180.2 698.3 181.8 697.3 182.8 697.3 183.2 696.8 183.8 696.8 184.2 696.3 184.8 696.3 185.2 695.8 185.8 695.8 186.2 695.3 186.8 695.3 187.2 694.8 187.8 694.8 188.2 694.3 188.8 694.3 189.3 693.8 189.8 693.8 190.2 693.3 190.7 693.3 191.2 692.8 191.8 692.8 192.2 692.3 192.8 691.8 194.3 691.3 194.8 691.3 195.2 690.8 195.8 690.2 197.3 689.8 197.8 689.8 198.2 688.8 199.2 688.8 199.8 688.3 200.3 688.3 200.8 687.8 201.2 687.8 201.8 687.3 202.2 686.8 203.8 685.8 205.2 685.8 205.8 684.8 206.8 684.3 208.2 683.8 208.8 683.8 209.3 682.8 210.2 682.3 211.8 681.3 212.8 681.3 213.2 680.3 214.2 680.3 214.8 679.3 215.8 679.3 216.2 678.3 217.3 678.3 217.8 677.3 218.8 676.8 220.3 675.8 221.2 675.3 222.8 674.8 223.2 674.8 223.8 673.8 224.8 673.3 226.2 672.8 226.8 672.8 227.2 671.8 228.2 671.8 228.8 670.8 229.8 670.8 230.3 669.8 231.2 669.8 231.8 668.8 232.8 668.8 233.3 666.8 235.8 666.3 237.2 665.3 238.2 665.2 238.8 663.9 240.2 663.8 240.8 661.8 243.2 661.8 243.8 660.4 245.2 660.3 245.8 659.4 246.8 659.3 247.2 657.4 249.2 657.3 249.8 653.4 253.7 653.3 254.2 649.9 257.8 649.8 258.3 646.9 261.2 646.8 261.8 644.4 264.2 644.3 264.8 633.4 275.8 632.8 275.9 626.9 281.2 626.2 281.4 622.9 284.8 622.2 285.0 618.4 288.8 617.8 289.0 616.2 290.4 615.8 290.5 613.2 292.4 611.2 293.5 610.2 294.4 609.8 294.5 605.8 297.4 605.2 297.5 602.8 299.4 602.2 299.5 598.8 302.4 598.2 302.5 596.8 303.9 596.2 304.0 594.8 305.4 592.8 306.5 589.8 308.9 587.8 310.0 584.8 312.4 584.2 312.5 583.2 313.4 582.8 313.5 581.8 314.4 581.2 314.5 577.2 317.4 575.8 318.1 574.8 318.9 570.8 320.9 569.8 321.1 566.2 322.9 565.2 323.1 561.8 324.9 560.8 325.1 558.8 326.4 554.2 328.6 553.2 329.4 549.2 331.4 546.8 332.1 545.2 332.9 541.2 334.1 540.8 334.4 539.8 334.6 535.8 336.4 534.8 336.6 533.2 337.4 532.2 337.6 526.2 340.4 525.2 340.5 522.8 341.9 521.8 342.0 520.2 342.9 519.2 343.0 516.8 344.4 514.2 345.0 513.8 345.4 510.2 346.0 509.8 346.4 508.2 346.5 507.8 346.9 505.8 347.0 505.3 347.4 503.8 347.5 503.2 347.9 501.8 348.0 501.2 348.4 499.2 348.5 498.8 348.9 496.8 349.0 496.2 349.4 494.2 349.5 493.8 349.9 491.8 350.0 491.2 350.4 490.2 350.5 490.0 350.8 490.0 369.8 489.8 370.0 330.2 369.8 330.2 352.2 331.2 352.2 331.8 351.7 334.2 351.7 334.8 351.2 337.2 351.2 337.8 350.7 340.2 350.7 340.8 350.2 346.8 350.2 347.2 349.7 356.2 349.7 356.8 349.2 363.8 349.2 364.2 349.7 368.2 349.7 368.7 350.2 372.8 350.2 373.2 350.7 376.8 350.7 377.2 351.2 380.2 351.2 380.8 351.7 383.8 351.7 384.2 352.2 387.2 352.2 387.8 352.7 389.8 352.7 390.2 353.2 392.2 353.2 392.7 353.7 394.8 353.7 395.2 354.2 397.3 354.2 397.8 354.7 399.8 354.7 400.2 355.2 406.8 355.2 407.2 355.7 413.2 355.7 413.7 355.2 420.8 355.2 421.2 354.7 426.8 354.6 427.2 354.2 430.2 354.1 430.8 353.7 434.2 353.6 434.8 353.2 437.8 353.0 438.2 352.7 442.2 352.5 442.8 352.2 447.2 352.0 447.8 351.6 452.2 351.5 452.8 351.1 454.8 351.0 455.2 350.6 457.2 350.5 457.8 350.1 459.8 350.0 460.2 349.6 462.2 349.5 462.8 349.1 464.8 349.0 465.2 348.6 467.2 348.5 467.7 348.1 469.8 348.0 470.2 347.6 472.2 347.5 472.8 347.1 477.2 346.5 477.8 346.1 478.8 346.0 480.8 345.1 482.2 345.0 485.8 343.6 487.2 343.5 490.8 342.1 492.2 342.0 495.8 340.6 497.2 340.5 500.8 339.1 502.2 339.0 504.8 337.6 505.8 337.5 509.2 335.6 510.2 335.5 513.8 333.6 514.8 333.5 516.2 332.6 517.2 332.5 518.8 331.6 519.8 331.5 521.2 330.6 522.2 330.5 523.8 329.6 524.8 329.5 528.8 327.6 529.8 327.4 530.2 327.1 531.2 326.9 534.8 325.6 536.2 325.4 536.8 325.1 540.8 323.9 541.8 323.5 542.8 322.6 543.2 322.5 544.2 321.6 544.8 321.5 545.8 320.6 547.2 319.9 549.2 318.6 550.8 317.9 551.8 317.1 554.2 315.9 555.2 315.1 565.8 309.9 566.8 309.1 569.2 307.9 570.2 307.1 573.8 305.4 574.8 304.6 580.2 301.9 583.8 299.6 585.2 299.0 589.2 296.1 589.8 296.0 590.8 295.1 591.2 295.0 592.8 293.6 594.8 292.5 598.2 289.6 598.8 289.5 600.2 288.1 600.8 288.0 602.8 286.1 603.2 286.0 606.8 283.1 607.2 283.0 608.8 281.6 609.2 281.5 610.8 280.1 611.2 280.0 612.8 278.6 613.2 278.5 614.8 277.1 615.5 276.8 620.5 271.8 620.8 271.1 626.1 265.8 626.8 265.6 628.8 263.7 629.2 263.6 633.8 259.6 634.1 258.8 639.2 253.6 639.7 252.8 643.6 248.8 643.8 248.2 647.1 244.8 647.2 244.2 650.6 240.8 650.7 240.2 652.6 238.2 652.7 237.8 654.6 235.8 654.7 235.2 656.1 233.8 656.2 233.3 657.1 232.2 657.2 231.8 659.7 228.8 659.7 228.2 661.1 226.8 661.2 226.2 662.2 225.2 662.2 224.8 663.6 223.2 663.7 222.7 664.7 221.8 664.7 221.3 666.1 219.8 666.2 219.2 667.2 218.2 667.2 217.7 668.2 216.8 668.2 216.2 669.2 215.2 669.2 214.7 670.2 213.8 670.2 213.2 671.2 212.3 671.2 211.8 673.2 209.3 673.7 207.8 674.2 207.2 674.2 206.8 675.2 205.8 675.7 204.2 676.2 203.8 676.2 203.2 677.2 202.2 677.2 201.8 677.7 201.2 677.7 200.7 678.2 200.3 678.2 199.7 678.7 199.2 678.7 198.7 679.7 197.2 679.7 196.8 680.2 196.2 680.2 195.2 681.2 193.8 681.2 192.8 682.2 191.2 682.2 190.3 682.7 189.8 683.2 188.2 684.2 186.8 684.2 185.8 684.7 185.2 684.7 184.8 686.2 182.2 686.2 181.8 686.7 181.2 686.7 180.8 687.7 179.8 687.7 179.2 688.7 178.2 688.7 177.7 690.2 176.2 690.2 175.7 691.7 174.2 691.8 173.7 693.2 172.2 693.2 171.8 694.2 170.2 694.2 169.2 694.7 168.8 694.7 167.8 695.2 167.2 695.2 166.2 695.7 165.8 695.7 164.8 696.2 164.2 696.2 163.2 696.7 162.8 696.7 161.8 697.2 161.2 697.2 159.7 697.7 159.2 697.7 158.2 698.2 157.8 698.2 156.8 698.7 156.2 698.7 152.8 698.2 152.2 698.2 149.8 698.7 149.2 698.7 148.2 699.2 147.8 699.2 146.2 699.7 145.8 699.7 144.8 700.2 144.2 700.2 143.2 700.7 142.8 700.7 141.8 701.2 141.2 701.2 140.2 701.7 139.8 701.7 138.8 702.2 138.2 702.2 137.2 702.7 136.8 702.8 135.7 703.8 134.7 705.2 134.7 705.8 134.2 706.8 134.2 707.2 133.7 708.8 133.7 709.2 133.2 710.2 133.2 710.8 132.7 711.8 132.7 712.2 132.2 713.8 132.2 714.2 131.7 715.2 131.7 715.8 131.2 717.2 131.2 717.8 130.7 718.8 130.7 719.2 130.2 M203.2 130.1 208.8 130.1 209.2 130.4 213.2 130.6 215.2 131.4 216.8 131.6 218.8 132.4 220.2 132.6 220.8 132.9 221.8 133.1 225.8 135.9 226.2 136.0 227.2 136.9 227.8 137.0 228.8 137.9 229.2 138.0 230.8 139.4 231.2 139.5 233.2 141.4 233.8 141.5 234.5 142.2 234.8 142.9 238.0 146.2 238.2 146.9 240.5 149.2 240.8 149.9 245.4 155.2 246.5 157.2 249.4 161.2 252.9 168.8 253.1 169.8 253.9 171.2 254.1 172.2 254.4 172.8 254.6 174.2 255.4 176.2 255.6 177.8 257.0 181.2 257.1 182.2 258.0 183.8 258.6 186.2 259.4 187.8 261.1 193.2 261.9 194.8 263.6 200.2 264.4 201.8 264.5 202.8 265.4 204.2 265.5 205.2 266.4 207.2 266.5 208.8 266.9 209.2 267.0 210.2 267.4 210.7 267.6 212.2 268.4 214.2 269.1 217.8 269.4 218.2 269.6 220.2 269.9 220.8 270.0 222.8 268.2 224.4 267.8 224.4 265.8 223.4 264.8 222.5 263.2 221.9 262.2 220.9 258.1 212.8 258.0 211.8 256.6 209.2 256.5 208.2 255.0 205.2 253.6 203.8 253.4 203.2 252.0 201.8 251.9 201.2 249.5 198.2 247.4 194.2 246.6 193.2 245.4 190.8 243.1 187.2 242.4 185.8 241.6 184.8 240.9 183.2 237.1 178.2 235.9 176.2 234.6 174.8 233.4 172.8 232.1 171.2 230.9 169.2 229.6 167.8 228.9 166.2 228.1 165.2 226.5 162.2 225.5 161.2 225.2 160.5 220.5 155.2 220.4 154.2 220.1 153.8 219.9 151.2 218.2 150.5 217.2 149.6 214.8 148.4 213.8 147.6 210.8 146.1 209.8 145.9 208.2 145.1 204.2 143.9 202.8 143.1 198.8 141.9 198.2 141.6 196.2 141.4 195.1 139.8 195.0 139.2 193.2 138.4 192.2 137.6 190.8 137.0 190.0 136.2 190.5 134.8 191.4 133.8 192.0 132.2 192.8 131.6 195.8 131.4 196.2 131.1 199.2 130.9 199.8 130.6 202.8 130.4 203.2 130.1" fill="none" stroke="#000" stroke-width="0.7"/></g></g>
<g font-family="DejaVu Sans, sans-serif" font-size="8.33" text-anchor="middle" fill="#000" stroke="#fff" stroke-width="2.2" stroke-linejoin="round" paint-order="stroke">
<text x="200.3" y="124.8" transform="rotate(0 200.3 121.8)">90%</text>
<text x="235.6" y="177.0" transform="rotate(61 235.6 174.0)">50%</text>
<text x="641.5" y="254.2" transform="rotate(-43 641.5 251.2)">90%</text>
<text x="665.3" y="242.0" transform="rotate(-51 665.3 239.0)">90%</text>
<text x="375.3" y="352.4" transform="rotate(7 375.3 349.4)">90%</text>
</g>
<ellipse cx="410" cy="202" rx="308" ry="154" fill="none" stroke="#000" stroke-width="1.11"/>
<path d="M179.5 202 V207.8 M256.5 202 V207.8 M333.5 202 V207.8 M410.5 202 V207.8 M487.5 202 V207.8 M564.5 202 V207.8 M641.5 202 V207.8 M123 264.5 H128.6 M205.4 319.5 H211 M717.2 202.5 H719" stroke="#000" stroke-width="1.11" fill="none"/>
<g font-family="DejaVu Sans, sans-serif" font-size="13.89" fill="#000">
<text x="718" y="31.9" text-anchor="end">50% area: 480 deg²</text>
<text x="718" y="47.8" text-anchor="end">90% area: 2,484 deg²</text>
<text x="188.29" y="73.55">60<tspan dx="-0.6" dy="0.6" font-size="13.2">°</tspan></text>
<text x="94.75" y="136.00">30<tspan dx="-0.6" dy="0.6" font-size="13.2">°</tspan></text>
<text x="76.78" y="205.28">0<tspan dx="-0.6" dy="0.6" font-size="13.2">°</tspan></text>
<text x="89.81" y="275.70"><tspan font-size="12.2">-</tspan>30<tspan dx="-0.6" dy="0.6" font-size="13.2">°</tspan></text>
<text x="185.04" y="337.05"><tspan font-size="12.2">-</tspan>60<tspan dx="-0.6" dy="0.6" font-size="13.2">°</tspan></text>
<text x="607.34" y="73.65">60<tspan dx="-0.6" dy="0.6" font-size="13.2">°</tspan></text>
<text x="695.99" y="131.00">30<tspan dx="-0.6" dy="0.6" font-size="13.2">°</tspan></text>
<text x="725.93" y="192.67">0<tspan dx="-0.6" dy="0.6" font-size="13.2">°</tspan></text>
<text x="702.04" y="276.00"><tspan font-size="12.2">-</tspan>30<tspan dx="-0.6" dy="0.6" font-size="13.2">°</tspan></text>
<text x="607.04" y="337.65"><tspan font-size="12.2">-</tspan>60<tspan dx="-0.6" dy="0.6" font-size="13.2">°</tspan></text>
<text x="102.0" y="225.6" text-anchor="middle">0<tspan font-size="9.2" dx="0.1" dy="-5.3">h</tspan></text>
<text x="179.0" y="225.6" text-anchor="middle">21<tspan font-size="9.2" dx="0.1" dy="-5.3">h</tspan></text>
<text x="256.0" y="225.6" text-anchor="middle">18<tspan font-size="9.2" dx="0.1" dy="-5.3">h</tspan></text>
<text x="333.0" y="225.6" text-anchor="middle">15<tspan font-size="9.2" dx="0.1" dy="-5.3">h</tspan></text>
<text x="410.0" y="225.6" text-anchor="middle">12<tspan font-size="9.2" dx="0.1" dy="-5.3">h</tspan></text>
<text x="487.0" y="225.6" text-anchor="middle">9<tspan font-size="9.2" dx="0.1" dy="-5.3">h</tspan></text>
<text x="564.0" y="225.6" text-anchor="middle">6<tspan font-size="9.2" dx="0.1" dy="-5.3">h</tspan></text>
<text x="641.0" y="225.6" text-anchor="middle">3<tspan font-size="9.2" dx="0.1" dy="-5.3">h</tspan></text>
<text x="718.0" y="225.6" text-anchor="middle">0<tspan font-size="9.2" dx="0.1" dy="-5.3">h</tspan></text>
</g>
</svg>
</body></html>
